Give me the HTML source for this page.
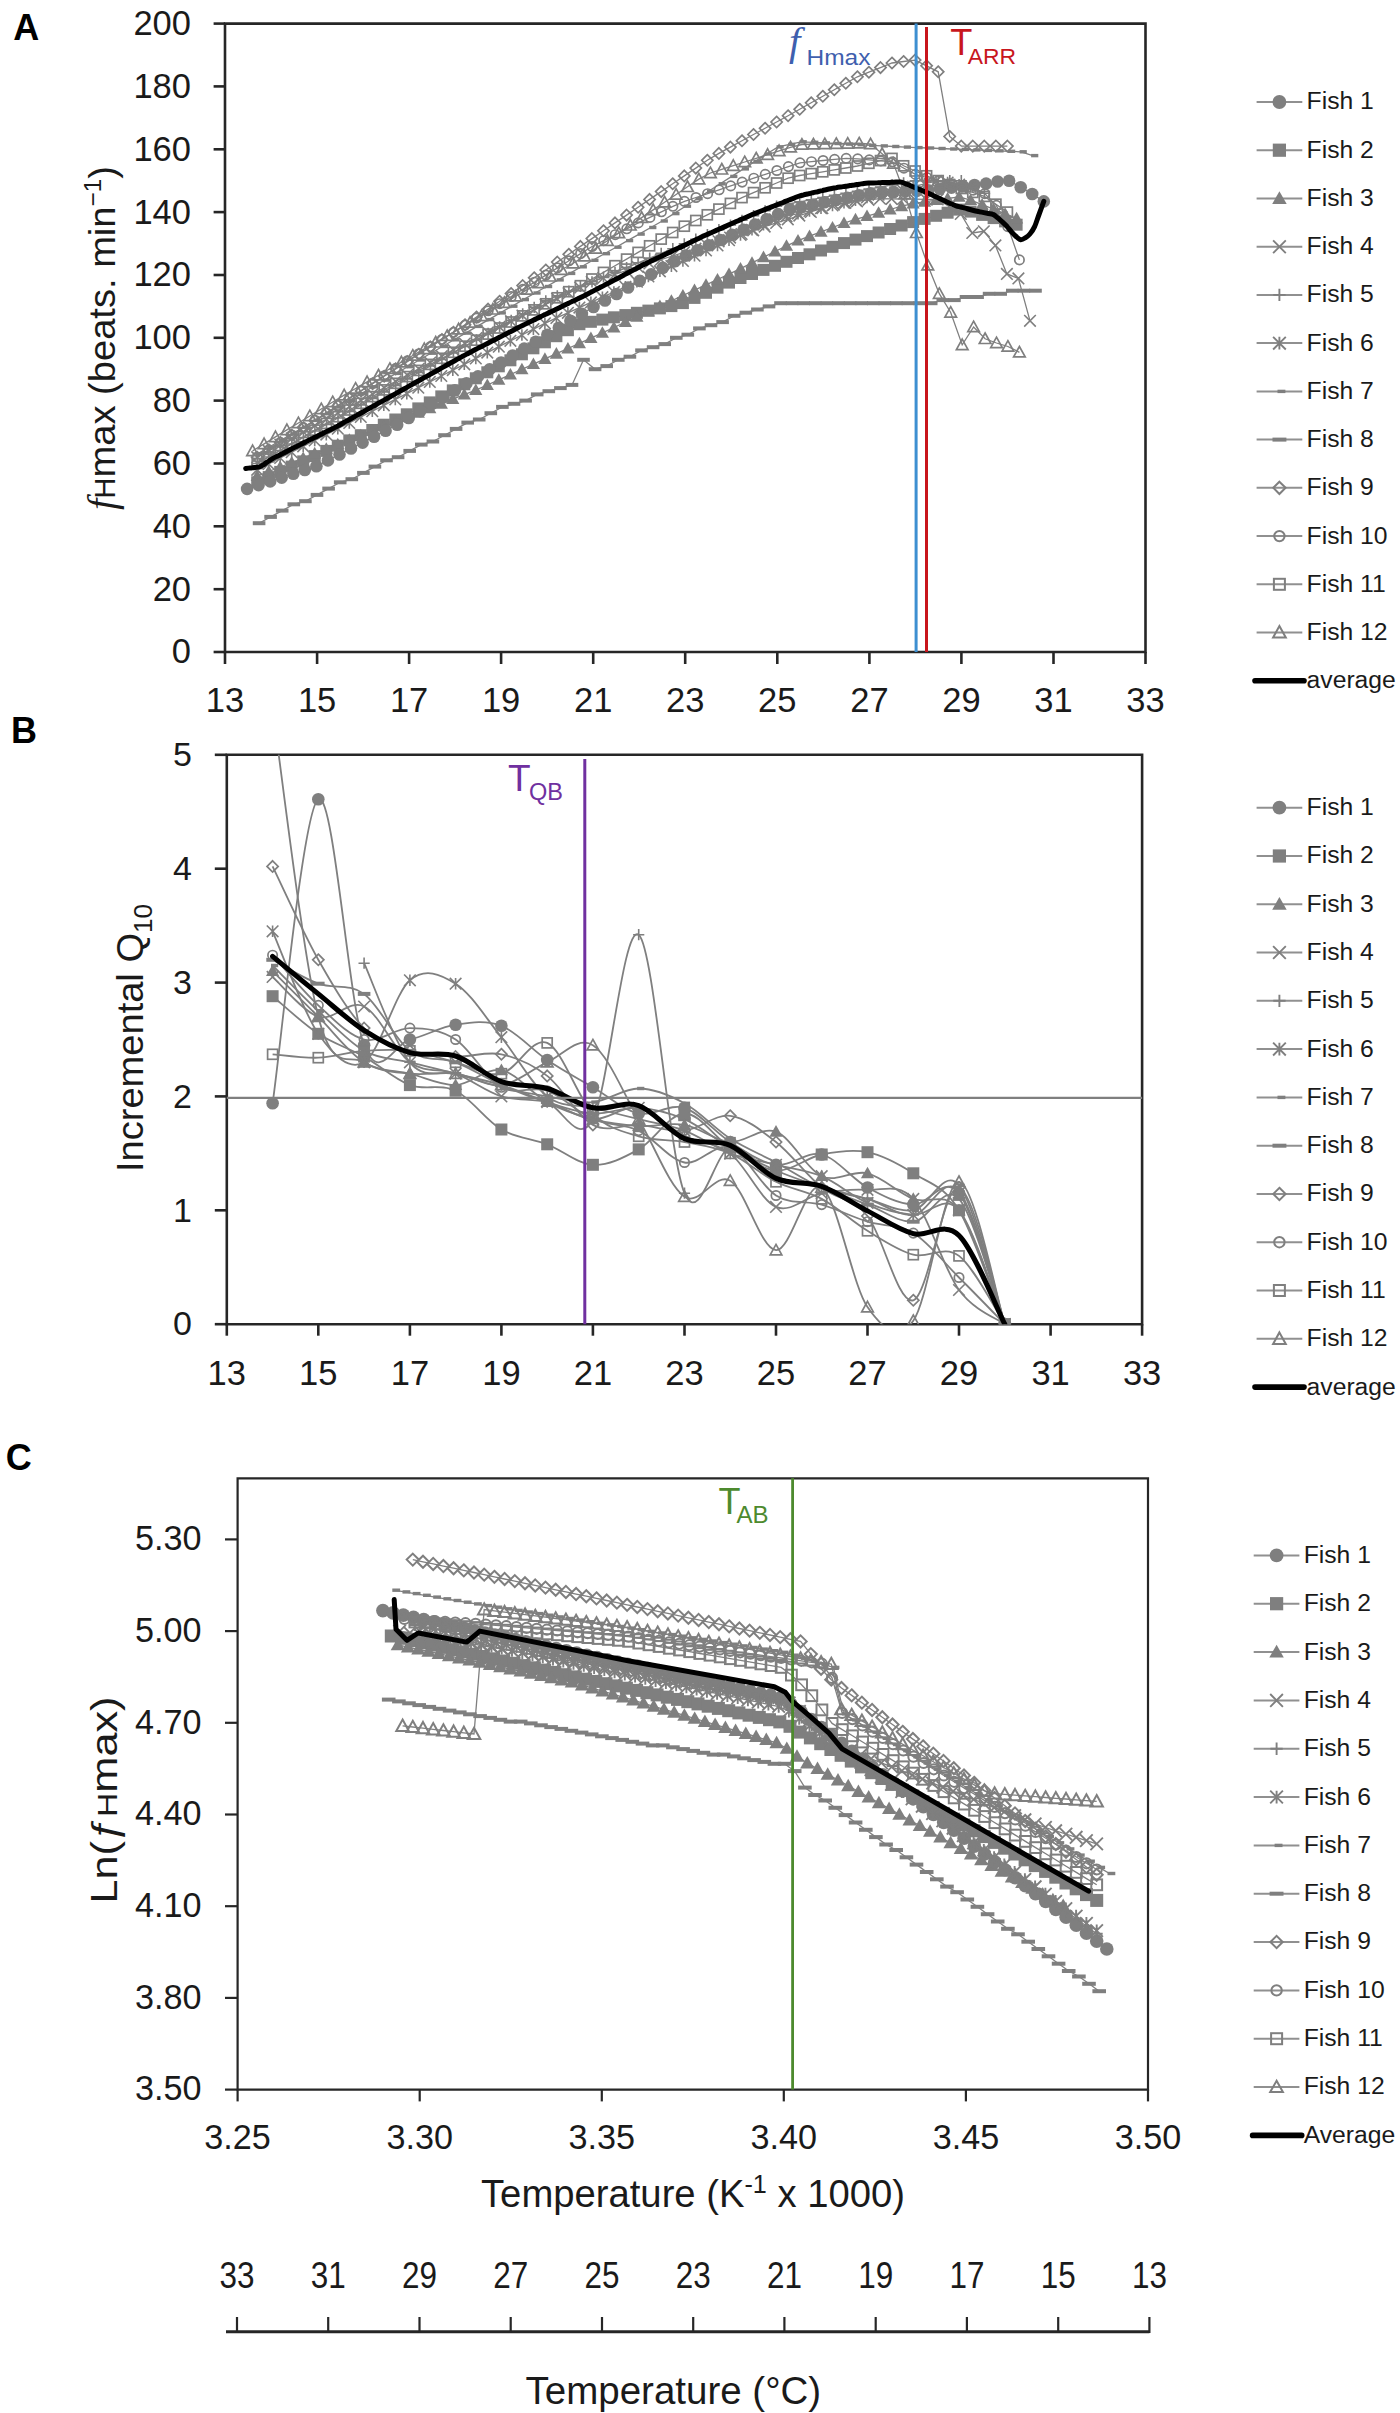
<!DOCTYPE html>
<html><head><meta charset="utf-8"><style>
html,body{margin:0;padding:0;background:#fff;}
svg{display:block;font-family:"Liberation Sans", sans-serif;}
</style></head><body>
<svg width="1400" height="2413" viewBox="0 0 1400 2413">
<rect width="1400" height="2413" fill="#fff"/>
<path d="M225.0 23.6H1145.5V652.0H225.0Z" fill="none" stroke="#262626" stroke-width="2.6"/>
<line x1="213.6" y1="652.0" x2="225.0" y2="652.0" stroke="#262626" stroke-width="2.6"/>
<text x="191.0" y="663.4" font-size="34.5" text-anchor="end" font-weight="normal" fill="#1a1a1a" >0</text>
<line x1="213.6" y1="589.2" x2="225.0" y2="589.2" stroke="#262626" stroke-width="2.6"/>
<text x="191.0" y="600.6" font-size="34.5" text-anchor="end" font-weight="normal" fill="#1a1a1a" >20</text>
<line x1="213.6" y1="526.3" x2="225.0" y2="526.3" stroke="#262626" stroke-width="2.6"/>
<text x="191.0" y="537.7" font-size="34.5" text-anchor="end" font-weight="normal" fill="#1a1a1a" >40</text>
<line x1="213.6" y1="463.5" x2="225.0" y2="463.5" stroke="#262626" stroke-width="2.6"/>
<text x="191.0" y="474.9" font-size="34.5" text-anchor="end" font-weight="normal" fill="#1a1a1a" >60</text>
<line x1="213.6" y1="400.6" x2="225.0" y2="400.6" stroke="#262626" stroke-width="2.6"/>
<text x="191.0" y="412.0" font-size="34.5" text-anchor="end" font-weight="normal" fill="#1a1a1a" >80</text>
<line x1="213.6" y1="337.8" x2="225.0" y2="337.8" stroke="#262626" stroke-width="2.6"/>
<text x="191.0" y="349.2" font-size="34.5" text-anchor="end" font-weight="normal" fill="#1a1a1a" >100</text>
<line x1="213.6" y1="275.0" x2="225.0" y2="275.0" stroke="#262626" stroke-width="2.6"/>
<text x="191.0" y="286.4" font-size="34.5" text-anchor="end" font-weight="normal" fill="#1a1a1a" >120</text>
<line x1="213.6" y1="212.1" x2="225.0" y2="212.1" stroke="#262626" stroke-width="2.6"/>
<text x="191.0" y="223.5" font-size="34.5" text-anchor="end" font-weight="normal" fill="#1a1a1a" >140</text>
<line x1="213.6" y1="149.3" x2="225.0" y2="149.3" stroke="#262626" stroke-width="2.6"/>
<text x="191.0" y="160.7" font-size="34.5" text-anchor="end" font-weight="normal" fill="#1a1a1a" >160</text>
<line x1="213.6" y1="86.4" x2="225.0" y2="86.4" stroke="#262626" stroke-width="2.6"/>
<text x="191.0" y="97.8" font-size="34.5" text-anchor="end" font-weight="normal" fill="#1a1a1a" >180</text>
<line x1="213.6" y1="23.6" x2="225.0" y2="23.6" stroke="#262626" stroke-width="2.6"/>
<text x="191.0" y="35.0" font-size="34.5" text-anchor="end" font-weight="normal" fill="#1a1a1a" >200</text>
<line x1="225.0" y1="652.0" x2="225.0" y2="664" stroke="#262626" stroke-width="2.6"/>
<text x="225.0" y="712.0" font-size="34.5" text-anchor="middle" font-weight="normal" fill="#1a1a1a" >13</text>
<line x1="317.1" y1="652.0" x2="317.1" y2="664" stroke="#262626" stroke-width="2.6"/>
<text x="317.1" y="712.0" font-size="34.5" text-anchor="middle" font-weight="normal" fill="#1a1a1a" >15</text>
<line x1="409.1" y1="652.0" x2="409.1" y2="664" stroke="#262626" stroke-width="2.6"/>
<text x="409.1" y="712.0" font-size="34.5" text-anchor="middle" font-weight="normal" fill="#1a1a1a" >17</text>
<line x1="501.1" y1="652.0" x2="501.1" y2="664" stroke="#262626" stroke-width="2.6"/>
<text x="501.1" y="712.0" font-size="34.5" text-anchor="middle" font-weight="normal" fill="#1a1a1a" >19</text>
<line x1="593.2" y1="652.0" x2="593.2" y2="664" stroke="#262626" stroke-width="2.6"/>
<text x="593.2" y="712.0" font-size="34.5" text-anchor="middle" font-weight="normal" fill="#1a1a1a" >21</text>
<line x1="685.2" y1="652.0" x2="685.2" y2="664" stroke="#262626" stroke-width="2.6"/>
<text x="685.2" y="712.0" font-size="34.5" text-anchor="middle" font-weight="normal" fill="#1a1a1a" >23</text>
<line x1="777.3" y1="652.0" x2="777.3" y2="664" stroke="#262626" stroke-width="2.6"/>
<text x="777.3" y="712.0" font-size="34.5" text-anchor="middle" font-weight="normal" fill="#1a1a1a" >25</text>
<line x1="869.4" y1="652.0" x2="869.4" y2="664" stroke="#262626" stroke-width="2.6"/>
<text x="869.4" y="712.0" font-size="34.5" text-anchor="middle" font-weight="normal" fill="#1a1a1a" >27</text>
<line x1="961.4" y1="652.0" x2="961.4" y2="664" stroke="#262626" stroke-width="2.6"/>
<text x="961.4" y="712.0" font-size="34.5" text-anchor="middle" font-weight="normal" fill="#1a1a1a" >29</text>
<line x1="1053.5" y1="652.0" x2="1053.5" y2="664" stroke="#262626" stroke-width="2.6"/>
<text x="1053.5" y="712.0" font-size="34.5" text-anchor="middle" font-weight="normal" fill="#1a1a1a" >31</text>
<line x1="1145.5" y1="652.0" x2="1145.5" y2="664" stroke="#262626" stroke-width="2.6"/>
<text x="1145.5" y="712.0" font-size="34.5" text-anchor="middle" font-weight="normal" fill="#1a1a1a" >33</text>
<path d="M226.8 754.8H1142.1V1324.2H226.8Z" fill="none" stroke="#262626" stroke-width="2.6"/>
<line x1="214.8" y1="1324.2" x2="226.8" y2="1324.2" stroke="#262626" stroke-width="2.6"/>
<text x="192.0" y="1335.4" font-size="34.0" text-anchor="end" font-weight="normal" fill="#1a1a1a" >0</text>
<line x1="214.8" y1="1210.3" x2="226.8" y2="1210.3" stroke="#262626" stroke-width="2.6"/>
<text x="192.0" y="1221.5" font-size="34.0" text-anchor="end" font-weight="normal" fill="#1a1a1a" >1</text>
<line x1="214.8" y1="1096.4" x2="226.8" y2="1096.4" stroke="#262626" stroke-width="2.6"/>
<text x="192.0" y="1107.6" font-size="34.0" text-anchor="end" font-weight="normal" fill="#1a1a1a" >2</text>
<line x1="214.8" y1="982.6" x2="226.8" y2="982.6" stroke="#262626" stroke-width="2.6"/>
<text x="192.0" y="993.8" font-size="34.0" text-anchor="end" font-weight="normal" fill="#1a1a1a" >3</text>
<line x1="214.8" y1="868.7" x2="226.8" y2="868.7" stroke="#262626" stroke-width="2.6"/>
<text x="192.0" y="879.9" font-size="34.0" text-anchor="end" font-weight="normal" fill="#1a1a1a" >4</text>
<line x1="214.8" y1="754.8" x2="226.8" y2="754.8" stroke="#262626" stroke-width="2.6"/>
<text x="192.0" y="766.0" font-size="34.0" text-anchor="end" font-weight="normal" fill="#1a1a1a" >5</text>
<line x1="226.8" y1="1324.2" x2="226.8" y2="1335.7" stroke="#262626" stroke-width="2.6"/>
<text x="226.8" y="1384.5" font-size="34.5" text-anchor="middle" font-weight="normal" fill="#1a1a1a" >13</text>
<line x1="318.3" y1="1324.2" x2="318.3" y2="1335.7" stroke="#262626" stroke-width="2.6"/>
<text x="318.3" y="1384.5" font-size="34.5" text-anchor="middle" font-weight="normal" fill="#1a1a1a" >15</text>
<line x1="409.9" y1="1324.2" x2="409.9" y2="1335.7" stroke="#262626" stroke-width="2.6"/>
<text x="409.9" y="1384.5" font-size="34.5" text-anchor="middle" font-weight="normal" fill="#1a1a1a" >17</text>
<line x1="501.4" y1="1324.2" x2="501.4" y2="1335.7" stroke="#262626" stroke-width="2.6"/>
<text x="501.4" y="1384.5" font-size="34.5" text-anchor="middle" font-weight="normal" fill="#1a1a1a" >19</text>
<line x1="592.9" y1="1324.2" x2="592.9" y2="1335.7" stroke="#262626" stroke-width="2.6"/>
<text x="592.9" y="1384.5" font-size="34.5" text-anchor="middle" font-weight="normal" fill="#1a1a1a" >21</text>
<line x1="684.5" y1="1324.2" x2="684.5" y2="1335.7" stroke="#262626" stroke-width="2.6"/>
<text x="684.5" y="1384.5" font-size="34.5" text-anchor="middle" font-weight="normal" fill="#1a1a1a" >23</text>
<line x1="776.0" y1="1324.2" x2="776.0" y2="1335.7" stroke="#262626" stroke-width="2.6"/>
<text x="776.0" y="1384.5" font-size="34.5" text-anchor="middle" font-weight="normal" fill="#1a1a1a" >25</text>
<line x1="867.5" y1="1324.2" x2="867.5" y2="1335.7" stroke="#262626" stroke-width="2.6"/>
<text x="867.5" y="1384.5" font-size="34.5" text-anchor="middle" font-weight="normal" fill="#1a1a1a" >27</text>
<line x1="959.0" y1="1324.2" x2="959.0" y2="1335.7" stroke="#262626" stroke-width="2.6"/>
<text x="959.0" y="1384.5" font-size="34.5" text-anchor="middle" font-weight="normal" fill="#1a1a1a" >29</text>
<line x1="1050.6" y1="1324.2" x2="1050.6" y2="1335.7" stroke="#262626" stroke-width="2.6"/>
<text x="1050.6" y="1384.5" font-size="34.5" text-anchor="middle" font-weight="normal" fill="#1a1a1a" >31</text>
<line x1="1142.1" y1="1324.2" x2="1142.1" y2="1335.7" stroke="#262626" stroke-width="2.6"/>
<text x="1142.1" y="1384.5" font-size="34.5" text-anchor="middle" font-weight="normal" fill="#1a1a1a" >33</text>
<path d="M237.6 1478.3H1148.0V2089.6H237.6Z" fill="none" stroke="#262626" stroke-width="2.2"/>
<line x1="225" y1="2089.6" x2="237.6" y2="2089.6" stroke="#262626" stroke-width="2.2"/>
<text x="201.6" y="2100.3" font-size="34.2" text-anchor="end" font-weight="normal" fill="#1a1a1a" >3.50</text>
<line x1="225" y1="1997.9" x2="237.6" y2="1997.9" stroke="#262626" stroke-width="2.2"/>
<text x="201.6" y="2008.6" font-size="34.2" text-anchor="end" font-weight="normal" fill="#1a1a1a" >3.80</text>
<line x1="225" y1="1906.2" x2="237.6" y2="1906.2" stroke="#262626" stroke-width="2.2"/>
<text x="201.6" y="1916.9" font-size="34.2" text-anchor="end" font-weight="normal" fill="#1a1a1a" >4.10</text>
<line x1="225" y1="1814.5" x2="237.6" y2="1814.5" stroke="#262626" stroke-width="2.2"/>
<text x="201.6" y="1825.2" font-size="34.2" text-anchor="end" font-weight="normal" fill="#1a1a1a" >4.40</text>
<line x1="225" y1="1722.8" x2="237.6" y2="1722.8" stroke="#262626" stroke-width="2.2"/>
<text x="201.6" y="1733.5" font-size="34.2" text-anchor="end" font-weight="normal" fill="#1a1a1a" >4.70</text>
<line x1="225" y1="1631.1" x2="237.6" y2="1631.1" stroke="#262626" stroke-width="2.2"/>
<text x="201.6" y="1641.8" font-size="34.2" text-anchor="end" font-weight="normal" fill="#1a1a1a" >5.00</text>
<line x1="225" y1="1539.4" x2="237.6" y2="1539.4" stroke="#262626" stroke-width="2.2"/>
<text x="201.6" y="1550.1" font-size="34.2" text-anchor="end" font-weight="normal" fill="#1a1a1a" >5.30</text>
<line x1="237.6" y1="2089.6" x2="237.6" y2="2101.4" stroke="#262626" stroke-width="2.2"/>
<text x="237.6" y="2149.3" font-size="34.2" text-anchor="middle" font-weight="normal" fill="#1a1a1a" >3.25</text>
<line x1="419.7" y1="2089.6" x2="419.7" y2="2101.4" stroke="#262626" stroke-width="2.2"/>
<text x="419.7" y="2149.3" font-size="34.2" text-anchor="middle" font-weight="normal" fill="#1a1a1a" >3.30</text>
<line x1="601.8" y1="2089.6" x2="601.8" y2="2101.4" stroke="#262626" stroke-width="2.2"/>
<text x="601.8" y="2149.3" font-size="34.2" text-anchor="middle" font-weight="normal" fill="#1a1a1a" >3.35</text>
<line x1="783.8" y1="2089.6" x2="783.8" y2="2101.4" stroke="#262626" stroke-width="2.2"/>
<text x="783.8" y="2149.3" font-size="34.2" text-anchor="middle" font-weight="normal" fill="#1a1a1a" >3.40</text>
<line x1="965.9" y1="2089.6" x2="965.9" y2="2101.4" stroke="#262626" stroke-width="2.2"/>
<text x="965.9" y="2149.3" font-size="34.2" text-anchor="middle" font-weight="normal" fill="#1a1a1a" >3.45</text>
<line x1="1148.0" y1="2089.6" x2="1148.0" y2="2101.4" stroke="#262626" stroke-width="2.2"/>
<text x="1148.0" y="2149.3" font-size="34.2" text-anchor="middle" font-weight="normal" fill="#1a1a1a" >3.50</text>
<line x1="226" y1="2331.7" x2="1149.4" y2="2331.7" stroke="#262626" stroke-width="3"/>
<line x1="237.0" y1="2317" x2="237.0" y2="2333" stroke="#262626" stroke-width="2.2"/>
<text x="237.0" y="2288.3" font-size="37" text-anchor="middle" fill="#1a1a1a" transform="translate(237.0 0) scale(0.85 1) translate(-237.0 0)">33</text>
<line x1="328.2" y1="2317" x2="328.2" y2="2333" stroke="#262626" stroke-width="2.2"/>
<text x="328.2" y="2288.3" font-size="37" text-anchor="middle" fill="#1a1a1a" transform="translate(328.2 0) scale(0.85 1) translate(-328.2 0)">31</text>
<line x1="419.5" y1="2317" x2="419.5" y2="2333" stroke="#262626" stroke-width="2.2"/>
<text x="419.5" y="2288.3" font-size="37" text-anchor="middle" fill="#1a1a1a" transform="translate(419.5 0) scale(0.85 1) translate(-419.5 0)">29</text>
<line x1="510.7" y1="2317" x2="510.7" y2="2333" stroke="#262626" stroke-width="2.2"/>
<text x="510.7" y="2288.3" font-size="37" text-anchor="middle" fill="#1a1a1a" transform="translate(510.7 0) scale(0.85 1) translate(-510.7 0)">27</text>
<line x1="602.0" y1="2317" x2="602.0" y2="2333" stroke="#262626" stroke-width="2.2"/>
<text x="602.0" y="2288.3" font-size="37" text-anchor="middle" fill="#1a1a1a" transform="translate(602.0 0) scale(0.85 1) translate(-602.0 0)">25</text>
<line x1="693.2" y1="2317" x2="693.2" y2="2333" stroke="#262626" stroke-width="2.2"/>
<text x="693.2" y="2288.3" font-size="37" text-anchor="middle" fill="#1a1a1a" transform="translate(693.2 0) scale(0.85 1) translate(-693.2 0)">23</text>
<line x1="784.4" y1="2317" x2="784.4" y2="2333" stroke="#262626" stroke-width="2.2"/>
<text x="784.4" y="2288.3" font-size="37" text-anchor="middle" fill="#1a1a1a" transform="translate(784.4 0) scale(0.85 1) translate(-784.4 0)">21</text>
<line x1="875.7" y1="2317" x2="875.7" y2="2333" stroke="#262626" stroke-width="2.2"/>
<text x="875.7" y="2288.3" font-size="37" text-anchor="middle" fill="#1a1a1a" transform="translate(875.7 0) scale(0.85 1) translate(-875.7 0)">19</text>
<line x1="966.9" y1="2317" x2="966.9" y2="2333" stroke="#262626" stroke-width="2.2"/>
<text x="966.9" y="2288.3" font-size="37" text-anchor="middle" fill="#1a1a1a" transform="translate(966.9 0) scale(0.85 1) translate(-966.9 0)">17</text>
<line x1="1058.2" y1="2317" x2="1058.2" y2="2333" stroke="#262626" stroke-width="2.2"/>
<text x="1058.2" y="2288.3" font-size="37" text-anchor="middle" fill="#1a1a1a" transform="translate(1058.2 0) scale(0.85 1) translate(-1058.2 0)">15</text>
<line x1="1149.4" y1="2317" x2="1149.4" y2="2333" stroke="#262626" stroke-width="2.2"/>
<text x="1149.4" y="2288.3" font-size="37" text-anchor="middle" fill="#1a1a1a" transform="translate(1149.4 0) scale(0.85 1) translate(-1149.4 0)">13</text>
<text x="13.2" y="39.7" font-size="36" text-anchor="start" font-weight="bold" fill="#000" >A</text>
<text x="10.9" y="742.6" font-size="36" text-anchor="start" font-weight="bold" fill="#000" >B</text>
<text x="5.7" y="1470.3" font-size="36" text-anchor="start" font-weight="bold" fill="#000" >C</text>
<line x1="1256.6" y1="102.0" x2="1302.3" y2="102.0" stroke="#909090" stroke-width="2"/>
<circle cx="1279.4" cy="102.0" r="6.9" fill="#7f7f7f"/>
<text x="1306.6" y="109.4" font-size="24.7" text-anchor="start" font-weight="normal" fill="#1a1a1a" >Fish 1</text>
<line x1="1256.6" y1="150.2" x2="1302.3" y2="150.2" stroke="#909090" stroke-width="2"/>
<rect x="1272.8" y="143.6" width="13.2" height="13.2" fill="#7f7f7f"/>
<text x="1306.6" y="157.6" font-size="24.7" text-anchor="start" font-weight="normal" fill="#1a1a1a" >Fish 2</text>
<line x1="1256.6" y1="198.5" x2="1302.3" y2="198.5" stroke="#909090" stroke-width="2"/>
<path d="M1279.4 191.2L1286.7 203.9L1272.2 203.9Z" fill="#7f7f7f"/>
<text x="1306.6" y="205.9" font-size="24.7" text-anchor="start" font-weight="normal" fill="#1a1a1a" >Fish 3</text>
<line x1="1256.6" y1="246.7" x2="1302.3" y2="246.7" stroke="#909090" stroke-width="2"/>
<path d="M1273.1 240.3L1285.8 253.1M1285.8 240.3L1273.1 253.1" stroke="#7f7f7f" stroke-width="1.9" fill="none"/>
<text x="1306.6" y="254.1" font-size="24.7" text-anchor="start" font-weight="normal" fill="#1a1a1a" >Fish 4</text>
<line x1="1256.6" y1="294.9" x2="1302.3" y2="294.9" stroke="#909090" stroke-width="2"/>
<path d="M1273.3 294.9L1285.6 294.9M1279.4 288.8L1279.4 301.1" stroke="#7f7f7f" stroke-width="1.9" fill="none"/>
<text x="1306.6" y="302.3" font-size="24.7" text-anchor="start" font-weight="normal" fill="#1a1a1a" >Fish 5</text>
<line x1="1256.6" y1="343.1" x2="1302.3" y2="343.1" stroke="#909090" stroke-width="2"/>
<path d="M1273.1 336.8L1285.8 349.5M1285.8 336.8L1273.1 349.5M1279.4 336.8L1279.4 349.5" stroke="#7f7f7f" stroke-width="1.9" fill="none"/>
<text x="1306.6" y="350.5" font-size="24.7" text-anchor="start" font-weight="normal" fill="#1a1a1a" >Fish 6</text>
<line x1="1256.6" y1="391.4" x2="1302.3" y2="391.4" stroke="#909090" stroke-width="2"/>
<rect x="1277.5" y="389.7" width="7.9" height="3.4" fill="#7f7f7f"/>
<text x="1306.6" y="398.8" font-size="24.7" text-anchor="start" font-weight="normal" fill="#1a1a1a" >Fish 7</text>
<line x1="1256.6" y1="439.6" x2="1302.3" y2="439.6" stroke="#909090" stroke-width="2"/>
<rect x="1272.5" y="437.6" width="13.9" height="4" fill="#7f7f7f"/>
<text x="1306.6" y="447.0" font-size="24.7" text-anchor="start" font-weight="normal" fill="#1a1a1a" >Fish 8</text>
<line x1="1256.6" y1="487.8" x2="1302.3" y2="487.8" stroke="#909090" stroke-width="2"/>
<path d="M1279.4 481.7L1285.6 487.8L1279.4 494.0L1273.3 487.8Z" stroke="#7f7f7f" stroke-width="2.0" fill="none"/>
<text x="1306.6" y="495.2" font-size="24.7" text-anchor="start" font-weight="normal" fill="#1a1a1a" >Fish 9</text>
<line x1="1256.6" y1="536.1" x2="1302.3" y2="536.1" stroke="#909090" stroke-width="2"/>
<circle cx="1279.4" cy="536.1" r="5.2" stroke="#7f7f7f" stroke-width="2.0" fill="none"/>
<text x="1306.6" y="543.5" font-size="24.7" text-anchor="start" font-weight="normal" fill="#1a1a1a" >Fish 10</text>
<line x1="1256.6" y1="584.3" x2="1302.3" y2="584.3" stroke="#909090" stroke-width="2"/>
<rect x="1273.9" y="578.8" width="11.0" height="11.0" stroke="#7f7f7f" stroke-width="2.0" fill="none"/>
<text x="1306.6" y="591.7" font-size="24.7" text-anchor="start" font-weight="normal" fill="#1a1a1a" >Fish 11</text>
<line x1="1256.6" y1="632.5" x2="1302.3" y2="632.5" stroke="#909090" stroke-width="2"/>
<path d="M1279.4 626.1L1285.8 637.6L1273.1 637.6Z" stroke="#7f7f7f" stroke-width="2.0" fill="none"/>
<text x="1306.6" y="639.9" font-size="24.7" text-anchor="start" font-weight="normal" fill="#1a1a1a" >Fish 12</text>
<line x1="1255" y1="680.8" x2="1304" y2="680.8" stroke="#000" stroke-width="5.6" stroke-linecap="round"/>
<text x="1306.6" y="688.2" font-size="24.7" text-anchor="start" font-weight="normal" fill="#1a1a1a" >average</text>
<line x1="1256.6" y1="807.7" x2="1302.3" y2="807.7" stroke="#909090" stroke-width="2"/>
<circle cx="1279.4" cy="807.7" r="6.9" fill="#7f7f7f"/>
<text x="1306.6" y="815.1" font-size="24.7" text-anchor="start" font-weight="normal" fill="#1a1a1a" >Fish 1</text>
<line x1="1256.6" y1="856.0" x2="1302.3" y2="856.0" stroke="#909090" stroke-width="2"/>
<rect x="1272.8" y="849.4" width="13.2" height="13.2" fill="#7f7f7f"/>
<text x="1306.6" y="863.4" font-size="24.7" text-anchor="start" font-weight="normal" fill="#1a1a1a" >Fish 2</text>
<line x1="1256.6" y1="904.3" x2="1302.3" y2="904.3" stroke="#909090" stroke-width="2"/>
<path d="M1279.4 897.0L1286.7 909.7L1272.2 909.7Z" fill="#7f7f7f"/>
<text x="1306.6" y="911.7" font-size="24.7" text-anchor="start" font-weight="normal" fill="#1a1a1a" >Fish 3</text>
<line x1="1256.6" y1="952.5" x2="1302.3" y2="952.5" stroke="#909090" stroke-width="2"/>
<path d="M1273.1 946.2L1285.8 958.9M1285.8 946.2L1273.1 958.9" stroke="#7f7f7f" stroke-width="1.9" fill="none"/>
<text x="1306.6" y="959.9" font-size="24.7" text-anchor="start" font-weight="normal" fill="#1a1a1a" >Fish 4</text>
<line x1="1256.6" y1="1000.8" x2="1302.3" y2="1000.8" stroke="#909090" stroke-width="2"/>
<path d="M1273.3 1000.8L1285.6 1000.8M1279.4 994.7L1279.4 1007.0" stroke="#7f7f7f" stroke-width="1.9" fill="none"/>
<text x="1306.6" y="1008.2" font-size="24.7" text-anchor="start" font-weight="normal" fill="#1a1a1a" >Fish 5</text>
<line x1="1256.6" y1="1049.1" x2="1302.3" y2="1049.1" stroke="#909090" stroke-width="2"/>
<path d="M1273.1 1042.7L1285.8 1055.5M1285.8 1042.7L1273.1 1055.5M1279.4 1042.7L1279.4 1055.5" stroke="#7f7f7f" stroke-width="1.9" fill="none"/>
<text x="1306.6" y="1056.5" font-size="24.7" text-anchor="start" font-weight="normal" fill="#1a1a1a" >Fish 6</text>
<line x1="1256.6" y1="1097.4" x2="1302.3" y2="1097.4" stroke="#909090" stroke-width="2"/>
<rect x="1277.5" y="1095.7" width="7.9" height="3.4" fill="#7f7f7f"/>
<text x="1306.6" y="1104.8" font-size="24.7" text-anchor="start" font-weight="normal" fill="#1a1a1a" >Fish 7</text>
<line x1="1256.6" y1="1145.7" x2="1302.3" y2="1145.7" stroke="#909090" stroke-width="2"/>
<rect x="1272.5" y="1143.7" width="13.9" height="4" fill="#7f7f7f"/>
<text x="1306.6" y="1153.1" font-size="24.7" text-anchor="start" font-weight="normal" fill="#1a1a1a" >Fish 8</text>
<line x1="1256.6" y1="1193.9" x2="1302.3" y2="1193.9" stroke="#909090" stroke-width="2"/>
<path d="M1279.4 1187.8L1285.6 1193.9L1279.4 1200.1L1273.3 1193.9Z" stroke="#7f7f7f" stroke-width="2.0" fill="none"/>
<text x="1306.6" y="1201.3" font-size="24.7" text-anchor="start" font-weight="normal" fill="#1a1a1a" >Fish 9</text>
<line x1="1256.6" y1="1242.2" x2="1302.3" y2="1242.2" stroke="#909090" stroke-width="2"/>
<circle cx="1279.4" cy="1242.2" r="5.2" stroke="#7f7f7f" stroke-width="2.0" fill="none"/>
<text x="1306.6" y="1249.6" font-size="24.7" text-anchor="start" font-weight="normal" fill="#1a1a1a" >Fish 10</text>
<line x1="1256.6" y1="1290.5" x2="1302.3" y2="1290.5" stroke="#909090" stroke-width="2"/>
<rect x="1273.9" y="1285.0" width="11.0" height="11.0" stroke="#7f7f7f" stroke-width="2.0" fill="none"/>
<text x="1306.6" y="1297.9" font-size="24.7" text-anchor="start" font-weight="normal" fill="#1a1a1a" >Fish 11</text>
<line x1="1256.6" y1="1338.8" x2="1302.3" y2="1338.8" stroke="#909090" stroke-width="2"/>
<path d="M1279.4 1332.4L1285.8 1343.9L1273.1 1343.9Z" stroke="#7f7f7f" stroke-width="2.0" fill="none"/>
<text x="1306.6" y="1346.2" font-size="24.7" text-anchor="start" font-weight="normal" fill="#1a1a1a" >Fish 12</text>
<line x1="1255" y1="1387.1" x2="1304" y2="1387.1" stroke="#000" stroke-width="5.6" stroke-linecap="round"/>
<text x="1306.6" y="1394.5" font-size="24.7" text-anchor="start" font-weight="normal" fill="#1a1a1a" >average</text>
<line x1="1253.7" y1="1555.4" x2="1299.4" y2="1555.4" stroke="#909090" stroke-width="2"/>
<circle cx="1276.6" cy="1555.4" r="6.9" fill="#7f7f7f"/>
<text x="1303.7" y="1562.8" font-size="24.7" text-anchor="start" font-weight="normal" fill="#1a1a1a" >Fish 1</text>
<line x1="1253.7" y1="1603.7" x2="1299.4" y2="1603.7" stroke="#909090" stroke-width="2"/>
<rect x="1270.0" y="1597.1" width="13.2" height="13.2" fill="#7f7f7f"/>
<text x="1303.7" y="1611.1" font-size="24.7" text-anchor="start" font-weight="normal" fill="#1a1a1a" >Fish 2</text>
<line x1="1253.7" y1="1652.1" x2="1299.4" y2="1652.1" stroke="#909090" stroke-width="2"/>
<path d="M1276.6 1644.8L1283.8 1657.5L1269.3 1657.5Z" fill="#7f7f7f"/>
<text x="1303.7" y="1659.5" font-size="24.7" text-anchor="start" font-weight="normal" fill="#1a1a1a" >Fish 3</text>
<line x1="1253.7" y1="1700.4" x2="1299.4" y2="1700.4" stroke="#909090" stroke-width="2"/>
<path d="M1270.2 1694.0L1282.9 1706.8M1282.9 1694.0L1270.2 1706.8" stroke="#7f7f7f" stroke-width="1.9" fill="none"/>
<text x="1303.7" y="1707.8" font-size="24.7" text-anchor="start" font-weight="normal" fill="#1a1a1a" >Fish 4</text>
<line x1="1253.7" y1="1748.7" x2="1299.4" y2="1748.7" stroke="#909090" stroke-width="2"/>
<path d="M1270.4 1748.7L1282.7 1748.7M1276.6 1742.6L1276.6 1754.9" stroke="#7f7f7f" stroke-width="1.9" fill="none"/>
<text x="1303.7" y="1756.1" font-size="24.7" text-anchor="start" font-weight="normal" fill="#1a1a1a" >Fish 5</text>
<line x1="1253.7" y1="1797.1" x2="1299.4" y2="1797.1" stroke="#909090" stroke-width="2"/>
<path d="M1270.2 1790.7L1282.9 1803.4M1282.9 1790.7L1270.2 1803.4M1276.6 1790.7L1276.6 1803.4" stroke="#7f7f7f" stroke-width="1.9" fill="none"/>
<text x="1303.7" y="1804.5" font-size="24.7" text-anchor="start" font-weight="normal" fill="#1a1a1a" >Fish 6</text>
<line x1="1253.7" y1="1845.4" x2="1299.4" y2="1845.4" stroke="#909090" stroke-width="2"/>
<rect x="1274.6" y="1843.7" width="7.9" height="3.4" fill="#7f7f7f"/>
<text x="1303.7" y="1852.8" font-size="24.7" text-anchor="start" font-weight="normal" fill="#1a1a1a" >Fish 7</text>
<line x1="1253.7" y1="1893.7" x2="1299.4" y2="1893.7" stroke="#909090" stroke-width="2"/>
<rect x="1269.6" y="1891.7" width="13.9" height="4" fill="#7f7f7f"/>
<text x="1303.7" y="1901.1" font-size="24.7" text-anchor="start" font-weight="normal" fill="#1a1a1a" >Fish 8</text>
<line x1="1253.7" y1="1942.0" x2="1299.4" y2="1942.0" stroke="#909090" stroke-width="2"/>
<path d="M1276.6 1935.9L1282.7 1942.0L1276.6 1948.2L1270.4 1942.0Z" stroke="#7f7f7f" stroke-width="2.0" fill="none"/>
<text x="1303.7" y="1949.4" font-size="24.7" text-anchor="start" font-weight="normal" fill="#1a1a1a" >Fish 9</text>
<line x1="1253.7" y1="1990.4" x2="1299.4" y2="1990.4" stroke="#909090" stroke-width="2"/>
<circle cx="1276.6" cy="1990.4" r="5.2" stroke="#7f7f7f" stroke-width="2.0" fill="none"/>
<text x="1303.7" y="1997.8" font-size="24.7" text-anchor="start" font-weight="normal" fill="#1a1a1a" >Fish 10</text>
<line x1="1253.7" y1="2038.7" x2="1299.4" y2="2038.7" stroke="#909090" stroke-width="2"/>
<rect x="1271.1" y="2033.2" width="11.0" height="11.0" stroke="#7f7f7f" stroke-width="2.0" fill="none"/>
<text x="1303.7" y="2046.1" font-size="24.7" text-anchor="start" font-weight="normal" fill="#1a1a1a" >Fish 11</text>
<line x1="1253.7" y1="2087.0" x2="1299.4" y2="2087.0" stroke="#909090" stroke-width="2"/>
<path d="M1276.6 2080.7L1282.9 2092.1L1270.2 2092.1Z" stroke="#7f7f7f" stroke-width="2.0" fill="none"/>
<text x="1303.7" y="2094.4" font-size="24.7" text-anchor="start" font-weight="normal" fill="#1a1a1a" >Fish 12</text>
<line x1="1252.6" y1="2135.4" x2="1301.7" y2="2135.4" stroke="#000" stroke-width="5.6" stroke-linecap="round"/>
<text x="1303.7" y="2142.8" font-size="24.7" text-anchor="start" font-weight="normal" fill="#1a1a1a" >Average</text>
<text transform="translate(115 510) rotate(-90)" font-size="37.5" fill="#1a1a1a" textLength="344" lengthAdjust="spacingAndGlyphs"><tspan font-family="Liberation Serif" font-style="italic" font-size="40">f</tspan><tspan font-size="29">H</tspan>max (beats. min<tspan dy="-14" font-size="24">−1</tspan><tspan dy="14">)</tspan></text>
<text transform="translate(142.5 1172) rotate(-90)" font-size="36.5" fill="#1a1a1a" textLength="268" lengthAdjust="spacingAndGlyphs">Incremental Q<tspan dy="9.5" font-size="25">10</tspan></text>
<text transform="translate(117.3 1903.5) rotate(-90)" font-size="36" fill="#1a1a1a" textLength="207" lengthAdjust="spacingAndGlyphs">Ln(ƒ<tspan font-size="28">H</tspan>max)</text>
<text x="481" y="2207" font-size="38" fill="#1a1a1a" textLength="424" lengthAdjust="spacingAndGlyphs">Temperature (K<tspan dy="-14" font-size="25">-1</tspan><tspan dy="14"> x 1000)</tspan></text>
<text x="525.5" y="2403.6" font-size="38.5" text-anchor="start" font-weight="normal" fill="#1a1a1a" >Temperature (°C)</text>
<defs><clipPath id="clipA"><rect x="225" y="23.6" width="920.5" height="628.4"/></clipPath><clipPath id="clipB"><rect x="226.8" y="754.8" width="915.3" height="569.4"/></clipPath><clipPath id="clipC"><rect x="237.6" y="1478.3" width="910.4" height="611.3"/></clipPath></defs>
<g clip-path="url(#clipA)">
<path d="M259.1 523.2L270.6 516.9L282.2 510.6L293.8 504.3L305.4 501.2L317.0 494.9L328.6 488.6L340.2 482.3L351.8 479.2L363.4 472.9L374.9 466.6L386.5 460.3L398.1 457.2L409.7 450.9L421.3 444.6L432.9 441.5L444.5 435.2L456.1 428.9L467.7 422.6L479.2 419.5L490.8 413.2L502.4 406.9L514.0 403.8L525.6 400.6L537.2 394.4L548.8 391.2L560.4 388.1L572.0 384.9L583.5 359.8L595.1 369.2L606.7 366.1L618.3 359.8L629.9 356.7L641.5 350.4L653.1 347.2L664.7 344.1L676.3 337.8L687.8 334.7L699.4 328.4L711.0 325.2L722.6 322.1L734.2 315.8L745.8 312.7L757.4 309.5L769.0 306.4L780.5 303.2L792.1 303.2L803.7 303.2L815.3 303.2L826.9 303.2L838.5 303.2L850.1 303.2L861.7 303.2L873.3 303.2L884.8 303.2L896.4 303.2L908.0 303.2L919.6 303.2L931.2 303.2L942.8 300.1L954.4 300.1L966.0 297.0L977.6 297.0L989.1 293.8L1000.7 293.8L1012.3 290.7L1023.9 290.7L1035.5 290.7" fill="none" stroke="#7f7f7f" stroke-width="1.3"/>
<rect x="252.8" y="521.2" width="12.6" height="4" fill="#7f7f7f"/><rect x="264.3" y="514.9" width="12.6" height="4" fill="#7f7f7f"/><rect x="275.9" y="508.6" width="12.6" height="4" fill="#7f7f7f"/><rect x="287.5" y="502.3" width="12.6" height="4" fill="#7f7f7f"/><rect x="299.1" y="499.2" width="12.6" height="4" fill="#7f7f7f"/><rect x="310.7" y="492.9" width="12.6" height="4" fill="#7f7f7f"/><rect x="322.3" y="486.6" width="12.6" height="4" fill="#7f7f7f"/><rect x="333.9" y="480.3" width="12.6" height="4" fill="#7f7f7f"/><rect x="345.5" y="477.2" width="12.6" height="4" fill="#7f7f7f"/><rect x="357.1" y="470.9" width="12.6" height="4" fill="#7f7f7f"/><rect x="368.6" y="464.6" width="12.6" height="4" fill="#7f7f7f"/><rect x="380.2" y="458.3" width="12.6" height="4" fill="#7f7f7f"/><rect x="391.8" y="455.2" width="12.6" height="4" fill="#7f7f7f"/><rect x="403.4" y="448.9" width="12.6" height="4" fill="#7f7f7f"/><rect x="415.0" y="442.6" width="12.6" height="4" fill="#7f7f7f"/><rect x="426.6" y="439.5" width="12.6" height="4" fill="#7f7f7f"/><rect x="438.2" y="433.2" width="12.6" height="4" fill="#7f7f7f"/><rect x="449.8" y="426.9" width="12.6" height="4" fill="#7f7f7f"/><rect x="461.4" y="420.6" width="12.6" height="4" fill="#7f7f7f"/><rect x="472.9" y="417.5" width="12.6" height="4" fill="#7f7f7f"/><rect x="484.5" y="411.2" width="12.6" height="4" fill="#7f7f7f"/><rect x="496.1" y="404.9" width="12.6" height="4" fill="#7f7f7f"/><rect x="507.7" y="401.8" width="12.6" height="4" fill="#7f7f7f"/><rect x="519.3" y="398.6" width="12.6" height="4" fill="#7f7f7f"/><rect x="530.9" y="392.4" width="12.6" height="4" fill="#7f7f7f"/><rect x="542.5" y="389.2" width="12.6" height="4" fill="#7f7f7f"/><rect x="554.1" y="386.1" width="12.6" height="4" fill="#7f7f7f"/><rect x="565.7" y="382.9" width="12.6" height="4" fill="#7f7f7f"/><rect x="577.2" y="357.8" width="12.6" height="4" fill="#7f7f7f"/><rect x="588.8" y="367.2" width="12.6" height="4" fill="#7f7f7f"/><rect x="600.4" y="364.1" width="12.6" height="4" fill="#7f7f7f"/><rect x="612.0" y="357.8" width="12.6" height="4" fill="#7f7f7f"/><rect x="623.6" y="354.7" width="12.6" height="4" fill="#7f7f7f"/><rect x="635.2" y="348.4" width="12.6" height="4" fill="#7f7f7f"/><rect x="646.8" y="345.2" width="12.6" height="4" fill="#7f7f7f"/><rect x="658.4" y="342.1" width="12.6" height="4" fill="#7f7f7f"/><rect x="670.0" y="335.8" width="12.6" height="4" fill="#7f7f7f"/><rect x="681.5" y="332.7" width="12.6" height="4" fill="#7f7f7f"/><rect x="693.1" y="326.4" width="12.6" height="4" fill="#7f7f7f"/><rect x="704.7" y="323.2" width="12.6" height="4" fill="#7f7f7f"/><rect x="716.3" y="320.1" width="12.6" height="4" fill="#7f7f7f"/><rect x="727.9" y="313.8" width="12.6" height="4" fill="#7f7f7f"/><rect x="739.5" y="310.7" width="12.6" height="4" fill="#7f7f7f"/><rect x="751.1" y="307.5" width="12.6" height="4" fill="#7f7f7f"/><rect x="762.7" y="304.4" width="12.6" height="4" fill="#7f7f7f"/><rect x="774.2" y="301.2" width="12.6" height="4" fill="#7f7f7f"/><rect x="785.8" y="301.2" width="12.6" height="4" fill="#7f7f7f"/><rect x="797.4" y="301.2" width="12.6" height="4" fill="#7f7f7f"/><rect x="809.0" y="301.2" width="12.6" height="4" fill="#7f7f7f"/><rect x="820.6" y="301.2" width="12.6" height="4" fill="#7f7f7f"/><rect x="832.2" y="301.2" width="12.6" height="4" fill="#7f7f7f"/><rect x="843.8" y="301.2" width="12.6" height="4" fill="#7f7f7f"/><rect x="855.4" y="301.2" width="12.6" height="4" fill="#7f7f7f"/><rect x="867.0" y="301.2" width="12.6" height="4" fill="#7f7f7f"/><rect x="878.5" y="301.2" width="12.6" height="4" fill="#7f7f7f"/><rect x="890.1" y="301.2" width="12.6" height="4" fill="#7f7f7f"/><rect x="901.7" y="301.2" width="12.6" height="4" fill="#7f7f7f"/><rect x="913.3" y="301.2" width="12.6" height="4" fill="#7f7f7f"/><rect x="924.9" y="301.2" width="12.6" height="4" fill="#7f7f7f"/><rect x="936.5" y="298.1" width="12.6" height="4" fill="#7f7f7f"/><rect x="948.1" y="298.1" width="12.6" height="4" fill="#7f7f7f"/><rect x="959.7" y="295.0" width="12.6" height="4" fill="#7f7f7f"/><rect x="971.3" y="295.0" width="12.6" height="4" fill="#7f7f7f"/><rect x="982.8" y="291.8" width="12.6" height="4" fill="#7f7f7f"/><rect x="994.4" y="291.8" width="12.6" height="4" fill="#7f7f7f"/><rect x="1006.0" y="288.7" width="12.6" height="4" fill="#7f7f7f"/><rect x="1017.6" y="288.7" width="12.6" height="4" fill="#7f7f7f"/><rect x="1029.2" y="288.7" width="12.6" height="4" fill="#7f7f7f"/>
<path d="M257.2 454.1L268.8 447.3L280.4 440.6L291.9 433.9L303.5 427.2L315.1 420.4L326.7 413.7L338.2 407.0L349.8 400.3L361.4 393.6L373.0 386.8L384.5 380.1L396.1 373.4L407.7 366.7L419.3 360.0L430.8 353.2L442.4 346.5L454.0 339.8L465.6 333.1L477.1 326.4L488.7 319.6L500.3 312.9L511.9 306.2L523.4 299.6L535.0 293.0L546.6 286.5L558.2 279.9L569.7 273.4L581.3 266.8L592.9 260.3L604.5 253.7L616.0 247.2L627.6 240.6L639.2 234.1L650.8 227.5L662.3 221.0L673.9 213.6L685.5 206.2L697.1 198.7L708.6 191.3L720.2 183.8L731.8 176.4L743.4 168.9L754.9 161.5L766.5 154.0L778.1 146.9L789.7 144.4L801.2 141.8L812.8 142.3L824.4 142.9L836.0 143.5L847.5 144.1L859.1 144.7L870.7 145.3L882.3 145.9L893.8 146.5L905.4 147.1L917.0 147.6L928.6 148.0L940.1 148.5L951.7 149.0L963.3 149.4L974.9 149.9L986.4 150.4L998.0 150.8L1009.6 151.3L1021.2 151.8L1032.7 155.6" fill="none" stroke="#7f7f7f" stroke-width="1.3"/>
<rect x="255.6" y="452.4" width="7.2" height="3.4" fill="#7f7f7f"/><rect x="267.2" y="445.6" width="7.2" height="3.4" fill="#7f7f7f"/><rect x="278.8" y="438.9" width="7.2" height="3.4" fill="#7f7f7f"/><rect x="290.3" y="432.2" width="7.2" height="3.4" fill="#7f7f7f"/><rect x="301.9" y="425.5" width="7.2" height="3.4" fill="#7f7f7f"/><rect x="313.5" y="418.7" width="7.2" height="3.4" fill="#7f7f7f"/><rect x="325.1" y="412.0" width="7.2" height="3.4" fill="#7f7f7f"/><rect x="336.6" y="405.3" width="7.2" height="3.4" fill="#7f7f7f"/><rect x="348.2" y="398.6" width="7.2" height="3.4" fill="#7f7f7f"/><rect x="359.8" y="391.9" width="7.2" height="3.4" fill="#7f7f7f"/><rect x="371.4" y="385.1" width="7.2" height="3.4" fill="#7f7f7f"/><rect x="382.9" y="378.4" width="7.2" height="3.4" fill="#7f7f7f"/><rect x="394.5" y="371.7" width="7.2" height="3.4" fill="#7f7f7f"/><rect x="406.1" y="365.0" width="7.2" height="3.4" fill="#7f7f7f"/><rect x="417.7" y="358.3" width="7.2" height="3.4" fill="#7f7f7f"/><rect x="429.2" y="351.5" width="7.2" height="3.4" fill="#7f7f7f"/><rect x="440.8" y="344.8" width="7.2" height="3.4" fill="#7f7f7f"/><rect x="452.4" y="338.1" width="7.2" height="3.4" fill="#7f7f7f"/><rect x="464.0" y="331.4" width="7.2" height="3.4" fill="#7f7f7f"/><rect x="475.5" y="324.7" width="7.2" height="3.4" fill="#7f7f7f"/><rect x="487.1" y="317.9" width="7.2" height="3.4" fill="#7f7f7f"/><rect x="498.7" y="311.2" width="7.2" height="3.4" fill="#7f7f7f"/><rect x="510.3" y="304.5" width="7.2" height="3.4" fill="#7f7f7f"/><rect x="521.8" y="297.9" width="7.2" height="3.4" fill="#7f7f7f"/><rect x="533.4" y="291.3" width="7.2" height="3.4" fill="#7f7f7f"/><rect x="545.0" y="284.8" width="7.2" height="3.4" fill="#7f7f7f"/><rect x="556.6" y="278.2" width="7.2" height="3.4" fill="#7f7f7f"/><rect x="568.1" y="271.7" width="7.2" height="3.4" fill="#7f7f7f"/><rect x="579.7" y="265.1" width="7.2" height="3.4" fill="#7f7f7f"/><rect x="591.3" y="258.6" width="7.2" height="3.4" fill="#7f7f7f"/><rect x="602.9" y="252.0" width="7.2" height="3.4" fill="#7f7f7f"/><rect x="614.4" y="245.5" width="7.2" height="3.4" fill="#7f7f7f"/><rect x="626.0" y="238.9" width="7.2" height="3.4" fill="#7f7f7f"/><rect x="637.6" y="232.4" width="7.2" height="3.4" fill="#7f7f7f"/><rect x="649.2" y="225.8" width="7.2" height="3.4" fill="#7f7f7f"/><rect x="660.7" y="219.3" width="7.2" height="3.4" fill="#7f7f7f"/><rect x="672.3" y="211.9" width="7.2" height="3.4" fill="#7f7f7f"/><rect x="683.9" y="204.5" width="7.2" height="3.4" fill="#7f7f7f"/><rect x="695.5" y="197.0" width="7.2" height="3.4" fill="#7f7f7f"/><rect x="707.0" y="189.6" width="7.2" height="3.4" fill="#7f7f7f"/><rect x="718.6" y="182.1" width="7.2" height="3.4" fill="#7f7f7f"/><rect x="730.2" y="174.7" width="7.2" height="3.4" fill="#7f7f7f"/><rect x="741.8" y="167.2" width="7.2" height="3.4" fill="#7f7f7f"/><rect x="753.3" y="159.8" width="7.2" height="3.4" fill="#7f7f7f"/><rect x="764.9" y="152.3" width="7.2" height="3.4" fill="#7f7f7f"/><rect x="776.5" y="145.2" width="7.2" height="3.4" fill="#7f7f7f"/><rect x="788.1" y="142.7" width="7.2" height="3.4" fill="#7f7f7f"/><rect x="799.6" y="140.1" width="7.2" height="3.4" fill="#7f7f7f"/><rect x="811.2" y="140.6" width="7.2" height="3.4" fill="#7f7f7f"/><rect x="822.8" y="141.2" width="7.2" height="3.4" fill="#7f7f7f"/><rect x="834.4" y="141.8" width="7.2" height="3.4" fill="#7f7f7f"/><rect x="845.9" y="142.4" width="7.2" height="3.4" fill="#7f7f7f"/><rect x="857.5" y="143.0" width="7.2" height="3.4" fill="#7f7f7f"/><rect x="869.1" y="143.6" width="7.2" height="3.4" fill="#7f7f7f"/><rect x="880.7" y="144.2" width="7.2" height="3.4" fill="#7f7f7f"/><rect x="892.2" y="144.8" width="7.2" height="3.4" fill="#7f7f7f"/><rect x="903.8" y="145.4" width="7.2" height="3.4" fill="#7f7f7f"/><rect x="915.4" y="145.9" width="7.2" height="3.4" fill="#7f7f7f"/><rect x="927.0" y="146.3" width="7.2" height="3.4" fill="#7f7f7f"/><rect x="938.5" y="146.8" width="7.2" height="3.4" fill="#7f7f7f"/><rect x="950.1" y="147.3" width="7.2" height="3.4" fill="#7f7f7f"/><rect x="961.7" y="147.7" width="7.2" height="3.4" fill="#7f7f7f"/><rect x="973.3" y="148.2" width="7.2" height="3.4" fill="#7f7f7f"/><rect x="984.8" y="148.7" width="7.2" height="3.4" fill="#7f7f7f"/><rect x="996.4" y="149.1" width="7.2" height="3.4" fill="#7f7f7f"/><rect x="1008.0" y="149.6" width="7.2" height="3.4" fill="#7f7f7f"/><rect x="1019.6" y="150.1" width="7.2" height="3.4" fill="#7f7f7f"/><rect x="1031.1" y="153.9" width="7.2" height="3.4" fill="#7f7f7f"/>
<path d="M257.2 482.3L268.7 477.1L280.2 471.9L291.7 466.6L303.2 461.4L314.7 456.1L326.3 450.9L337.8 445.7L349.3 440.4L360.8 435.2L372.3 430.0L383.8 424.7L395.3 419.5L406.8 414.3L418.3 408.4L429.8 402.4L441.3 396.4L452.8 390.4L464.3 384.3L475.8 378.3L487.3 372.3L498.8 366.3L510.4 360.3L521.9 354.3L533.4 348.3L544.9 342.3L556.4 336.2L567.9 330.2L579.4 324.2L590.9 321.8L602.4 319.6L613.9 317.3L625.4 315.1L636.9 312.8L648.4 310.6L659.9 308.4L671.4 306.1L682.9 303.1L694.5 297.9L706.0 292.8L717.5 287.7L729.0 282.6L740.5 278.0L752.0 274.0L763.5 269.9L775.0 265.8L786.5 261.8L798.0 258.0L809.5 254.3L821.0 250.5L832.5 246.8L844.0 243.1L855.5 239.6L867.0 236.1L878.6 232.5L890.1 229.0L901.6 225.5L913.1 222.1L924.6 218.9L936.1 215.8L947.6 212.7L959.1 209.6L970.6 211.6L982.1 214.9L993.6 218.1L1005.1 221.4L1016.6 224.7" fill="none" stroke="#7f7f7f" stroke-width="1.3"/>
<rect x="251.2" y="476.3" width="12.0" height="12.0" fill="#7f7f7f"/><rect x="262.7" y="471.1" width="12.0" height="12.0" fill="#7f7f7f"/><rect x="274.2" y="465.9" width="12.0" height="12.0" fill="#7f7f7f"/><rect x="285.7" y="460.6" width="12.0" height="12.0" fill="#7f7f7f"/><rect x="297.2" y="455.4" width="12.0" height="12.0" fill="#7f7f7f"/><rect x="308.7" y="450.1" width="12.0" height="12.0" fill="#7f7f7f"/><rect x="320.3" y="444.9" width="12.0" height="12.0" fill="#7f7f7f"/><rect x="331.8" y="439.7" width="12.0" height="12.0" fill="#7f7f7f"/><rect x="343.3" y="434.4" width="12.0" height="12.0" fill="#7f7f7f"/><rect x="354.8" y="429.2" width="12.0" height="12.0" fill="#7f7f7f"/><rect x="366.3" y="424.0" width="12.0" height="12.0" fill="#7f7f7f"/><rect x="377.8" y="418.7" width="12.0" height="12.0" fill="#7f7f7f"/><rect x="389.3" y="413.5" width="12.0" height="12.0" fill="#7f7f7f"/><rect x="400.8" y="408.3" width="12.0" height="12.0" fill="#7f7f7f"/><rect x="412.3" y="402.4" width="12.0" height="12.0" fill="#7f7f7f"/><rect x="423.8" y="396.4" width="12.0" height="12.0" fill="#7f7f7f"/><rect x="435.3" y="390.4" width="12.0" height="12.0" fill="#7f7f7f"/><rect x="446.8" y="384.4" width="12.0" height="12.0" fill="#7f7f7f"/><rect x="458.3" y="378.3" width="12.0" height="12.0" fill="#7f7f7f"/><rect x="469.8" y="372.3" width="12.0" height="12.0" fill="#7f7f7f"/><rect x="481.3" y="366.3" width="12.0" height="12.0" fill="#7f7f7f"/><rect x="492.8" y="360.3" width="12.0" height="12.0" fill="#7f7f7f"/><rect x="504.4" y="354.3" width="12.0" height="12.0" fill="#7f7f7f"/><rect x="515.9" y="348.3" width="12.0" height="12.0" fill="#7f7f7f"/><rect x="527.4" y="342.3" width="12.0" height="12.0" fill="#7f7f7f"/><rect x="538.9" y="336.3" width="12.0" height="12.0" fill="#7f7f7f"/><rect x="550.4" y="330.2" width="12.0" height="12.0" fill="#7f7f7f"/><rect x="561.9" y="324.2" width="12.0" height="12.0" fill="#7f7f7f"/><rect x="573.4" y="318.2" width="12.0" height="12.0" fill="#7f7f7f"/><rect x="584.9" y="315.8" width="12.0" height="12.0" fill="#7f7f7f"/><rect x="596.4" y="313.6" width="12.0" height="12.0" fill="#7f7f7f"/><rect x="607.9" y="311.3" width="12.0" height="12.0" fill="#7f7f7f"/><rect x="619.4" y="309.1" width="12.0" height="12.0" fill="#7f7f7f"/><rect x="630.9" y="306.8" width="12.0" height="12.0" fill="#7f7f7f"/><rect x="642.4" y="304.6" width="12.0" height="12.0" fill="#7f7f7f"/><rect x="653.9" y="302.4" width="12.0" height="12.0" fill="#7f7f7f"/><rect x="665.4" y="300.1" width="12.0" height="12.0" fill="#7f7f7f"/><rect x="676.9" y="297.1" width="12.0" height="12.0" fill="#7f7f7f"/><rect x="688.5" y="291.9" width="12.0" height="12.0" fill="#7f7f7f"/><rect x="700.0" y="286.8" width="12.0" height="12.0" fill="#7f7f7f"/><rect x="711.5" y="281.7" width="12.0" height="12.0" fill="#7f7f7f"/><rect x="723.0" y="276.6" width="12.0" height="12.0" fill="#7f7f7f"/><rect x="734.5" y="272.0" width="12.0" height="12.0" fill="#7f7f7f"/><rect x="746.0" y="268.0" width="12.0" height="12.0" fill="#7f7f7f"/><rect x="757.5" y="263.9" width="12.0" height="12.0" fill="#7f7f7f"/><rect x="769.0" y="259.8" width="12.0" height="12.0" fill="#7f7f7f"/><rect x="780.5" y="255.8" width="12.0" height="12.0" fill="#7f7f7f"/><rect x="792.0" y="252.0" width="12.0" height="12.0" fill="#7f7f7f"/><rect x="803.5" y="248.3" width="12.0" height="12.0" fill="#7f7f7f"/><rect x="815.0" y="244.5" width="12.0" height="12.0" fill="#7f7f7f"/><rect x="826.5" y="240.8" width="12.0" height="12.0" fill="#7f7f7f"/><rect x="838.0" y="237.1" width="12.0" height="12.0" fill="#7f7f7f"/><rect x="849.5" y="233.6" width="12.0" height="12.0" fill="#7f7f7f"/><rect x="861.0" y="230.1" width="12.0" height="12.0" fill="#7f7f7f"/><rect x="872.6" y="226.5" width="12.0" height="12.0" fill="#7f7f7f"/><rect x="884.1" y="223.0" width="12.0" height="12.0" fill="#7f7f7f"/><rect x="895.6" y="219.5" width="12.0" height="12.0" fill="#7f7f7f"/><rect x="907.1" y="216.1" width="12.0" height="12.0" fill="#7f7f7f"/><rect x="918.6" y="212.9" width="12.0" height="12.0" fill="#7f7f7f"/><rect x="930.1" y="209.8" width="12.0" height="12.0" fill="#7f7f7f"/><rect x="941.6" y="206.7" width="12.0" height="12.0" fill="#7f7f7f"/><rect x="953.1" y="203.6" width="12.0" height="12.0" fill="#7f7f7f"/><rect x="964.6" y="205.6" width="12.0" height="12.0" fill="#7f7f7f"/><rect x="976.1" y="208.9" width="12.0" height="12.0" fill="#7f7f7f"/><rect x="987.6" y="212.1" width="12.0" height="12.0" fill="#7f7f7f"/><rect x="999.1" y="215.4" width="12.0" height="12.0" fill="#7f7f7f"/><rect x="1010.6" y="218.7" width="12.0" height="12.0" fill="#7f7f7f"/>
<path d="M257.2 476.0L268.7 471.5L280.2 467.0L291.7 462.5L303.2 458.0L314.7 453.4L326.3 448.9L337.8 444.4L349.3 439.9L360.8 435.4L372.3 430.8L383.8 426.3L395.3 421.8L406.8 417.3L418.3 412.7L429.8 408.2L441.3 403.7L452.8 399.2L464.3 394.7L475.8 390.1L487.3 385.0L498.8 379.8L510.4 374.5L521.9 369.3L533.4 364.1L544.9 358.9L556.4 353.7L567.9 348.5L579.4 343.3L590.9 338.1L602.4 332.8L613.9 327.5L625.4 322.1L636.9 316.8L648.4 311.5L659.9 306.1L671.4 300.8L682.9 295.5L694.5 290.1L706.0 284.8L717.5 279.5L729.0 274.2L740.5 268.6L752.0 262.9L763.5 257.2L775.0 251.5L786.5 245.8L798.0 240.6L809.5 236.2L821.0 231.8L832.5 227.5L844.0 223.1L855.5 219.4L867.0 216.1L878.6 212.8L890.1 209.5L901.6 206.2L913.1 203.6L924.6 201.9L936.1 200.2L947.6 198.5L959.1 196.8L970.6 200.1L982.1 204.7L993.6 209.2L1005.1 213.8L1016.6 218.4" fill="none" stroke="#7f7f7f" stroke-width="1.3"/>
<path d="M257.2 469.4L263.8 481.0L250.6 481.0Z" fill="#7f7f7f"/><path d="M268.7 464.9L275.3 476.5L262.1 476.5Z" fill="#7f7f7f"/><path d="M280.2 460.4L286.8 472.0L273.6 472.0Z" fill="#7f7f7f"/><path d="M291.7 455.9L298.3 467.4L285.1 467.4Z" fill="#7f7f7f"/><path d="M303.2 451.4L309.8 462.9L296.6 462.9Z" fill="#7f7f7f"/><path d="M314.7 446.8L321.3 458.4L308.1 458.4Z" fill="#7f7f7f"/><path d="M326.3 442.3L332.9 453.9L319.7 453.9Z" fill="#7f7f7f"/><path d="M337.8 437.8L344.4 449.3L331.2 449.3Z" fill="#7f7f7f"/><path d="M349.3 433.3L355.9 444.8L342.7 444.8Z" fill="#7f7f7f"/><path d="M360.8 428.8L367.4 440.3L354.2 440.3Z" fill="#7f7f7f"/><path d="M372.3 424.2L378.9 435.8L365.7 435.8Z" fill="#7f7f7f"/><path d="M383.8 419.7L390.4 431.3L377.2 431.3Z" fill="#7f7f7f"/><path d="M395.3 415.2L401.9 426.7L388.7 426.7Z" fill="#7f7f7f"/><path d="M406.8 410.7L413.4 422.2L400.2 422.2Z" fill="#7f7f7f"/><path d="M418.3 406.1L424.9 417.7L411.7 417.7Z" fill="#7f7f7f"/><path d="M429.8 401.6L436.4 413.2L423.2 413.2Z" fill="#7f7f7f"/><path d="M441.3 397.1L447.9 408.7L434.7 408.7Z" fill="#7f7f7f"/><path d="M452.8 392.6L459.4 404.1L446.2 404.1Z" fill="#7f7f7f"/><path d="M464.3 388.1L470.9 399.6L457.7 399.6Z" fill="#7f7f7f"/><path d="M475.8 383.5L482.4 395.1L469.2 395.1Z" fill="#7f7f7f"/><path d="M487.3 378.4L493.9 389.9L480.7 389.9Z" fill="#7f7f7f"/><path d="M498.8 373.2L505.4 384.7L492.2 384.7Z" fill="#7f7f7f"/><path d="M510.4 367.9L517.0 379.5L503.8 379.5Z" fill="#7f7f7f"/><path d="M521.9 362.7L528.5 374.3L515.3 374.3Z" fill="#7f7f7f"/><path d="M533.4 357.5L540.0 369.1L526.8 369.1Z" fill="#7f7f7f"/><path d="M544.9 352.3L551.5 363.9L538.3 363.9Z" fill="#7f7f7f"/><path d="M556.4 347.1L563.0 358.7L549.8 358.7Z" fill="#7f7f7f"/><path d="M567.9 341.9L574.5 353.5L561.3 353.5Z" fill="#7f7f7f"/><path d="M579.4 336.7L586.0 348.3L572.8 348.3Z" fill="#7f7f7f"/><path d="M590.9 331.5L597.5 343.1L584.3 343.1Z" fill="#7f7f7f"/><path d="M602.4 326.2L609.0 337.8L595.8 337.8Z" fill="#7f7f7f"/><path d="M613.9 320.9L620.5 332.4L607.3 332.4Z" fill="#7f7f7f"/><path d="M625.4 315.5L632.0 327.1L618.8 327.1Z" fill="#7f7f7f"/><path d="M636.9 310.2L643.5 321.7L630.3 321.7Z" fill="#7f7f7f"/><path d="M648.4 304.9L655.0 316.4L641.8 316.4Z" fill="#7f7f7f"/><path d="M659.9 299.5L666.5 311.1L653.3 311.1Z" fill="#7f7f7f"/><path d="M671.4 294.2L678.0 305.7L664.8 305.7Z" fill="#7f7f7f"/><path d="M682.9 288.9L689.5 300.4L676.3 300.4Z" fill="#7f7f7f"/><path d="M694.5 283.5L701.1 295.1L687.9 295.1Z" fill="#7f7f7f"/><path d="M706.0 278.2L712.6 289.8L699.4 289.8Z" fill="#7f7f7f"/><path d="M717.5 272.9L724.1 284.4L710.9 284.4Z" fill="#7f7f7f"/><path d="M729.0 267.6L735.6 279.1L722.4 279.1Z" fill="#7f7f7f"/><path d="M740.5 262.0L747.1 273.6L733.9 273.6Z" fill="#7f7f7f"/><path d="M752.0 256.3L758.6 267.9L745.4 267.9Z" fill="#7f7f7f"/><path d="M763.5 250.6L770.1 262.2L756.9 262.2Z" fill="#7f7f7f"/><path d="M775.0 244.9L781.6 256.5L768.4 256.5Z" fill="#7f7f7f"/><path d="M786.5 239.2L793.1 250.8L779.9 250.8Z" fill="#7f7f7f"/><path d="M798.0 234.0L804.6 245.5L791.4 245.5Z" fill="#7f7f7f"/><path d="M809.5 229.6L816.1 241.2L802.9 241.2Z" fill="#7f7f7f"/><path d="M821.0 225.2L827.6 236.8L814.4 236.8Z" fill="#7f7f7f"/><path d="M832.5 220.9L839.1 232.4L825.9 232.4Z" fill="#7f7f7f"/><path d="M844.0 216.5L850.6 228.1L837.4 228.1Z" fill="#7f7f7f"/><path d="M855.5 212.8L862.1 224.4L848.9 224.4Z" fill="#7f7f7f"/><path d="M867.0 209.5L873.6 221.1L860.4 221.1Z" fill="#7f7f7f"/><path d="M878.6 206.2L885.2 217.8L872.0 217.8Z" fill="#7f7f7f"/><path d="M890.1 202.9L896.7 214.5L883.5 214.5Z" fill="#7f7f7f"/><path d="M901.6 199.6L908.2 211.2L895.0 211.2Z" fill="#7f7f7f"/><path d="M913.1 197.0L919.7 208.5L906.5 208.5Z" fill="#7f7f7f"/><path d="M924.6 195.3L931.2 206.8L918.0 206.8Z" fill="#7f7f7f"/><path d="M936.1 193.6L942.7 205.1L929.5 205.1Z" fill="#7f7f7f"/><path d="M947.6 191.9L954.2 203.4L941.0 203.4Z" fill="#7f7f7f"/><path d="M959.1 190.2L965.7 201.7L952.5 201.7Z" fill="#7f7f7f"/><path d="M970.6 193.5L977.2 205.0L964.0 205.0Z" fill="#7f7f7f"/><path d="M982.1 198.1L988.7 209.6L975.5 209.6Z" fill="#7f7f7f"/><path d="M993.6 202.6L1000.2 214.2L987.0 214.2Z" fill="#7f7f7f"/><path d="M1005.1 207.2L1011.7 218.8L998.5 218.8Z" fill="#7f7f7f"/><path d="M1016.6 211.8L1023.2 223.4L1010.0 223.4Z" fill="#7f7f7f"/>
<path d="M247.1 488.9L258.6 485.1L270.2 481.4L281.7 477.6L293.3 473.8L304.8 470.0L316.4 466.2L327.9 460.4L339.5 454.5L351.0 448.5L362.6 442.6L374.1 436.7L385.6 430.7L397.2 424.8L408.7 418.0L420.3 411.1L431.8 404.1L443.4 397.2L454.9 390.3L466.5 383.3L478.0 376.4L489.6 369.4L501.1 362.5L512.7 355.5L524.2 348.6L535.7 341.7L547.3 334.7L558.8 327.8L570.4 320.8L581.9 313.9L593.5 307.0L605.0 300.5L616.6 294.0L628.1 287.5L639.7 280.9L651.2 274.4L662.8 267.9L674.3 261.4L685.9 255.6L697.4 250.4L708.9 245.2L720.5 240.0L732.0 234.9L743.6 229.7L755.1 224.5L766.7 219.3L778.2 214.1L789.8 209.3L801.3 207.0L812.9 204.7L824.4 202.3L836.0 200.0L847.5 197.7L859.0 195.3L870.6 193.2L882.1 192.6L893.7 192.0L905.2 191.4L916.8 190.8L928.3 190.2L939.9 188.9L951.4 187.6L963.0 186.3L974.5 185.0L986.1 183.6L997.6 181.5L1009.1 180.7L1020.7 187.3L1032.2 194.0L1043.8 201.4" fill="none" stroke="#7f7f7f" stroke-width="1.3"/>
<circle cx="247.1" cy="488.9" r="6.3" fill="#7f7f7f"/><circle cx="258.6" cy="485.1" r="6.3" fill="#7f7f7f"/><circle cx="270.2" cy="481.4" r="6.3" fill="#7f7f7f"/><circle cx="281.7" cy="477.6" r="6.3" fill="#7f7f7f"/><circle cx="293.3" cy="473.8" r="6.3" fill="#7f7f7f"/><circle cx="304.8" cy="470.0" r="6.3" fill="#7f7f7f"/><circle cx="316.4" cy="466.2" r="6.3" fill="#7f7f7f"/><circle cx="327.9" cy="460.4" r="6.3" fill="#7f7f7f"/><circle cx="339.5" cy="454.5" r="6.3" fill="#7f7f7f"/><circle cx="351.0" cy="448.5" r="6.3" fill="#7f7f7f"/><circle cx="362.6" cy="442.6" r="6.3" fill="#7f7f7f"/><circle cx="374.1" cy="436.7" r="6.3" fill="#7f7f7f"/><circle cx="385.6" cy="430.7" r="6.3" fill="#7f7f7f"/><circle cx="397.2" cy="424.8" r="6.3" fill="#7f7f7f"/><circle cx="408.7" cy="418.0" r="6.3" fill="#7f7f7f"/><circle cx="420.3" cy="411.1" r="6.3" fill="#7f7f7f"/><circle cx="431.8" cy="404.1" r="6.3" fill="#7f7f7f"/><circle cx="443.4" cy="397.2" r="6.3" fill="#7f7f7f"/><circle cx="454.9" cy="390.3" r="6.3" fill="#7f7f7f"/><circle cx="466.5" cy="383.3" r="6.3" fill="#7f7f7f"/><circle cx="478.0" cy="376.4" r="6.3" fill="#7f7f7f"/><circle cx="489.6" cy="369.4" r="6.3" fill="#7f7f7f"/><circle cx="501.1" cy="362.5" r="6.3" fill="#7f7f7f"/><circle cx="512.7" cy="355.5" r="6.3" fill="#7f7f7f"/><circle cx="524.2" cy="348.6" r="6.3" fill="#7f7f7f"/><circle cx="535.7" cy="341.7" r="6.3" fill="#7f7f7f"/><circle cx="547.3" cy="334.7" r="6.3" fill="#7f7f7f"/><circle cx="558.8" cy="327.8" r="6.3" fill="#7f7f7f"/><circle cx="570.4" cy="320.8" r="6.3" fill="#7f7f7f"/><circle cx="581.9" cy="313.9" r="6.3" fill="#7f7f7f"/><circle cx="593.5" cy="307.0" r="6.3" fill="#7f7f7f"/><circle cx="605.0" cy="300.5" r="6.3" fill="#7f7f7f"/><circle cx="616.6" cy="294.0" r="6.3" fill="#7f7f7f"/><circle cx="628.1" cy="287.5" r="6.3" fill="#7f7f7f"/><circle cx="639.7" cy="280.9" r="6.3" fill="#7f7f7f"/><circle cx="651.2" cy="274.4" r="6.3" fill="#7f7f7f"/><circle cx="662.8" cy="267.9" r="6.3" fill="#7f7f7f"/><circle cx="674.3" cy="261.4" r="6.3" fill="#7f7f7f"/><circle cx="685.9" cy="255.6" r="6.3" fill="#7f7f7f"/><circle cx="697.4" cy="250.4" r="6.3" fill="#7f7f7f"/><circle cx="708.9" cy="245.2" r="6.3" fill="#7f7f7f"/><circle cx="720.5" cy="240.0" r="6.3" fill="#7f7f7f"/><circle cx="732.0" cy="234.9" r="6.3" fill="#7f7f7f"/><circle cx="743.6" cy="229.7" r="6.3" fill="#7f7f7f"/><circle cx="755.1" cy="224.5" r="6.3" fill="#7f7f7f"/><circle cx="766.7" cy="219.3" r="6.3" fill="#7f7f7f"/><circle cx="778.2" cy="214.1" r="6.3" fill="#7f7f7f"/><circle cx="789.8" cy="209.3" r="6.3" fill="#7f7f7f"/><circle cx="801.3" cy="207.0" r="6.3" fill="#7f7f7f"/><circle cx="812.9" cy="204.7" r="6.3" fill="#7f7f7f"/><circle cx="824.4" cy="202.3" r="6.3" fill="#7f7f7f"/><circle cx="836.0" cy="200.0" r="6.3" fill="#7f7f7f"/><circle cx="847.5" cy="197.7" r="6.3" fill="#7f7f7f"/><circle cx="859.0" cy="195.3" r="6.3" fill="#7f7f7f"/><circle cx="870.6" cy="193.2" r="6.3" fill="#7f7f7f"/><circle cx="882.1" cy="192.6" r="6.3" fill="#7f7f7f"/><circle cx="893.7" cy="192.0" r="6.3" fill="#7f7f7f"/><circle cx="905.2" cy="191.4" r="6.3" fill="#7f7f7f"/><circle cx="916.8" cy="190.8" r="6.3" fill="#7f7f7f"/><circle cx="928.3" cy="190.2" r="6.3" fill="#7f7f7f"/><circle cx="939.9" cy="188.9" r="6.3" fill="#7f7f7f"/><circle cx="951.4" cy="187.6" r="6.3" fill="#7f7f7f"/><circle cx="963.0" cy="186.3" r="6.3" fill="#7f7f7f"/><circle cx="974.5" cy="185.0" r="6.3" fill="#7f7f7f"/><circle cx="986.1" cy="183.6" r="6.3" fill="#7f7f7f"/><circle cx="997.6" cy="181.5" r="6.3" fill="#7f7f7f"/><circle cx="1009.1" cy="180.7" r="6.3" fill="#7f7f7f"/><circle cx="1020.7" cy="187.3" r="6.3" fill="#7f7f7f"/><circle cx="1032.2" cy="194.0" r="6.3" fill="#7f7f7f"/><circle cx="1043.8" cy="201.4" r="6.3" fill="#7f7f7f"/>
<path d="M257.2 457.2L268.8 450.9L280.3 444.6L291.8 438.3L303.4 431.9L314.9 425.6L326.4 419.3L338.0 413.0L349.5 406.7L361.0 400.4L372.6 394.1L384.1 387.8L395.6 381.4L407.2 375.1L418.7 368.8L430.2 362.5L441.8 356.2L453.3 349.9L464.8 343.6L476.4 338.0L487.9 332.4L499.4 326.8L511.0 321.2L522.5 315.6L534.0 310.0L545.6 304.4L557.1 298.8L568.6 293.2L580.2 287.6L591.7 282.0L603.2 278.0L614.8 274.4L626.3 270.7L637.8 267.0L649.4 263.4L660.9 259.7L672.4 256.0L684.0 252.3L695.5 248.7L707.0 245.0L718.6 241.3L730.1 237.6L741.6 234.0L753.2 230.3L764.7 226.6L776.2 222.9L787.8 219.3L799.3 215.6L810.8 211.9L822.4 208.2L833.9 204.6L845.4 202.8L857.0 201.3L868.5 199.8L880.0 198.7L891.6 198.8L903.1 199.0L914.6 199.2L926.2 199.4L937.7 199.5L949.2 206.5L960.8 214.0L972.3 233.0L983.8 231.3L995.4 245.4L1006.9 273.9L1018.4 278.4L1030.0 320.8" fill="none" stroke="#7f7f7f" stroke-width="1.3"/>
<path d="M251.4 451.4L263.0 463.0M263.0 451.4L251.4 463.0" stroke="#7f7f7f" stroke-width="1.5999999999999999" fill="none"/><path d="M263.0 445.1L274.6 456.7M274.6 445.1L263.0 456.7" stroke="#7f7f7f" stroke-width="1.5999999999999999" fill="none"/><path d="M274.5 438.8L286.1 450.4M286.1 438.8L274.5 450.4" stroke="#7f7f7f" stroke-width="1.5999999999999999" fill="none"/><path d="M286.0 432.5L297.6 444.1M297.6 432.5L286.0 444.1" stroke="#7f7f7f" stroke-width="1.5999999999999999" fill="none"/><path d="M297.6 426.1L309.2 437.7M309.2 426.1L297.6 437.7" stroke="#7f7f7f" stroke-width="1.5999999999999999" fill="none"/><path d="M309.1 419.8L320.7 431.4M320.7 419.8L309.1 431.4" stroke="#7f7f7f" stroke-width="1.5999999999999999" fill="none"/><path d="M320.6 413.5L332.2 425.1M332.2 413.5L320.6 425.1" stroke="#7f7f7f" stroke-width="1.5999999999999999" fill="none"/><path d="M332.2 407.2L343.8 418.8M343.8 407.2L332.2 418.8" stroke="#7f7f7f" stroke-width="1.5999999999999999" fill="none"/><path d="M343.7 400.9L355.3 412.5M355.3 400.9L343.7 412.5" stroke="#7f7f7f" stroke-width="1.5999999999999999" fill="none"/><path d="M355.2 394.6L366.8 406.2M366.8 394.6L355.2 406.2" stroke="#7f7f7f" stroke-width="1.5999999999999999" fill="none"/><path d="M366.8 388.3L378.4 399.9M378.4 388.3L366.8 399.9" stroke="#7f7f7f" stroke-width="1.5999999999999999" fill="none"/><path d="M378.3 382.0L389.9 393.6M389.9 382.0L378.3 393.6" stroke="#7f7f7f" stroke-width="1.5999999999999999" fill="none"/><path d="M389.8 375.6L401.4 387.2M401.4 375.6L389.8 387.2" stroke="#7f7f7f" stroke-width="1.5999999999999999" fill="none"/><path d="M401.4 369.3L413.0 380.9M413.0 369.3L401.4 380.9" stroke="#7f7f7f" stroke-width="1.5999999999999999" fill="none"/><path d="M412.9 363.0L424.5 374.6M424.5 363.0L412.9 374.6" stroke="#7f7f7f" stroke-width="1.5999999999999999" fill="none"/><path d="M424.4 356.7L436.0 368.3M436.0 356.7L424.4 368.3" stroke="#7f7f7f" stroke-width="1.5999999999999999" fill="none"/><path d="M436.0 350.4L447.6 362.0M447.6 350.4L436.0 362.0" stroke="#7f7f7f" stroke-width="1.5999999999999999" fill="none"/><path d="M447.5 344.1L459.1 355.7M459.1 344.1L447.5 355.7" stroke="#7f7f7f" stroke-width="1.5999999999999999" fill="none"/><path d="M459.0 337.8L470.6 349.4M470.6 337.8L459.0 349.4" stroke="#7f7f7f" stroke-width="1.5999999999999999" fill="none"/><path d="M470.6 332.2L482.2 343.8M482.2 332.2L470.6 343.8" stroke="#7f7f7f" stroke-width="1.5999999999999999" fill="none"/><path d="M482.1 326.6L493.7 338.2M493.7 326.6L482.1 338.2" stroke="#7f7f7f" stroke-width="1.5999999999999999" fill="none"/><path d="M493.6 321.0L505.2 332.6M505.2 321.0L493.6 332.6" stroke="#7f7f7f" stroke-width="1.5999999999999999" fill="none"/><path d="M505.2 315.4L516.8 327.0M516.8 315.4L505.2 327.0" stroke="#7f7f7f" stroke-width="1.5999999999999999" fill="none"/><path d="M516.7 309.8L528.3 321.4M528.3 309.8L516.7 321.4" stroke="#7f7f7f" stroke-width="1.5999999999999999" fill="none"/><path d="M528.2 304.2L539.8 315.8M539.8 304.2L528.2 315.8" stroke="#7f7f7f" stroke-width="1.5999999999999999" fill="none"/><path d="M539.8 298.6L551.4 310.2M551.4 298.6L539.8 310.2" stroke="#7f7f7f" stroke-width="1.5999999999999999" fill="none"/><path d="M551.3 293.0L562.9 304.6M562.9 293.0L551.3 304.6" stroke="#7f7f7f" stroke-width="1.5999999999999999" fill="none"/><path d="M562.8 287.4L574.4 299.0M574.4 287.4L562.8 299.0" stroke="#7f7f7f" stroke-width="1.5999999999999999" fill="none"/><path d="M574.4 281.8L586.0 293.4M586.0 281.8L574.4 293.4" stroke="#7f7f7f" stroke-width="1.5999999999999999" fill="none"/><path d="M585.9 276.2L597.5 287.8M597.5 276.2L585.9 287.8" stroke="#7f7f7f" stroke-width="1.5999999999999999" fill="none"/><path d="M597.4 272.2L609.0 283.8M609.0 272.2L597.4 283.8" stroke="#7f7f7f" stroke-width="1.5999999999999999" fill="none"/><path d="M609.0 268.6L620.6 280.2M620.6 268.6L609.0 280.2" stroke="#7f7f7f" stroke-width="1.5999999999999999" fill="none"/><path d="M620.5 264.9L632.1 276.5M632.1 264.9L620.5 276.5" stroke="#7f7f7f" stroke-width="1.5999999999999999" fill="none"/><path d="M632.0 261.2L643.6 272.8M643.6 261.2L632.0 272.8" stroke="#7f7f7f" stroke-width="1.5999999999999999" fill="none"/><path d="M643.6 257.6L655.2 269.2M655.2 257.6L643.6 269.2" stroke="#7f7f7f" stroke-width="1.5999999999999999" fill="none"/><path d="M655.1 253.9L666.7 265.5M666.7 253.9L655.1 265.5" stroke="#7f7f7f" stroke-width="1.5999999999999999" fill="none"/><path d="M666.6 250.2L678.2 261.8M678.2 250.2L666.6 261.8" stroke="#7f7f7f" stroke-width="1.5999999999999999" fill="none"/><path d="M678.2 246.5L689.8 258.1M689.8 246.5L678.2 258.1" stroke="#7f7f7f" stroke-width="1.5999999999999999" fill="none"/><path d="M689.7 242.9L701.3 254.5M701.3 242.9L689.7 254.5" stroke="#7f7f7f" stroke-width="1.5999999999999999" fill="none"/><path d="M701.2 239.2L712.8 250.8M712.8 239.2L701.2 250.8" stroke="#7f7f7f" stroke-width="1.5999999999999999" fill="none"/><path d="M712.8 235.5L724.4 247.1M724.4 235.5L712.8 247.1" stroke="#7f7f7f" stroke-width="1.5999999999999999" fill="none"/><path d="M724.3 231.8L735.9 243.4M735.9 231.8L724.3 243.4" stroke="#7f7f7f" stroke-width="1.5999999999999999" fill="none"/><path d="M735.8 228.2L747.4 239.8M747.4 228.2L735.8 239.8" stroke="#7f7f7f" stroke-width="1.5999999999999999" fill="none"/><path d="M747.4 224.5L759.0 236.1M759.0 224.5L747.4 236.1" stroke="#7f7f7f" stroke-width="1.5999999999999999" fill="none"/><path d="M758.9 220.8L770.5 232.4M770.5 220.8L758.9 232.4" stroke="#7f7f7f" stroke-width="1.5999999999999999" fill="none"/><path d="M770.4 217.1L782.0 228.7M782.0 217.1L770.4 228.7" stroke="#7f7f7f" stroke-width="1.5999999999999999" fill="none"/><path d="M782.0 213.5L793.6 225.1M793.6 213.5L782.0 225.1" stroke="#7f7f7f" stroke-width="1.5999999999999999" fill="none"/><path d="M793.5 209.8L805.1 221.4M805.1 209.8L793.5 221.4" stroke="#7f7f7f" stroke-width="1.5999999999999999" fill="none"/><path d="M805.0 206.1L816.6 217.7M816.6 206.1L805.0 217.7" stroke="#7f7f7f" stroke-width="1.5999999999999999" fill="none"/><path d="M816.6 202.4L828.2 214.0M828.2 202.4L816.6 214.0" stroke="#7f7f7f" stroke-width="1.5999999999999999" fill="none"/><path d="M828.1 198.8L839.7 210.4M839.7 198.8L828.1 210.4" stroke="#7f7f7f" stroke-width="1.5999999999999999" fill="none"/><path d="M839.6 197.0L851.2 208.6M851.2 197.0L839.6 208.6" stroke="#7f7f7f" stroke-width="1.5999999999999999" fill="none"/><path d="M851.2 195.5L862.8 207.1M862.8 195.5L851.2 207.1" stroke="#7f7f7f" stroke-width="1.5999999999999999" fill="none"/><path d="M862.7 194.0L874.3 205.6M874.3 194.0L862.7 205.6" stroke="#7f7f7f" stroke-width="1.5999999999999999" fill="none"/><path d="M874.2 192.9L885.8 204.5M885.8 192.9L874.2 204.5" stroke="#7f7f7f" stroke-width="1.5999999999999999" fill="none"/><path d="M885.8 193.0L897.4 204.6M897.4 193.0L885.8 204.6" stroke="#7f7f7f" stroke-width="1.5999999999999999" fill="none"/><path d="M897.3 193.2L908.9 204.8M908.9 193.2L897.3 204.8" stroke="#7f7f7f" stroke-width="1.5999999999999999" fill="none"/><path d="M908.8 193.4L920.4 205.0M920.4 193.4L908.8 205.0" stroke="#7f7f7f" stroke-width="1.5999999999999999" fill="none"/><path d="M920.4 193.6L932.0 205.2M932.0 193.6L920.4 205.2" stroke="#7f7f7f" stroke-width="1.5999999999999999" fill="none"/><path d="M931.9 193.7L943.5 205.3M943.5 193.7L931.9 205.3" stroke="#7f7f7f" stroke-width="1.5999999999999999" fill="none"/><path d="M943.4 200.7L955.0 212.3M955.0 200.7L943.4 212.3" stroke="#7f7f7f" stroke-width="1.5999999999999999" fill="none"/><path d="M955.0 208.2L966.6 219.8M966.6 208.2L955.0 219.8" stroke="#7f7f7f" stroke-width="1.5999999999999999" fill="none"/><path d="M966.5 227.2L978.1 238.8M978.1 227.2L966.5 238.8" stroke="#7f7f7f" stroke-width="1.5999999999999999" fill="none"/><path d="M978.0 225.5L989.6 237.1M989.6 225.5L978.0 237.1" stroke="#7f7f7f" stroke-width="1.5999999999999999" fill="none"/><path d="M989.6 239.6L1001.2 251.2M1001.2 239.6L989.6 251.2" stroke="#7f7f7f" stroke-width="1.5999999999999999" fill="none"/><path d="M1001.1 268.1L1012.7 279.7M1012.7 268.1L1001.1 279.7" stroke="#7f7f7f" stroke-width="1.5999999999999999" fill="none"/><path d="M1012.6 272.6L1024.2 284.2M1024.2 272.6L1012.6 284.2" stroke="#7f7f7f" stroke-width="1.5999999999999999" fill="none"/><path d="M1024.2 315.0L1035.8 326.6M1035.8 315.0L1024.2 326.6" stroke="#7f7f7f" stroke-width="1.5999999999999999" fill="none"/>
<path d="M257.2 463.5L268.8 457.0L280.3 450.5L291.8 444.0L303.4 437.5L314.9 431.0L326.5 424.5L338.0 418.0L349.6 411.4L361.1 404.9L372.6 398.4L384.2 391.9L395.7 385.4L407.3 378.9L418.8 372.4L430.4 365.9L441.9 359.4L453.4 352.9L465.0 346.4L476.5 339.9L488.1 333.4L499.6 326.9L511.2 320.4L522.7 313.9L534.2 307.4L545.8 300.9L557.3 295.9L568.9 291.2L580.4 286.5L592.0 281.8L603.5 277.0L615.0 272.3L626.6 267.6L638.1 262.8L649.7 258.1L661.2 253.4L672.8 248.7L684.3 243.9L695.8 239.2L707.4 234.5L718.9 229.7L730.5 225.0L742.0 220.3L753.6 215.6L765.1 210.8L776.6 206.1L788.2 203.9L799.7 201.8L811.3 199.7L822.8 197.6L834.4 195.4L845.9 193.3L857.4 191.2L869.0 189.1L880.5 187.0L892.1 184.9L903.6 182.8L915.2 180.7L926.7 180.7L938.2 180.7L949.8 180.7L961.3 180.7L972.9 187.0L984.4 193.3" fill="none" stroke="#7f7f7f" stroke-width="1.3"/>
<path d="M251.6 463.5L262.8 463.5M257.2 457.9L257.2 469.1" stroke="#7f7f7f" stroke-width="1.5999999999999999" fill="none"/><path d="M263.2 457.0L274.4 457.0M268.8 451.4L268.8 462.6" stroke="#7f7f7f" stroke-width="1.5999999999999999" fill="none"/><path d="M274.7 450.5L285.9 450.5M280.3 444.9L280.3 456.1" stroke="#7f7f7f" stroke-width="1.5999999999999999" fill="none"/><path d="M286.2 444.0L297.4 444.0M291.8 438.4L291.8 449.6" stroke="#7f7f7f" stroke-width="1.5999999999999999" fill="none"/><path d="M297.8 437.5L309.0 437.5M303.4 431.9L303.4 443.1" stroke="#7f7f7f" stroke-width="1.5999999999999999" fill="none"/><path d="M309.3 431.0L320.5 431.0M314.9 425.4L314.9 436.6" stroke="#7f7f7f" stroke-width="1.5999999999999999" fill="none"/><path d="M320.9 424.5L332.1 424.5M326.5 418.9L326.5 430.1" stroke="#7f7f7f" stroke-width="1.5999999999999999" fill="none"/><path d="M332.4 418.0L343.6 418.0M338.0 412.4L338.0 423.6" stroke="#7f7f7f" stroke-width="1.5999999999999999" fill="none"/><path d="M344.0 411.4L355.2 411.4M349.6 405.8L349.6 417.0" stroke="#7f7f7f" stroke-width="1.5999999999999999" fill="none"/><path d="M355.5 404.9L366.7 404.9M361.1 399.3L361.1 410.5" stroke="#7f7f7f" stroke-width="1.5999999999999999" fill="none"/><path d="M367.0 398.4L378.2 398.4M372.6 392.8L372.6 404.0" stroke="#7f7f7f" stroke-width="1.5999999999999999" fill="none"/><path d="M378.6 391.9L389.8 391.9M384.2 386.3L384.2 397.5" stroke="#7f7f7f" stroke-width="1.5999999999999999" fill="none"/><path d="M390.1 385.4L401.3 385.4M395.7 379.8L395.7 391.0" stroke="#7f7f7f" stroke-width="1.5999999999999999" fill="none"/><path d="M401.7 378.9L412.9 378.9M407.3 373.3L407.3 384.5" stroke="#7f7f7f" stroke-width="1.5999999999999999" fill="none"/><path d="M413.2 372.4L424.4 372.4M418.8 366.8L418.8 378.0" stroke="#7f7f7f" stroke-width="1.5999999999999999" fill="none"/><path d="M424.8 365.9L436.0 365.9M430.4 360.3L430.4 371.5" stroke="#7f7f7f" stroke-width="1.5999999999999999" fill="none"/><path d="M436.3 359.4L447.5 359.4M441.9 353.8L441.9 365.0" stroke="#7f7f7f" stroke-width="1.5999999999999999" fill="none"/><path d="M447.8 352.9L459.0 352.9M453.4 347.3L453.4 358.5" stroke="#7f7f7f" stroke-width="1.5999999999999999" fill="none"/><path d="M459.4 346.4L470.6 346.4M465.0 340.8L465.0 352.0" stroke="#7f7f7f" stroke-width="1.5999999999999999" fill="none"/><path d="M470.9 339.9L482.1 339.9M476.5 334.3L476.5 345.5" stroke="#7f7f7f" stroke-width="1.5999999999999999" fill="none"/><path d="M482.5 333.4L493.7 333.4M488.1 327.8L488.1 339.0" stroke="#7f7f7f" stroke-width="1.5999999999999999" fill="none"/><path d="M494.0 326.9L505.2 326.9M499.6 321.3L499.6 332.5" stroke="#7f7f7f" stroke-width="1.5999999999999999" fill="none"/><path d="M505.6 320.4L516.8 320.4M511.2 314.8L511.2 326.0" stroke="#7f7f7f" stroke-width="1.5999999999999999" fill="none"/><path d="M517.1 313.9L528.3 313.9M522.7 308.3L522.7 319.5" stroke="#7f7f7f" stroke-width="1.5999999999999999" fill="none"/><path d="M528.6 307.4L539.8 307.4M534.2 301.8L534.2 313.0" stroke="#7f7f7f" stroke-width="1.5999999999999999" fill="none"/><path d="M540.2 300.9L551.4 300.9M545.8 295.3L545.8 306.5" stroke="#7f7f7f" stroke-width="1.5999999999999999" fill="none"/><path d="M551.7 295.9L562.9 295.9M557.3 290.3L557.3 301.5" stroke="#7f7f7f" stroke-width="1.5999999999999999" fill="none"/><path d="M563.3 291.2L574.5 291.2M568.9 285.6L568.9 296.8" stroke="#7f7f7f" stroke-width="1.5999999999999999" fill="none"/><path d="M574.8 286.5L586.0 286.5M580.4 280.9L580.4 292.1" stroke="#7f7f7f" stroke-width="1.5999999999999999" fill="none"/><path d="M586.4 281.8L597.6 281.8M592.0 276.2L592.0 287.4" stroke="#7f7f7f" stroke-width="1.5999999999999999" fill="none"/><path d="M597.9 277.0L609.1 277.0M603.5 271.4L603.5 282.6" stroke="#7f7f7f" stroke-width="1.5999999999999999" fill="none"/><path d="M609.4 272.3L620.6 272.3M615.0 266.7L615.0 277.9" stroke="#7f7f7f" stroke-width="1.5999999999999999" fill="none"/><path d="M621.0 267.6L632.2 267.6M626.6 262.0L626.6 273.2" stroke="#7f7f7f" stroke-width="1.5999999999999999" fill="none"/><path d="M632.5 262.8L643.7 262.8M638.1 257.2L638.1 268.4" stroke="#7f7f7f" stroke-width="1.5999999999999999" fill="none"/><path d="M644.1 258.1L655.3 258.1M649.7 252.5L649.7 263.7" stroke="#7f7f7f" stroke-width="1.5999999999999999" fill="none"/><path d="M655.6 253.4L666.8 253.4M661.2 247.8L661.2 259.0" stroke="#7f7f7f" stroke-width="1.5999999999999999" fill="none"/><path d="M667.2 248.7L678.4 248.7M672.8 243.1L672.8 254.3" stroke="#7f7f7f" stroke-width="1.5999999999999999" fill="none"/><path d="M678.7 243.9L689.9 243.9M684.3 238.3L684.3 249.5" stroke="#7f7f7f" stroke-width="1.5999999999999999" fill="none"/><path d="M690.2 239.2L701.4 239.2M695.8 233.6L695.8 244.8" stroke="#7f7f7f" stroke-width="1.5999999999999999" fill="none"/><path d="M701.8 234.5L713.0 234.5M707.4 228.9L707.4 240.1" stroke="#7f7f7f" stroke-width="1.5999999999999999" fill="none"/><path d="M713.3 229.7L724.5 229.7M718.9 224.1L718.9 235.3" stroke="#7f7f7f" stroke-width="1.5999999999999999" fill="none"/><path d="M724.9 225.0L736.1 225.0M730.5 219.4L730.5 230.6" stroke="#7f7f7f" stroke-width="1.5999999999999999" fill="none"/><path d="M736.4 220.3L747.6 220.3M742.0 214.7L742.0 225.9" stroke="#7f7f7f" stroke-width="1.5999999999999999" fill="none"/><path d="M748.0 215.6L759.2 215.6M753.6 210.0L753.6 221.2" stroke="#7f7f7f" stroke-width="1.5999999999999999" fill="none"/><path d="M759.5 210.8L770.7 210.8M765.1 205.2L765.1 216.4" stroke="#7f7f7f" stroke-width="1.5999999999999999" fill="none"/><path d="M771.0 206.1L782.2 206.1M776.6 200.5L776.6 211.7" stroke="#7f7f7f" stroke-width="1.5999999999999999" fill="none"/><path d="M782.6 203.9L793.8 203.9M788.2 198.3L788.2 209.5" stroke="#7f7f7f" stroke-width="1.5999999999999999" fill="none"/><path d="M794.1 201.8L805.3 201.8M799.7 196.2L799.7 207.4" stroke="#7f7f7f" stroke-width="1.5999999999999999" fill="none"/><path d="M805.7 199.7L816.9 199.7M811.3 194.1L811.3 205.3" stroke="#7f7f7f" stroke-width="1.5999999999999999" fill="none"/><path d="M817.2 197.6L828.4 197.6M822.8 192.0L822.8 203.2" stroke="#7f7f7f" stroke-width="1.5999999999999999" fill="none"/><path d="M828.8 195.4L840.0 195.4M834.4 189.8L834.4 201.0" stroke="#7f7f7f" stroke-width="1.5999999999999999" fill="none"/><path d="M840.3 193.3L851.5 193.3M845.9 187.7L845.9 198.9" stroke="#7f7f7f" stroke-width="1.5999999999999999" fill="none"/><path d="M851.8 191.2L863.0 191.2M857.4 185.6L857.4 196.8" stroke="#7f7f7f" stroke-width="1.5999999999999999" fill="none"/><path d="M863.4 189.1L874.6 189.1M869.0 183.5L869.0 194.7" stroke="#7f7f7f" stroke-width="1.5999999999999999" fill="none"/><path d="M874.9 187.0L886.1 187.0M880.5 181.4L880.5 192.6" stroke="#7f7f7f" stroke-width="1.5999999999999999" fill="none"/><path d="M886.5 184.9L897.7 184.9M892.1 179.3L892.1 190.5" stroke="#7f7f7f" stroke-width="1.5999999999999999" fill="none"/><path d="M898.0 182.8L909.2 182.8M903.6 177.2L903.6 188.4" stroke="#7f7f7f" stroke-width="1.5999999999999999" fill="none"/><path d="M909.6 180.7L920.8 180.7M915.2 175.1L915.2 186.3" stroke="#7f7f7f" stroke-width="1.5999999999999999" fill="none"/><path d="M921.1 180.7L932.3 180.7M926.7 175.1L926.7 186.3" stroke="#7f7f7f" stroke-width="1.5999999999999999" fill="none"/><path d="M932.6 180.7L943.8 180.7M938.2 175.1L938.2 186.3" stroke="#7f7f7f" stroke-width="1.5999999999999999" fill="none"/><path d="M944.2 180.7L955.4 180.7M949.8 175.1L949.8 186.3" stroke="#7f7f7f" stroke-width="1.5999999999999999" fill="none"/><path d="M955.7 180.7L966.9 180.7M961.3 175.1L961.3 186.3" stroke="#7f7f7f" stroke-width="1.5999999999999999" fill="none"/><path d="M967.3 187.0L978.5 187.0M972.9 181.4L972.9 192.6" stroke="#7f7f7f" stroke-width="1.5999999999999999" fill="none"/><path d="M978.8 193.3L990.0 193.3M984.4 187.7L984.4 198.9" stroke="#7f7f7f" stroke-width="1.5999999999999999" fill="none"/>
<path d="M257.2 469.8L268.7 463.9L280.2 458.0L291.7 452.2L303.2 446.3L314.7 440.5L326.3 434.6L337.8 428.7L349.3 422.9L360.8 417.0L372.3 411.2L383.8 405.3L395.3 399.4L406.8 393.6L418.3 387.7L429.8 381.9L441.3 376.0L452.8 370.1L464.3 364.3L475.8 358.4L487.3 352.6L498.8 346.7L510.4 340.8L521.9 335.0L533.4 329.1L544.9 323.3L556.4 317.9L567.9 312.8L579.4 307.6L590.9 302.4L602.4 297.2L613.9 292.0L625.4 286.8L636.9 281.7L648.4 276.5L659.9 271.3L671.4 266.1L682.9 260.9L694.5 255.7L706.0 250.5L717.5 245.4L729.0 240.2L740.5 235.0L752.0 229.8L763.5 224.6L775.0 219.4L786.5 216.2L798.0 213.6L809.5 210.9L821.0 208.2L832.5 205.5L844.0 202.8L855.5 200.1L867.0 197.4L878.6 194.7L890.1 192.0L901.6 189.3L913.1 186.6L924.6 183.9L936.1 181.2L947.6 182.5L959.1 184.7L970.6 187.0" fill="none" stroke="#7f7f7f" stroke-width="1.3"/>
<path d="M251.4 464.0L263.0 475.6M263.0 464.0L251.4 475.6M257.2 464.0L257.2 475.6" stroke="#7f7f7f" stroke-width="1.5999999999999999" fill="none"/><path d="M262.9 458.1L274.5 469.7M274.5 458.1L262.9 469.7M268.7 458.1L268.7 469.7" stroke="#7f7f7f" stroke-width="1.5999999999999999" fill="none"/><path d="M274.4 452.2L286.0 463.8M286.0 452.2L274.4 463.8M280.2 452.2L280.2 463.8" stroke="#7f7f7f" stroke-width="1.5999999999999999" fill="none"/><path d="M285.9 446.4L297.5 458.0M297.5 446.4L285.9 458.0M291.7 446.4L291.7 458.0" stroke="#7f7f7f" stroke-width="1.5999999999999999" fill="none"/><path d="M297.4 440.5L309.0 452.1M309.0 440.5L297.4 452.1M303.2 440.5L303.2 452.1" stroke="#7f7f7f" stroke-width="1.5999999999999999" fill="none"/><path d="M308.9 434.7L320.5 446.3M320.5 434.7L308.9 446.3M314.7 434.7L314.7 446.3" stroke="#7f7f7f" stroke-width="1.5999999999999999" fill="none"/><path d="M320.5 428.8L332.1 440.4M332.1 428.8L320.5 440.4M326.3 428.8L326.3 440.4" stroke="#7f7f7f" stroke-width="1.5999999999999999" fill="none"/><path d="M332.0 422.9L343.6 434.5M343.6 422.9L332.0 434.5M337.8 422.9L337.8 434.5" stroke="#7f7f7f" stroke-width="1.5999999999999999" fill="none"/><path d="M343.5 417.1L355.1 428.7M355.1 417.1L343.5 428.7M349.3 417.1L349.3 428.7" stroke="#7f7f7f" stroke-width="1.5999999999999999" fill="none"/><path d="M355.0 411.2L366.6 422.8M366.6 411.2L355.0 422.8M360.8 411.2L360.8 422.8" stroke="#7f7f7f" stroke-width="1.5999999999999999" fill="none"/><path d="M366.5 405.4L378.1 417.0M378.1 405.4L366.5 417.0M372.3 405.4L372.3 417.0" stroke="#7f7f7f" stroke-width="1.5999999999999999" fill="none"/><path d="M378.0 399.5L389.6 411.1M389.6 399.5L378.0 411.1M383.8 399.5L383.8 411.1" stroke="#7f7f7f" stroke-width="1.5999999999999999" fill="none"/><path d="M389.5 393.6L401.1 405.2M401.1 393.6L389.5 405.2M395.3 393.6L395.3 405.2" stroke="#7f7f7f" stroke-width="1.5999999999999999" fill="none"/><path d="M401.0 387.8L412.6 399.4M412.6 387.8L401.0 399.4M406.8 387.8L406.8 399.4" stroke="#7f7f7f" stroke-width="1.5999999999999999" fill="none"/><path d="M412.5 381.9L424.1 393.5M424.1 381.9L412.5 393.5M418.3 381.9L418.3 393.5" stroke="#7f7f7f" stroke-width="1.5999999999999999" fill="none"/><path d="M424.0 376.1L435.6 387.7M435.6 376.1L424.0 387.7M429.8 376.1L429.8 387.7" stroke="#7f7f7f" stroke-width="1.5999999999999999" fill="none"/><path d="M435.5 370.2L447.1 381.8M447.1 370.2L435.5 381.8M441.3 370.2L441.3 381.8" stroke="#7f7f7f" stroke-width="1.5999999999999999" fill="none"/><path d="M447.0 364.3L458.6 375.9M458.6 364.3L447.0 375.9M452.8 364.3L452.8 375.9" stroke="#7f7f7f" stroke-width="1.5999999999999999" fill="none"/><path d="M458.5 358.5L470.1 370.1M470.1 358.5L458.5 370.1M464.3 358.5L464.3 370.1" stroke="#7f7f7f" stroke-width="1.5999999999999999" fill="none"/><path d="M470.0 352.6L481.6 364.2M481.6 352.6L470.0 364.2M475.8 352.6L475.8 364.2" stroke="#7f7f7f" stroke-width="1.5999999999999999" fill="none"/><path d="M481.5 346.8L493.1 358.4M493.1 346.8L481.5 358.4M487.3 346.8L487.3 358.4" stroke="#7f7f7f" stroke-width="1.5999999999999999" fill="none"/><path d="M493.0 340.9L504.6 352.5M504.6 340.9L493.0 352.5M498.8 340.9L498.8 352.5" stroke="#7f7f7f" stroke-width="1.5999999999999999" fill="none"/><path d="M504.6 335.0L516.2 346.6M516.2 335.0L504.6 346.6M510.4 335.0L510.4 346.6" stroke="#7f7f7f" stroke-width="1.5999999999999999" fill="none"/><path d="M516.1 329.2L527.7 340.8M527.7 329.2L516.1 340.8M521.9 329.2L521.9 340.8" stroke="#7f7f7f" stroke-width="1.5999999999999999" fill="none"/><path d="M527.6 323.3L539.2 334.9M539.2 323.3L527.6 334.9M533.4 323.3L533.4 334.9" stroke="#7f7f7f" stroke-width="1.5999999999999999" fill="none"/><path d="M539.1 317.5L550.7 329.1M550.7 317.5L539.1 329.1M544.9 317.5L544.9 329.1" stroke="#7f7f7f" stroke-width="1.5999999999999999" fill="none"/><path d="M550.6 312.1L562.2 323.7M562.2 312.1L550.6 323.7M556.4 312.1L556.4 323.7" stroke="#7f7f7f" stroke-width="1.5999999999999999" fill="none"/><path d="M562.1 307.0L573.7 318.6M573.7 307.0L562.1 318.6M567.9 307.0L567.9 318.6" stroke="#7f7f7f" stroke-width="1.5999999999999999" fill="none"/><path d="M573.6 301.8L585.2 313.4M585.2 301.8L573.6 313.4M579.4 301.8L579.4 313.4" stroke="#7f7f7f" stroke-width="1.5999999999999999" fill="none"/><path d="M585.1 296.6L596.7 308.2M596.7 296.6L585.1 308.2M590.9 296.6L590.9 308.2" stroke="#7f7f7f" stroke-width="1.5999999999999999" fill="none"/><path d="M596.6 291.4L608.2 303.0M608.2 291.4L596.6 303.0M602.4 291.4L602.4 303.0" stroke="#7f7f7f" stroke-width="1.5999999999999999" fill="none"/><path d="M608.1 286.2L619.7 297.8M619.7 286.2L608.1 297.8M613.9 286.2L613.9 297.8" stroke="#7f7f7f" stroke-width="1.5999999999999999" fill="none"/><path d="M619.6 281.0L631.2 292.6M631.2 281.0L619.6 292.6M625.4 281.0L625.4 292.6" stroke="#7f7f7f" stroke-width="1.5999999999999999" fill="none"/><path d="M631.1 275.9L642.7 287.5M642.7 275.9L631.1 287.5M636.9 275.9L636.9 287.5" stroke="#7f7f7f" stroke-width="1.5999999999999999" fill="none"/><path d="M642.6 270.7L654.2 282.3M654.2 270.7L642.6 282.3M648.4 270.7L648.4 282.3" stroke="#7f7f7f" stroke-width="1.5999999999999999" fill="none"/><path d="M654.1 265.5L665.7 277.1M665.7 265.5L654.1 277.1M659.9 265.5L659.9 277.1" stroke="#7f7f7f" stroke-width="1.5999999999999999" fill="none"/><path d="M665.6 260.3L677.2 271.9M677.2 260.3L665.6 271.9M671.4 260.3L671.4 271.9" stroke="#7f7f7f" stroke-width="1.5999999999999999" fill="none"/><path d="M677.1 255.1L688.7 266.7M688.7 255.1L677.1 266.7M682.9 255.1L682.9 266.7" stroke="#7f7f7f" stroke-width="1.5999999999999999" fill="none"/><path d="M688.7 249.9L700.3 261.5M700.3 249.9L688.7 261.5M694.5 249.9L694.5 261.5" stroke="#7f7f7f" stroke-width="1.5999999999999999" fill="none"/><path d="M700.2 244.7L711.8 256.3M711.8 244.7L700.2 256.3M706.0 244.7L706.0 256.3" stroke="#7f7f7f" stroke-width="1.5999999999999999" fill="none"/><path d="M711.7 239.6L723.3 251.2M723.3 239.6L711.7 251.2M717.5 239.6L717.5 251.2" stroke="#7f7f7f" stroke-width="1.5999999999999999" fill="none"/><path d="M723.2 234.4L734.8 246.0M734.8 234.4L723.2 246.0M729.0 234.4L729.0 246.0" stroke="#7f7f7f" stroke-width="1.5999999999999999" fill="none"/><path d="M734.7 229.2L746.3 240.8M746.3 229.2L734.7 240.8M740.5 229.2L740.5 240.8" stroke="#7f7f7f" stroke-width="1.5999999999999999" fill="none"/><path d="M746.2 224.0L757.8 235.6M757.8 224.0L746.2 235.6M752.0 224.0L752.0 235.6" stroke="#7f7f7f" stroke-width="1.5999999999999999" fill="none"/><path d="M757.7 218.8L769.3 230.4M769.3 218.8L757.7 230.4M763.5 218.8L763.5 230.4" stroke="#7f7f7f" stroke-width="1.5999999999999999" fill="none"/><path d="M769.2 213.6L780.8 225.2M780.8 213.6L769.2 225.2M775.0 213.6L775.0 225.2" stroke="#7f7f7f" stroke-width="1.5999999999999999" fill="none"/><path d="M780.7 210.4L792.3 222.0M792.3 210.4L780.7 222.0M786.5 210.4L786.5 222.0" stroke="#7f7f7f" stroke-width="1.5999999999999999" fill="none"/><path d="M792.2 207.8L803.8 219.4M803.8 207.8L792.2 219.4M798.0 207.8L798.0 219.4" stroke="#7f7f7f" stroke-width="1.5999999999999999" fill="none"/><path d="M803.7 205.1L815.3 216.7M815.3 205.1L803.7 216.7M809.5 205.1L809.5 216.7" stroke="#7f7f7f" stroke-width="1.5999999999999999" fill="none"/><path d="M815.2 202.4L826.8 214.0M826.8 202.4L815.2 214.0M821.0 202.4L821.0 214.0" stroke="#7f7f7f" stroke-width="1.5999999999999999" fill="none"/><path d="M826.7 199.7L838.3 211.3M838.3 199.7L826.7 211.3M832.5 199.7L832.5 211.3" stroke="#7f7f7f" stroke-width="1.5999999999999999" fill="none"/><path d="M838.2 197.0L849.8 208.6M849.8 197.0L838.2 208.6M844.0 197.0L844.0 208.6" stroke="#7f7f7f" stroke-width="1.5999999999999999" fill="none"/><path d="M849.7 194.3L861.3 205.9M861.3 194.3L849.7 205.9M855.5 194.3L855.5 205.9" stroke="#7f7f7f" stroke-width="1.5999999999999999" fill="none"/><path d="M861.2 191.6L872.8 203.2M872.8 191.6L861.2 203.2M867.0 191.6L867.0 203.2" stroke="#7f7f7f" stroke-width="1.5999999999999999" fill="none"/><path d="M872.8 188.9L884.4 200.5M884.4 188.9L872.8 200.5M878.6 188.9L878.6 200.5" stroke="#7f7f7f" stroke-width="1.5999999999999999" fill="none"/><path d="M884.3 186.2L895.9 197.8M895.9 186.2L884.3 197.8M890.1 186.2L890.1 197.8" stroke="#7f7f7f" stroke-width="1.5999999999999999" fill="none"/><path d="M895.8 183.5L907.4 195.1M907.4 183.5L895.8 195.1M901.6 183.5L901.6 195.1" stroke="#7f7f7f" stroke-width="1.5999999999999999" fill="none"/><path d="M907.3 180.8L918.9 192.4M918.9 180.8L907.3 192.4M913.1 180.8L913.1 192.4" stroke="#7f7f7f" stroke-width="1.5999999999999999" fill="none"/><path d="M918.8 178.1L930.4 189.7M930.4 178.1L918.8 189.7M924.6 178.1L924.6 189.7" stroke="#7f7f7f" stroke-width="1.5999999999999999" fill="none"/><path d="M930.3 175.4L941.9 187.0M941.9 175.4L930.3 187.0M936.1 175.4L936.1 187.0" stroke="#7f7f7f" stroke-width="1.5999999999999999" fill="none"/><path d="M941.8 176.7L953.4 188.3M953.4 176.7L941.8 188.3M947.6 176.7L947.6 188.3" stroke="#7f7f7f" stroke-width="1.5999999999999999" fill="none"/><path d="M953.3 178.9L964.9 190.5M964.9 178.9L953.3 190.5M959.1 178.9L959.1 190.5" stroke="#7f7f7f" stroke-width="1.5999999999999999" fill="none"/><path d="M964.8 181.2L976.4 192.8M976.4 181.2L964.8 192.8M970.6 181.2L970.6 192.8" stroke="#7f7f7f" stroke-width="1.5999999999999999" fill="none"/>
<path d="M257.2 463.5L268.8 456.8L280.3 450.1L291.8 443.4L303.4 436.7L314.9 430.1L326.5 423.4L338.0 416.7L349.6 410.0L361.1 403.3L372.6 396.6L384.2 389.9L395.7 383.3L407.3 376.6L418.8 370.4L430.3 364.4L441.9 358.3L453.4 352.3L465.0 346.2L476.5 340.2L488.1 334.1L499.6 328.0L511.1 322.0L522.7 315.9L534.2 309.9L545.8 303.8L557.3 297.8L568.8 291.7L580.4 285.7L591.9 279.0L603.5 272.4L615.0 265.7L626.6 259.1L638.1 252.4L649.6 245.8L661.2 239.1L672.7 232.5L684.3 226.2L695.8 220.5L707.3 214.8L718.9 209.1L730.4 203.4L742.0 197.6L753.5 192.6L765.1 187.8L776.6 183.0L788.1 178.2L799.7 175.5L811.2 173.6L822.8 171.8L834.3 169.9L845.8 168.0L857.4 166.0L868.9 163.3L880.5 160.6L892.0 158.4L903.6 165.8L915.1 171.0L926.6 175.8L938.2 180.6L949.7 184.6L961.3 188.5L972.8 192.4L984.3 196.4L995.9 204.2L1007.4 212.1" fill="none" stroke="#7f7f7f" stroke-width="1.3"/>
<rect x="252.2" y="458.5" width="10.0" height="10.0" stroke="#7f7f7f" stroke-width="1.7" fill="none"/><rect x="263.8" y="451.8" width="10.0" height="10.0" stroke="#7f7f7f" stroke-width="1.7" fill="none"/><rect x="275.3" y="445.1" width="10.0" height="10.0" stroke="#7f7f7f" stroke-width="1.7" fill="none"/><rect x="286.8" y="438.4" width="10.0" height="10.0" stroke="#7f7f7f" stroke-width="1.7" fill="none"/><rect x="298.4" y="431.7" width="10.0" height="10.0" stroke="#7f7f7f" stroke-width="1.7" fill="none"/><rect x="309.9" y="425.1" width="10.0" height="10.0" stroke="#7f7f7f" stroke-width="1.7" fill="none"/><rect x="321.5" y="418.4" width="10.0" height="10.0" stroke="#7f7f7f" stroke-width="1.7" fill="none"/><rect x="333.0" y="411.7" width="10.0" height="10.0" stroke="#7f7f7f" stroke-width="1.7" fill="none"/><rect x="344.6" y="405.0" width="10.0" height="10.0" stroke="#7f7f7f" stroke-width="1.7" fill="none"/><rect x="356.1" y="398.3" width="10.0" height="10.0" stroke="#7f7f7f" stroke-width="1.7" fill="none"/><rect x="367.6" y="391.6" width="10.0" height="10.0" stroke="#7f7f7f" stroke-width="1.7" fill="none"/><rect x="379.2" y="384.9" width="10.0" height="10.0" stroke="#7f7f7f" stroke-width="1.7" fill="none"/><rect x="390.7" y="378.3" width="10.0" height="10.0" stroke="#7f7f7f" stroke-width="1.7" fill="none"/><rect x="402.3" y="371.6" width="10.0" height="10.0" stroke="#7f7f7f" stroke-width="1.7" fill="none"/><rect x="413.8" y="365.4" width="10.0" height="10.0" stroke="#7f7f7f" stroke-width="1.7" fill="none"/><rect x="425.3" y="359.4" width="10.0" height="10.0" stroke="#7f7f7f" stroke-width="1.7" fill="none"/><rect x="436.9" y="353.3" width="10.0" height="10.0" stroke="#7f7f7f" stroke-width="1.7" fill="none"/><rect x="448.4" y="347.3" width="10.0" height="10.0" stroke="#7f7f7f" stroke-width="1.7" fill="none"/><rect x="460.0" y="341.2" width="10.0" height="10.0" stroke="#7f7f7f" stroke-width="1.7" fill="none"/><rect x="471.5" y="335.2" width="10.0" height="10.0" stroke="#7f7f7f" stroke-width="1.7" fill="none"/><rect x="483.1" y="329.1" width="10.0" height="10.0" stroke="#7f7f7f" stroke-width="1.7" fill="none"/><rect x="494.6" y="323.0" width="10.0" height="10.0" stroke="#7f7f7f" stroke-width="1.7" fill="none"/><rect x="506.1" y="317.0" width="10.0" height="10.0" stroke="#7f7f7f" stroke-width="1.7" fill="none"/><rect x="517.7" y="310.9" width="10.0" height="10.0" stroke="#7f7f7f" stroke-width="1.7" fill="none"/><rect x="529.2" y="304.9" width="10.0" height="10.0" stroke="#7f7f7f" stroke-width="1.7" fill="none"/><rect x="540.8" y="298.8" width="10.0" height="10.0" stroke="#7f7f7f" stroke-width="1.7" fill="none"/><rect x="552.3" y="292.8" width="10.0" height="10.0" stroke="#7f7f7f" stroke-width="1.7" fill="none"/><rect x="563.8" y="286.7" width="10.0" height="10.0" stroke="#7f7f7f" stroke-width="1.7" fill="none"/><rect x="575.4" y="280.7" width="10.0" height="10.0" stroke="#7f7f7f" stroke-width="1.7" fill="none"/><rect x="586.9" y="274.0" width="10.0" height="10.0" stroke="#7f7f7f" stroke-width="1.7" fill="none"/><rect x="598.5" y="267.4" width="10.0" height="10.0" stroke="#7f7f7f" stroke-width="1.7" fill="none"/><rect x="610.0" y="260.7" width="10.0" height="10.0" stroke="#7f7f7f" stroke-width="1.7" fill="none"/><rect x="621.6" y="254.1" width="10.0" height="10.0" stroke="#7f7f7f" stroke-width="1.7" fill="none"/><rect x="633.1" y="247.4" width="10.0" height="10.0" stroke="#7f7f7f" stroke-width="1.7" fill="none"/><rect x="644.6" y="240.8" width="10.0" height="10.0" stroke="#7f7f7f" stroke-width="1.7" fill="none"/><rect x="656.2" y="234.1" width="10.0" height="10.0" stroke="#7f7f7f" stroke-width="1.7" fill="none"/><rect x="667.7" y="227.5" width="10.0" height="10.0" stroke="#7f7f7f" stroke-width="1.7" fill="none"/><rect x="679.3" y="221.2" width="10.0" height="10.0" stroke="#7f7f7f" stroke-width="1.7" fill="none"/><rect x="690.8" y="215.5" width="10.0" height="10.0" stroke="#7f7f7f" stroke-width="1.7" fill="none"/><rect x="702.3" y="209.8" width="10.0" height="10.0" stroke="#7f7f7f" stroke-width="1.7" fill="none"/><rect x="713.9" y="204.1" width="10.0" height="10.0" stroke="#7f7f7f" stroke-width="1.7" fill="none"/><rect x="725.4" y="198.4" width="10.0" height="10.0" stroke="#7f7f7f" stroke-width="1.7" fill="none"/><rect x="737.0" y="192.6" width="10.0" height="10.0" stroke="#7f7f7f" stroke-width="1.7" fill="none"/><rect x="748.5" y="187.6" width="10.0" height="10.0" stroke="#7f7f7f" stroke-width="1.7" fill="none"/><rect x="760.1" y="182.8" width="10.0" height="10.0" stroke="#7f7f7f" stroke-width="1.7" fill="none"/><rect x="771.6" y="178.0" width="10.0" height="10.0" stroke="#7f7f7f" stroke-width="1.7" fill="none"/><rect x="783.1" y="173.2" width="10.0" height="10.0" stroke="#7f7f7f" stroke-width="1.7" fill="none"/><rect x="794.7" y="170.5" width="10.0" height="10.0" stroke="#7f7f7f" stroke-width="1.7" fill="none"/><rect x="806.2" y="168.6" width="10.0" height="10.0" stroke="#7f7f7f" stroke-width="1.7" fill="none"/><rect x="817.8" y="166.8" width="10.0" height="10.0" stroke="#7f7f7f" stroke-width="1.7" fill="none"/><rect x="829.3" y="164.9" width="10.0" height="10.0" stroke="#7f7f7f" stroke-width="1.7" fill="none"/><rect x="840.8" y="163.0" width="10.0" height="10.0" stroke="#7f7f7f" stroke-width="1.7" fill="none"/><rect x="852.4" y="161.0" width="10.0" height="10.0" stroke="#7f7f7f" stroke-width="1.7" fill="none"/><rect x="863.9" y="158.3" width="10.0" height="10.0" stroke="#7f7f7f" stroke-width="1.7" fill="none"/><rect x="875.5" y="155.6" width="10.0" height="10.0" stroke="#7f7f7f" stroke-width="1.7" fill="none"/><rect x="887.0" y="153.4" width="10.0" height="10.0" stroke="#7f7f7f" stroke-width="1.7" fill="none"/><rect x="898.6" y="160.8" width="10.0" height="10.0" stroke="#7f7f7f" stroke-width="1.7" fill="none"/><rect x="910.1" y="166.0" width="10.0" height="10.0" stroke="#7f7f7f" stroke-width="1.7" fill="none"/><rect x="921.6" y="170.8" width="10.0" height="10.0" stroke="#7f7f7f" stroke-width="1.7" fill="none"/><rect x="933.2" y="175.6" width="10.0" height="10.0" stroke="#7f7f7f" stroke-width="1.7" fill="none"/><rect x="944.7" y="179.6" width="10.0" height="10.0" stroke="#7f7f7f" stroke-width="1.7" fill="none"/><rect x="956.3" y="183.5" width="10.0" height="10.0" stroke="#7f7f7f" stroke-width="1.7" fill="none"/><rect x="967.8" y="187.4" width="10.0" height="10.0" stroke="#7f7f7f" stroke-width="1.7" fill="none"/><rect x="979.3" y="191.4" width="10.0" height="10.0" stroke="#7f7f7f" stroke-width="1.7" fill="none"/><rect x="990.9" y="199.2" width="10.0" height="10.0" stroke="#7f7f7f" stroke-width="1.7" fill="none"/><rect x="1002.4" y="207.1" width="10.0" height="10.0" stroke="#7f7f7f" stroke-width="1.7" fill="none"/>
<path d="M257.2 457.2L268.8 449.8L280.3 442.4L291.9 435.0L303.4 427.6L315.0 420.2L326.5 412.8L338.1 405.4L349.6 397.9L361.2 390.5L372.7 383.1L384.2 375.7L395.8 368.3L407.3 360.9L418.9 353.7L430.4 346.6L442.0 339.4L453.5 332.3L465.1 325.1L476.6 318.0L488.2 310.8L499.7 303.7L511.3 296.5L522.8 289.4L534.4 282.2L545.9 275.1L557.5 267.9L569.0 260.8L580.6 253.6L592.1 246.5L603.7 240.6L615.2 234.7L626.8 228.8L638.3 222.9L649.9 217.4L661.4 211.8L672.9 206.3L684.5 201.4L696.0 197.5L707.6 193.7L719.1 189.8L730.7 185.9L742.2 182.1L753.8 178.2L765.3 174.3L776.9 170.5L788.4 166.6L800.0 162.8L811.5 161.7L823.1 160.5L834.6 159.4L846.2 158.3L857.7 158.9L869.3 159.9L880.8 160.9L892.4 161.8L903.9 168.2L915.5 174.4L927.0 177.6L938.6 180.7L950.1 183.9L961.7 187.1L973.2 190.2L984.7 193.6L996.3 205.4L1007.8 226.6L1019.4 259.9" fill="none" stroke="#7f7f7f" stroke-width="1.3"/>
<circle cx="257.2" cy="457.2" r="4.7" stroke="#7f7f7f" stroke-width="1.7" fill="none"/><circle cx="268.8" cy="449.8" r="4.7" stroke="#7f7f7f" stroke-width="1.7" fill="none"/><circle cx="280.3" cy="442.4" r="4.7" stroke="#7f7f7f" stroke-width="1.7" fill="none"/><circle cx="291.9" cy="435.0" r="4.7" stroke="#7f7f7f" stroke-width="1.7" fill="none"/><circle cx="303.4" cy="427.6" r="4.7" stroke="#7f7f7f" stroke-width="1.7" fill="none"/><circle cx="315.0" cy="420.2" r="4.7" stroke="#7f7f7f" stroke-width="1.7" fill="none"/><circle cx="326.5" cy="412.8" r="4.7" stroke="#7f7f7f" stroke-width="1.7" fill="none"/><circle cx="338.1" cy="405.4" r="4.7" stroke="#7f7f7f" stroke-width="1.7" fill="none"/><circle cx="349.6" cy="397.9" r="4.7" stroke="#7f7f7f" stroke-width="1.7" fill="none"/><circle cx="361.2" cy="390.5" r="4.7" stroke="#7f7f7f" stroke-width="1.7" fill="none"/><circle cx="372.7" cy="383.1" r="4.7" stroke="#7f7f7f" stroke-width="1.7" fill="none"/><circle cx="384.2" cy="375.7" r="4.7" stroke="#7f7f7f" stroke-width="1.7" fill="none"/><circle cx="395.8" cy="368.3" r="4.7" stroke="#7f7f7f" stroke-width="1.7" fill="none"/><circle cx="407.3" cy="360.9" r="4.7" stroke="#7f7f7f" stroke-width="1.7" fill="none"/><circle cx="418.9" cy="353.7" r="4.7" stroke="#7f7f7f" stroke-width="1.7" fill="none"/><circle cx="430.4" cy="346.6" r="4.7" stroke="#7f7f7f" stroke-width="1.7" fill="none"/><circle cx="442.0" cy="339.4" r="4.7" stroke="#7f7f7f" stroke-width="1.7" fill="none"/><circle cx="453.5" cy="332.3" r="4.7" stroke="#7f7f7f" stroke-width="1.7" fill="none"/><circle cx="465.1" cy="325.1" r="4.7" stroke="#7f7f7f" stroke-width="1.7" fill="none"/><circle cx="476.6" cy="318.0" r="4.7" stroke="#7f7f7f" stroke-width="1.7" fill="none"/><circle cx="488.2" cy="310.8" r="4.7" stroke="#7f7f7f" stroke-width="1.7" fill="none"/><circle cx="499.7" cy="303.7" r="4.7" stroke="#7f7f7f" stroke-width="1.7" fill="none"/><circle cx="511.3" cy="296.5" r="4.7" stroke="#7f7f7f" stroke-width="1.7" fill="none"/><circle cx="522.8" cy="289.4" r="4.7" stroke="#7f7f7f" stroke-width="1.7" fill="none"/><circle cx="534.4" cy="282.2" r="4.7" stroke="#7f7f7f" stroke-width="1.7" fill="none"/><circle cx="545.9" cy="275.1" r="4.7" stroke="#7f7f7f" stroke-width="1.7" fill="none"/><circle cx="557.5" cy="267.9" r="4.7" stroke="#7f7f7f" stroke-width="1.7" fill="none"/><circle cx="569.0" cy="260.8" r="4.7" stroke="#7f7f7f" stroke-width="1.7" fill="none"/><circle cx="580.6" cy="253.6" r="4.7" stroke="#7f7f7f" stroke-width="1.7" fill="none"/><circle cx="592.1" cy="246.5" r="4.7" stroke="#7f7f7f" stroke-width="1.7" fill="none"/><circle cx="603.7" cy="240.6" r="4.7" stroke="#7f7f7f" stroke-width="1.7" fill="none"/><circle cx="615.2" cy="234.7" r="4.7" stroke="#7f7f7f" stroke-width="1.7" fill="none"/><circle cx="626.8" cy="228.8" r="4.7" stroke="#7f7f7f" stroke-width="1.7" fill="none"/><circle cx="638.3" cy="222.9" r="4.7" stroke="#7f7f7f" stroke-width="1.7" fill="none"/><circle cx="649.9" cy="217.4" r="4.7" stroke="#7f7f7f" stroke-width="1.7" fill="none"/><circle cx="661.4" cy="211.8" r="4.7" stroke="#7f7f7f" stroke-width="1.7" fill="none"/><circle cx="672.9" cy="206.3" r="4.7" stroke="#7f7f7f" stroke-width="1.7" fill="none"/><circle cx="684.5" cy="201.4" r="4.7" stroke="#7f7f7f" stroke-width="1.7" fill="none"/><circle cx="696.0" cy="197.5" r="4.7" stroke="#7f7f7f" stroke-width="1.7" fill="none"/><circle cx="707.6" cy="193.7" r="4.7" stroke="#7f7f7f" stroke-width="1.7" fill="none"/><circle cx="719.1" cy="189.8" r="4.7" stroke="#7f7f7f" stroke-width="1.7" fill="none"/><circle cx="730.7" cy="185.9" r="4.7" stroke="#7f7f7f" stroke-width="1.7" fill="none"/><circle cx="742.2" cy="182.1" r="4.7" stroke="#7f7f7f" stroke-width="1.7" fill="none"/><circle cx="753.8" cy="178.2" r="4.7" stroke="#7f7f7f" stroke-width="1.7" fill="none"/><circle cx="765.3" cy="174.3" r="4.7" stroke="#7f7f7f" stroke-width="1.7" fill="none"/><circle cx="776.9" cy="170.5" r="4.7" stroke="#7f7f7f" stroke-width="1.7" fill="none"/><circle cx="788.4" cy="166.6" r="4.7" stroke="#7f7f7f" stroke-width="1.7" fill="none"/><circle cx="800.0" cy="162.8" r="4.7" stroke="#7f7f7f" stroke-width="1.7" fill="none"/><circle cx="811.5" cy="161.7" r="4.7" stroke="#7f7f7f" stroke-width="1.7" fill="none"/><circle cx="823.1" cy="160.5" r="4.7" stroke="#7f7f7f" stroke-width="1.7" fill="none"/><circle cx="834.6" cy="159.4" r="4.7" stroke="#7f7f7f" stroke-width="1.7" fill="none"/><circle cx="846.2" cy="158.3" r="4.7" stroke="#7f7f7f" stroke-width="1.7" fill="none"/><circle cx="857.7" cy="158.9" r="4.7" stroke="#7f7f7f" stroke-width="1.7" fill="none"/><circle cx="869.3" cy="159.9" r="4.7" stroke="#7f7f7f" stroke-width="1.7" fill="none"/><circle cx="880.8" cy="160.9" r="4.7" stroke="#7f7f7f" stroke-width="1.7" fill="none"/><circle cx="892.4" cy="161.8" r="4.7" stroke="#7f7f7f" stroke-width="1.7" fill="none"/><circle cx="903.9" cy="168.2" r="4.7" stroke="#7f7f7f" stroke-width="1.7" fill="none"/><circle cx="915.5" cy="174.4" r="4.7" stroke="#7f7f7f" stroke-width="1.7" fill="none"/><circle cx="927.0" cy="177.6" r="4.7" stroke="#7f7f7f" stroke-width="1.7" fill="none"/><circle cx="938.6" cy="180.7" r="4.7" stroke="#7f7f7f" stroke-width="1.7" fill="none"/><circle cx="950.1" cy="183.9" r="4.7" stroke="#7f7f7f" stroke-width="1.7" fill="none"/><circle cx="961.7" cy="187.1" r="4.7" stroke="#7f7f7f" stroke-width="1.7" fill="none"/><circle cx="973.2" cy="190.2" r="4.7" stroke="#7f7f7f" stroke-width="1.7" fill="none"/><circle cx="984.7" cy="193.6" r="4.7" stroke="#7f7f7f" stroke-width="1.7" fill="none"/><circle cx="996.3" cy="205.4" r="4.7" stroke="#7f7f7f" stroke-width="1.7" fill="none"/><circle cx="1007.8" cy="226.6" r="4.7" stroke="#7f7f7f" stroke-width="1.7" fill="none"/><circle cx="1019.4" cy="259.9" r="4.7" stroke="#7f7f7f" stroke-width="1.7" fill="none"/>
<path d="M252.6 450.9L264.1 443.9L275.5 436.9L286.9 429.9L298.4 423.0L309.8 416.0L321.3 409.0L332.7 402.0L344.2 395.1L355.6 388.5L367.1 381.9L378.5 375.3L389.9 368.7L401.4 362.1L412.8 355.5L424.3 348.9L435.7 342.3L447.2 335.7L458.6 329.1L470.1 322.6L481.5 316.0L492.9 309.4L504.4 302.8L515.8 296.2L527.3 289.6L538.7 283.0L550.2 276.4L561.6 269.8L573.1 263.2L584.5 256.1L595.9 248.4L607.4 240.7L618.8 233.0L630.3 225.3L641.7 217.6L653.2 209.9L664.6 202.2L676.1 194.5L687.5 186.8L698.9 179.1L710.4 173.0L721.8 169.3L733.3 165.6L744.7 162.0L756.2 158.3L767.6 154.6L779.1 150.9L790.5 147.3L801.9 144.5L813.4 144.2L824.8 144.0L836.3 143.7L847.7 143.5L859.2 143.2L870.6 144.1L882.1 153.8L893.5 163.6L904.9 193.9L916.4 232.9L927.8 265.3L939.3 293.7L950.7 312.5L962.2 344.9L973.6 327.0L985.1 338.8L996.5 343.0L1007.9 346.5L1019.4 352.3" fill="none" stroke="#7f7f7f" stroke-width="1.3"/>
<path d="M252.6 445.1L258.4 455.6L246.8 455.6Z" stroke="#7f7f7f" stroke-width="1.7" fill="none"/><path d="M264.1 438.1L269.9 448.6L258.3 448.6Z" stroke="#7f7f7f" stroke-width="1.7" fill="none"/><path d="M275.5 431.1L281.3 441.6L269.7 441.6Z" stroke="#7f7f7f" stroke-width="1.7" fill="none"/><path d="M286.9 424.1L292.7 434.6L281.1 434.6Z" stroke="#7f7f7f" stroke-width="1.7" fill="none"/><path d="M298.4 417.2L304.2 427.6L292.6 427.6Z" stroke="#7f7f7f" stroke-width="1.7" fill="none"/><path d="M309.8 410.2L315.6 420.6L304.0 420.6Z" stroke="#7f7f7f" stroke-width="1.7" fill="none"/><path d="M321.3 403.2L327.1 413.6L315.5 413.6Z" stroke="#7f7f7f" stroke-width="1.7" fill="none"/><path d="M332.7 396.2L338.5 406.6L326.9 406.6Z" stroke="#7f7f7f" stroke-width="1.7" fill="none"/><path d="M344.2 389.3L350.0 399.8L338.4 399.8Z" stroke="#7f7f7f" stroke-width="1.7" fill="none"/><path d="M355.6 382.7L361.4 393.2L349.8 393.2Z" stroke="#7f7f7f" stroke-width="1.7" fill="none"/><path d="M367.1 376.1L372.9 386.6L361.3 386.6Z" stroke="#7f7f7f" stroke-width="1.7" fill="none"/><path d="M378.5 369.5L384.3 380.0L372.7 380.0Z" stroke="#7f7f7f" stroke-width="1.7" fill="none"/><path d="M389.9 362.9L395.7 373.4L384.1 373.4Z" stroke="#7f7f7f" stroke-width="1.7" fill="none"/><path d="M401.4 356.3L407.2 366.8L395.6 366.8Z" stroke="#7f7f7f" stroke-width="1.7" fill="none"/><path d="M412.8 349.7L418.6 360.2L407.0 360.2Z" stroke="#7f7f7f" stroke-width="1.7" fill="none"/><path d="M424.3 343.1L430.1 353.6L418.5 353.6Z" stroke="#7f7f7f" stroke-width="1.7" fill="none"/><path d="M435.7 336.5L441.5 347.0L429.9 347.0Z" stroke="#7f7f7f" stroke-width="1.7" fill="none"/><path d="M447.2 329.9L453.0 340.4L441.4 340.4Z" stroke="#7f7f7f" stroke-width="1.7" fill="none"/><path d="M458.6 323.3L464.4 333.8L452.8 333.8Z" stroke="#7f7f7f" stroke-width="1.7" fill="none"/><path d="M470.1 316.8L475.9 327.2L464.3 327.2Z" stroke="#7f7f7f" stroke-width="1.7" fill="none"/><path d="M481.5 310.2L487.3 320.6L475.7 320.6Z" stroke="#7f7f7f" stroke-width="1.7" fill="none"/><path d="M492.9 303.6L498.7 314.0L487.1 314.0Z" stroke="#7f7f7f" stroke-width="1.7" fill="none"/><path d="M504.4 297.0L510.2 307.4L498.6 307.4Z" stroke="#7f7f7f" stroke-width="1.7" fill="none"/><path d="M515.8 290.4L521.6 300.8L510.0 300.8Z" stroke="#7f7f7f" stroke-width="1.7" fill="none"/><path d="M527.3 283.8L533.1 294.2L521.5 294.2Z" stroke="#7f7f7f" stroke-width="1.7" fill="none"/><path d="M538.7 277.2L544.5 287.6L532.9 287.6Z" stroke="#7f7f7f" stroke-width="1.7" fill="none"/><path d="M550.2 270.6L556.0 281.0L544.4 281.0Z" stroke="#7f7f7f" stroke-width="1.7" fill="none"/><path d="M561.6 264.0L567.4 274.4L555.8 274.4Z" stroke="#7f7f7f" stroke-width="1.7" fill="none"/><path d="M573.1 257.4L578.9 267.8L567.3 267.8Z" stroke="#7f7f7f" stroke-width="1.7" fill="none"/><path d="M584.5 250.3L590.3 260.8L578.7 260.8Z" stroke="#7f7f7f" stroke-width="1.7" fill="none"/><path d="M595.9 242.6L601.7 253.1L590.1 253.1Z" stroke="#7f7f7f" stroke-width="1.7" fill="none"/><path d="M607.4 234.9L613.2 245.4L601.6 245.4Z" stroke="#7f7f7f" stroke-width="1.7" fill="none"/><path d="M618.8 227.2L624.6 237.7L613.0 237.7Z" stroke="#7f7f7f" stroke-width="1.7" fill="none"/><path d="M630.3 219.5L636.1 230.0L624.5 230.0Z" stroke="#7f7f7f" stroke-width="1.7" fill="none"/><path d="M641.7 211.8L647.5 222.3L635.9 222.3Z" stroke="#7f7f7f" stroke-width="1.7" fill="none"/><path d="M653.2 204.1L659.0 214.6L647.4 214.6Z" stroke="#7f7f7f" stroke-width="1.7" fill="none"/><path d="M664.6 196.4L670.4 206.9L658.8 206.9Z" stroke="#7f7f7f" stroke-width="1.7" fill="none"/><path d="M676.1 188.7L681.9 199.2L670.3 199.2Z" stroke="#7f7f7f" stroke-width="1.7" fill="none"/><path d="M687.5 181.0L693.3 191.5L681.7 191.5Z" stroke="#7f7f7f" stroke-width="1.7" fill="none"/><path d="M698.9 173.3L704.7 183.8L693.1 183.8Z" stroke="#7f7f7f" stroke-width="1.7" fill="none"/><path d="M710.4 167.2L716.2 177.6L704.6 177.6Z" stroke="#7f7f7f" stroke-width="1.7" fill="none"/><path d="M721.8 163.5L727.6 174.0L716.0 174.0Z" stroke="#7f7f7f" stroke-width="1.7" fill="none"/><path d="M733.3 159.8L739.1 170.3L727.5 170.3Z" stroke="#7f7f7f" stroke-width="1.7" fill="none"/><path d="M744.7 156.2L750.5 166.6L738.9 166.6Z" stroke="#7f7f7f" stroke-width="1.7" fill="none"/><path d="M756.2 152.5L762.0 162.9L750.4 162.9Z" stroke="#7f7f7f" stroke-width="1.7" fill="none"/><path d="M767.6 148.8L773.4 159.3L761.8 159.3Z" stroke="#7f7f7f" stroke-width="1.7" fill="none"/><path d="M779.1 145.1L784.9 155.6L773.3 155.6Z" stroke="#7f7f7f" stroke-width="1.7" fill="none"/><path d="M790.5 141.5L796.3 151.9L784.7 151.9Z" stroke="#7f7f7f" stroke-width="1.7" fill="none"/><path d="M801.9 138.7L807.7 149.1L796.1 149.1Z" stroke="#7f7f7f" stroke-width="1.7" fill="none"/><path d="M813.4 138.4L819.2 148.9L807.6 148.9Z" stroke="#7f7f7f" stroke-width="1.7" fill="none"/><path d="M824.8 138.2L830.6 148.6L819.0 148.6Z" stroke="#7f7f7f" stroke-width="1.7" fill="none"/><path d="M836.3 137.9L842.1 148.4L830.5 148.4Z" stroke="#7f7f7f" stroke-width="1.7" fill="none"/><path d="M847.7 137.7L853.5 148.1L841.9 148.1Z" stroke="#7f7f7f" stroke-width="1.7" fill="none"/><path d="M859.2 137.4L865.0 147.9L853.4 147.9Z" stroke="#7f7f7f" stroke-width="1.7" fill="none"/><path d="M870.6 138.3L876.4 148.7L864.8 148.7Z" stroke="#7f7f7f" stroke-width="1.7" fill="none"/><path d="M882.1 148.0L887.9 158.5L876.3 158.5Z" stroke="#7f7f7f" stroke-width="1.7" fill="none"/><path d="M893.5 157.8L899.3 168.2L887.7 168.2Z" stroke="#7f7f7f" stroke-width="1.7" fill="none"/><path d="M904.9 188.1L910.7 198.6L899.1 198.6Z" stroke="#7f7f7f" stroke-width="1.7" fill="none"/><path d="M916.4 227.1L922.2 237.5L910.6 237.5Z" stroke="#7f7f7f" stroke-width="1.7" fill="none"/><path d="M927.8 259.5L933.6 269.9L922.0 269.9Z" stroke="#7f7f7f" stroke-width="1.7" fill="none"/><path d="M939.3 287.9L945.1 298.4L933.5 298.4Z" stroke="#7f7f7f" stroke-width="1.7" fill="none"/><path d="M950.7 306.7L956.5 317.1L944.9 317.1Z" stroke="#7f7f7f" stroke-width="1.7" fill="none"/><path d="M962.2 339.1L968.0 349.6L956.4 349.6Z" stroke="#7f7f7f" stroke-width="1.7" fill="none"/><path d="M973.6 321.2L979.4 331.6L967.8 331.6Z" stroke="#7f7f7f" stroke-width="1.7" fill="none"/><path d="M985.1 333.0L990.9 343.5L979.3 343.5Z" stroke="#7f7f7f" stroke-width="1.7" fill="none"/><path d="M996.5 337.2L1002.3 347.6L990.7 347.6Z" stroke="#7f7f7f" stroke-width="1.7" fill="none"/><path d="M1007.9 340.7L1013.7 351.1L1002.1 351.1Z" stroke="#7f7f7f" stroke-width="1.7" fill="none"/><path d="M1019.4 346.5L1025.2 356.9L1013.6 356.9Z" stroke="#7f7f7f" stroke-width="1.7" fill="none"/>
<path d="M257.2 457.2L268.8 449.8L280.3 442.5L291.8 435.1L303.4 427.8L314.9 420.4L326.5 413.1L338.0 405.7L349.6 398.4L361.1 391.0L372.6 383.7L384.2 376.3L395.7 368.9L407.3 361.6L418.8 354.2L430.3 346.9L441.9 339.5L453.4 332.2L465.0 324.8L476.5 317.0L488.1 309.1L499.6 301.3L511.1 293.5L522.7 285.6L534.2 277.8L545.8 270.0L557.3 262.1L568.8 254.3L580.4 246.4L591.9 238.6L603.5 230.8L615.0 222.9L626.6 215.1L638.1 207.3L649.6 199.4L661.2 191.6L672.7 183.8L684.3 175.9L695.8 168.1L707.3 160.3L718.9 153.4L730.4 147.1L742.0 140.8L753.5 134.5L765.1 128.3L776.6 122.0L788.1 115.7L799.7 109.3L811.2 102.8L822.8 96.3L834.3 89.8L845.8 83.3L857.4 76.8L868.9 72.2L880.5 67.6L892.0 63.0L903.6 61.5L915.1 60.1L926.6 65.8L938.2 71.8L949.7 136.5L961.3 146.1L972.8 146.1L984.3 146.1L995.9 146.1L1007.4 146.1" fill="none" stroke="#7f7f7f" stroke-width="1.3"/>
<path d="M257.2 451.6L262.8 457.2L257.2 462.8L251.6 457.2Z" stroke="#7f7f7f" stroke-width="1.7" fill="none"/><path d="M268.8 444.2L274.4 449.8L268.8 455.4L263.2 449.8Z" stroke="#7f7f7f" stroke-width="1.7" fill="none"/><path d="M280.3 436.9L285.9 442.5L280.3 448.1L274.7 442.5Z" stroke="#7f7f7f" stroke-width="1.7" fill="none"/><path d="M291.8 429.5L297.4 435.1L291.8 440.7L286.2 435.1Z" stroke="#7f7f7f" stroke-width="1.7" fill="none"/><path d="M303.4 422.2L309.0 427.8L303.4 433.4L297.8 427.8Z" stroke="#7f7f7f" stroke-width="1.7" fill="none"/><path d="M314.9 414.8L320.5 420.4L314.9 426.0L309.3 420.4Z" stroke="#7f7f7f" stroke-width="1.7" fill="none"/><path d="M326.5 407.5L332.1 413.1L326.5 418.7L320.9 413.1Z" stroke="#7f7f7f" stroke-width="1.7" fill="none"/><path d="M338.0 400.1L343.6 405.7L338.0 411.3L332.4 405.7Z" stroke="#7f7f7f" stroke-width="1.7" fill="none"/><path d="M349.6 392.8L355.2 398.4L349.6 404.0L344.0 398.4Z" stroke="#7f7f7f" stroke-width="1.7" fill="none"/><path d="M361.1 385.4L366.7 391.0L361.1 396.6L355.5 391.0Z" stroke="#7f7f7f" stroke-width="1.7" fill="none"/><path d="M372.6 378.1L378.2 383.7L372.6 389.3L367.0 383.7Z" stroke="#7f7f7f" stroke-width="1.7" fill="none"/><path d="M384.2 370.7L389.8 376.3L384.2 381.9L378.6 376.3Z" stroke="#7f7f7f" stroke-width="1.7" fill="none"/><path d="M395.7 363.3L401.3 368.9L395.7 374.5L390.1 368.9Z" stroke="#7f7f7f" stroke-width="1.7" fill="none"/><path d="M407.3 356.0L412.9 361.6L407.3 367.2L401.7 361.6Z" stroke="#7f7f7f" stroke-width="1.7" fill="none"/><path d="M418.8 348.6L424.4 354.2L418.8 359.8L413.2 354.2Z" stroke="#7f7f7f" stroke-width="1.7" fill="none"/><path d="M430.3 341.3L435.9 346.9L430.3 352.5L424.7 346.9Z" stroke="#7f7f7f" stroke-width="1.7" fill="none"/><path d="M441.9 333.9L447.5 339.5L441.9 345.1L436.3 339.5Z" stroke="#7f7f7f" stroke-width="1.7" fill="none"/><path d="M453.4 326.6L459.0 332.2L453.4 337.8L447.8 332.2Z" stroke="#7f7f7f" stroke-width="1.7" fill="none"/><path d="M465.0 319.2L470.6 324.8L465.0 330.4L459.4 324.8Z" stroke="#7f7f7f" stroke-width="1.7" fill="none"/><path d="M476.5 311.4L482.1 317.0L476.5 322.6L470.9 317.0Z" stroke="#7f7f7f" stroke-width="1.7" fill="none"/><path d="M488.1 303.5L493.7 309.1L488.1 314.7L482.5 309.1Z" stroke="#7f7f7f" stroke-width="1.7" fill="none"/><path d="M499.6 295.7L505.2 301.3L499.6 306.9L494.0 301.3Z" stroke="#7f7f7f" stroke-width="1.7" fill="none"/><path d="M511.1 287.9L516.7 293.5L511.1 299.1L505.5 293.5Z" stroke="#7f7f7f" stroke-width="1.7" fill="none"/><path d="M522.7 280.0L528.3 285.6L522.7 291.2L517.1 285.6Z" stroke="#7f7f7f" stroke-width="1.7" fill="none"/><path d="M534.2 272.2L539.8 277.8L534.2 283.4L528.6 277.8Z" stroke="#7f7f7f" stroke-width="1.7" fill="none"/><path d="M545.8 264.4L551.4 270.0L545.8 275.6L540.2 270.0Z" stroke="#7f7f7f" stroke-width="1.7" fill="none"/><path d="M557.3 256.5L562.9 262.1L557.3 267.7L551.7 262.1Z" stroke="#7f7f7f" stroke-width="1.7" fill="none"/><path d="M568.8 248.7L574.4 254.3L568.8 259.9L563.2 254.3Z" stroke="#7f7f7f" stroke-width="1.7" fill="none"/><path d="M580.4 240.8L586.0 246.4L580.4 252.0L574.8 246.4Z" stroke="#7f7f7f" stroke-width="1.7" fill="none"/><path d="M591.9 233.0L597.5 238.6L591.9 244.2L586.3 238.6Z" stroke="#7f7f7f" stroke-width="1.7" fill="none"/><path d="M603.5 225.2L609.1 230.8L603.5 236.4L597.9 230.8Z" stroke="#7f7f7f" stroke-width="1.7" fill="none"/><path d="M615.0 217.3L620.6 222.9L615.0 228.5L609.4 222.9Z" stroke="#7f7f7f" stroke-width="1.7" fill="none"/><path d="M626.6 209.5L632.2 215.1L626.6 220.7L621.0 215.1Z" stroke="#7f7f7f" stroke-width="1.7" fill="none"/><path d="M638.1 201.7L643.7 207.3L638.1 212.9L632.5 207.3Z" stroke="#7f7f7f" stroke-width="1.7" fill="none"/><path d="M649.6 193.8L655.2 199.4L649.6 205.0L644.0 199.4Z" stroke="#7f7f7f" stroke-width="1.7" fill="none"/><path d="M661.2 186.0L666.8 191.6L661.2 197.2L655.6 191.6Z" stroke="#7f7f7f" stroke-width="1.7" fill="none"/><path d="M672.7 178.2L678.3 183.8L672.7 189.4L667.1 183.8Z" stroke="#7f7f7f" stroke-width="1.7" fill="none"/><path d="M684.3 170.3L689.9 175.9L684.3 181.5L678.7 175.9Z" stroke="#7f7f7f" stroke-width="1.7" fill="none"/><path d="M695.8 162.5L701.4 168.1L695.8 173.7L690.2 168.1Z" stroke="#7f7f7f" stroke-width="1.7" fill="none"/><path d="M707.3 154.7L712.9 160.3L707.3 165.9L701.7 160.3Z" stroke="#7f7f7f" stroke-width="1.7" fill="none"/><path d="M718.9 147.8L724.5 153.4L718.9 159.0L713.3 153.4Z" stroke="#7f7f7f" stroke-width="1.7" fill="none"/><path d="M730.4 141.5L736.0 147.1L730.4 152.7L724.8 147.1Z" stroke="#7f7f7f" stroke-width="1.7" fill="none"/><path d="M742.0 135.2L747.6 140.8L742.0 146.4L736.4 140.8Z" stroke="#7f7f7f" stroke-width="1.7" fill="none"/><path d="M753.5 128.9L759.1 134.5L753.5 140.1L747.9 134.5Z" stroke="#7f7f7f" stroke-width="1.7" fill="none"/><path d="M765.1 122.7L770.7 128.3L765.1 133.9L759.5 128.3Z" stroke="#7f7f7f" stroke-width="1.7" fill="none"/><path d="M776.6 116.4L782.2 122.0L776.6 127.6L771.0 122.0Z" stroke="#7f7f7f" stroke-width="1.7" fill="none"/><path d="M788.1 110.1L793.7 115.7L788.1 121.3L782.5 115.7Z" stroke="#7f7f7f" stroke-width="1.7" fill="none"/><path d="M799.7 103.7L805.3 109.3L799.7 114.9L794.1 109.3Z" stroke="#7f7f7f" stroke-width="1.7" fill="none"/><path d="M811.2 97.2L816.8 102.8L811.2 108.4L805.6 102.8Z" stroke="#7f7f7f" stroke-width="1.7" fill="none"/><path d="M822.8 90.7L828.4 96.3L822.8 101.9L817.2 96.3Z" stroke="#7f7f7f" stroke-width="1.7" fill="none"/><path d="M834.3 84.2L839.9 89.8L834.3 95.4L828.7 89.8Z" stroke="#7f7f7f" stroke-width="1.7" fill="none"/><path d="M845.8 77.7L851.4 83.3L845.8 88.9L840.2 83.3Z" stroke="#7f7f7f" stroke-width="1.7" fill="none"/><path d="M857.4 71.2L863.0 76.8L857.4 82.4L851.8 76.8Z" stroke="#7f7f7f" stroke-width="1.7" fill="none"/><path d="M868.9 66.6L874.5 72.2L868.9 77.8L863.3 72.2Z" stroke="#7f7f7f" stroke-width="1.7" fill="none"/><path d="M880.5 62.0L886.1 67.6L880.5 73.2L874.9 67.6Z" stroke="#7f7f7f" stroke-width="1.7" fill="none"/><path d="M892.0 57.4L897.6 63.0L892.0 68.6L886.4 63.0Z" stroke="#7f7f7f" stroke-width="1.7" fill="none"/><path d="M903.6 55.9L909.2 61.5L903.6 67.1L898.0 61.5Z" stroke="#7f7f7f" stroke-width="1.7" fill="none"/><path d="M915.1 54.5L920.7 60.1L915.1 65.7L909.5 60.1Z" stroke="#7f7f7f" stroke-width="1.7" fill="none"/><path d="M926.6 60.2L932.2 65.8L926.6 71.4L921.0 65.8Z" stroke="#7f7f7f" stroke-width="1.7" fill="none"/><path d="M938.2 66.2L943.8 71.8L938.2 77.4L932.6 71.8Z" stroke="#7f7f7f" stroke-width="1.7" fill="none"/><path d="M949.7 130.9L955.3 136.5L949.7 142.1L944.1 136.5Z" stroke="#7f7f7f" stroke-width="1.7" fill="none"/><path d="M961.3 140.5L966.9 146.1L961.3 151.7L955.7 146.1Z" stroke="#7f7f7f" stroke-width="1.7" fill="none"/><path d="M972.8 140.5L978.4 146.1L972.8 151.7L967.2 146.1Z" stroke="#7f7f7f" stroke-width="1.7" fill="none"/><path d="M984.3 140.5L989.9 146.1L984.3 151.7L978.7 146.1Z" stroke="#7f7f7f" stroke-width="1.7" fill="none"/><path d="M995.9 140.5L1001.5 146.1L995.9 151.7L990.3 146.1Z" stroke="#7f7f7f" stroke-width="1.7" fill="none"/><path d="M1007.4 140.5L1013.0 146.1L1007.4 151.7L1001.8 146.1Z" stroke="#7f7f7f" stroke-width="1.7" fill="none"/>
<path d="M245.7 468.5C246.5 468.4 248.8 468.1 250.3 467.9C251.9 467.7 253.4 467.6 254.9 467.4C256.5 467.2 258.0 467.3 259.6 466.8C261.1 466.3 262.6 465.3 264.2 464.3C265.7 463.3 267.2 462.0 268.8 461.0C270.3 460.0 271.9 459.1 273.4 458.2C274.9 457.3 276.5 456.6 278.0 455.9C279.5 455.1 281.1 454.3 282.6 453.5C284.2 452.7 285.7 452.0 287.2 451.2C288.8 450.4 290.3 449.6 291.8 448.8C293.4 448.1 294.9 447.3 296.5 446.5C298.0 445.7 299.5 444.9 301.1 444.2C302.6 443.4 304.1 442.6 305.7 441.9C307.2 441.1 308.8 440.3 310.3 439.6C311.8 438.8 313.4 438.1 314.9 437.3C316.4 436.5 318.0 435.8 319.5 435.0C321.1 434.3 322.6 433.5 324.1 432.7C325.7 432.0 327.2 431.2 328.7 430.5C330.3 429.7 331.8 428.9 333.4 428.2C334.9 427.4 336.4 426.7 338.0 425.9C339.5 425.1 341.0 424.2 342.6 423.3C344.1 422.5 345.7 421.6 347.2 420.7C348.7 419.9 350.3 419.0 351.8 418.2C353.4 417.3 354.9 416.4 356.4 415.6C358.0 414.7 359.5 413.9 361.0 413.0C362.6 412.1 364.1 411.3 365.7 410.4C367.2 409.5 368.7 408.7 370.3 407.8C371.8 407.0 373.3 406.1 374.9 405.2C376.4 404.4 378.0 403.5 379.5 402.6C381.0 401.8 382.6 400.9 384.1 400.1C385.6 399.2 387.2 398.3 388.7 397.5C390.3 396.6 391.8 395.8 393.3 394.9C394.9 394.0 396.4 393.2 397.9 392.3C399.5 391.4 401.0 390.6 402.6 389.7C404.1 388.9 405.6 388.0 407.2 387.2C408.7 386.3 410.2 385.5 411.8 384.6C413.3 383.7 414.9 382.9 416.4 382.0C417.9 381.2 419.5 380.3 421.0 379.5C422.5 378.6 424.1 377.7 425.6 376.9C427.2 376.0 428.7 375.2 430.2 374.3C431.8 373.5 433.3 372.6 434.9 371.8C436.4 370.9 437.9 370.0 439.5 369.2C441.0 368.3 442.5 367.5 444.1 366.6C445.6 365.8 447.2 364.9 448.7 364.0C450.2 363.2 451.8 362.3 453.3 361.5C454.8 360.6 456.4 359.8 457.9 358.9C459.5 358.1 461.0 357.2 462.5 356.3C464.1 355.5 465.6 354.7 467.1 353.9C468.7 353.1 470.2 352.3 471.8 351.5C473.3 350.7 474.8 349.9 476.4 349.1C477.9 348.3 479.4 347.6 481.0 346.8C482.5 346.0 484.1 345.2 485.6 344.4C487.1 343.6 488.7 342.8 490.2 342.0C491.7 341.2 493.3 340.5 494.8 339.7C496.4 338.9 497.9 338.1 499.4 337.3C501.0 336.5 502.5 335.7 504.0 334.9C505.6 334.1 507.1 333.4 508.7 332.6C510.2 331.8 511.7 331.0 513.3 330.2C514.8 329.4 516.3 328.6 517.9 327.8C519.4 327.0 521.0 326.2 522.5 325.5C524.0 324.7 525.6 323.9 527.1 323.2C528.7 322.4 530.2 321.7 531.7 321.0C533.3 320.2 534.8 319.5 536.3 318.7C537.9 318.0 539.4 317.3 541.0 316.5C542.5 315.8 544.0 315.0 545.6 314.3C547.1 313.6 548.6 312.8 550.2 312.1C551.7 311.4 553.3 310.6 554.8 309.9C556.3 309.1 557.9 308.4 559.4 307.7C560.9 306.9 562.5 306.2 564.0 305.4C565.6 304.7 567.1 304.0 568.6 303.2C570.2 302.5 571.7 301.7 573.2 301.0C574.8 300.3 576.3 299.5 577.9 298.8C579.4 298.0 580.9 297.3 582.5 296.6C584.0 295.8 585.5 295.0 587.1 294.2C588.6 293.5 590.2 292.6 591.7 291.8C593.2 291.0 594.8 290.2 596.3 289.4C597.8 288.6 599.4 287.8 600.9 287.0C602.5 286.2 604.0 285.4 605.5 284.6C607.1 283.8 608.6 283.0 610.1 282.2C611.7 281.4 613.2 280.6 614.8 279.8C616.3 279.0 617.8 278.2 619.4 277.4C620.9 276.6 622.5 275.8 624.0 275.0C625.5 274.2 627.1 273.4 628.6 272.5C630.1 271.7 631.7 270.9 633.2 270.1C634.8 269.3 636.3 268.5 637.8 267.7C639.4 266.9 640.9 266.1 642.4 265.3C644.0 264.5 645.5 263.8 647.1 263.1C648.6 262.3 650.1 261.6 651.7 260.8C653.2 260.1 654.7 259.4 656.3 258.6C657.8 257.9 659.4 257.2 660.9 256.4C662.4 255.7 664.0 255.0 665.5 254.2C667.0 253.5 668.6 252.8 670.1 252.0C671.7 251.3 673.2 250.6 674.7 249.8C676.3 249.1 677.8 248.4 679.3 247.6C680.9 246.9 682.4 246.2 684.0 245.4C685.5 244.7 687.0 244.0 688.6 243.2C690.1 242.5 691.6 241.8 693.2 241.0C694.7 240.3 696.3 239.6 697.8 238.8C699.3 238.1 700.9 237.3 702.4 236.6C703.9 235.9 705.5 235.2 707.0 234.5C708.6 233.8 710.1 233.1 711.6 232.5C713.2 231.8 714.7 231.1 716.3 230.4C717.8 229.8 719.3 229.1 720.9 228.4C722.4 227.7 723.9 227.1 725.5 226.4C727.0 225.7 728.6 225.0 730.1 224.3C731.6 223.7 733.2 223.0 734.7 222.3C736.2 221.6 737.8 221.0 739.3 220.3C740.9 219.6 742.4 218.9 743.9 218.3C745.5 217.6 747.0 216.9 748.5 216.2C750.1 215.5 751.6 214.8 753.2 214.2C754.7 213.5 756.2 212.9 757.8 212.3C759.3 211.7 760.8 211.1 762.4 210.5C763.9 209.9 765.5 209.3 767.0 208.7C768.5 208.1 770.1 207.5 771.6 206.9C773.1 206.3 774.7 205.7 776.2 205.1C777.8 204.5 779.3 203.9 780.8 203.3C782.4 202.7 783.9 202.0 785.4 201.4C787.0 200.8 788.5 200.2 790.1 199.6C791.6 199.0 793.1 198.4 794.7 197.8C796.2 197.2 797.8 196.5 799.3 196.0C800.8 195.5 802.4 195.2 803.9 194.8C805.4 194.5 807.0 194.1 808.5 193.8C810.1 193.4 811.6 193.1 813.1 192.7C814.7 192.4 816.2 192.0 817.7 191.7C819.3 191.3 820.8 190.9 822.4 190.6C823.9 190.2 825.4 189.9 827.0 189.5C828.5 189.2 830.0 188.8 831.6 188.5C833.1 188.2 834.7 187.9 836.2 187.7C837.7 187.4 839.3 187.2 840.8 187.0C842.3 186.8 843.9 186.5 845.4 186.3C847.0 186.1 848.5 185.8 850.0 185.6C851.6 185.4 853.1 185.1 854.6 184.9C856.2 184.7 857.7 184.4 859.3 184.2C860.8 184.0 862.3 183.7 863.9 183.5C865.4 183.3 866.9 183.2 868.5 183.1C870.0 183.0 871.6 183.0 873.1 183.0C874.6 182.9 876.2 182.8 877.7 182.8C879.2 182.7 880.8 182.7 882.3 182.6C883.9 182.6 885.4 182.5 886.9 182.5C888.5 182.4 890.0 182.4 891.6 182.3C893.1 182.3 894.6 182.2 896.2 182.1C897.7 182.1 899.2 181.7 900.8 182.0C902.3 182.2 903.9 183.0 905.4 183.6C906.9 184.2 908.5 184.9 910.0 185.5C911.5 186.2 913.1 186.8 914.6 187.5C916.2 188.1 917.7 188.7 919.2 189.4C920.8 190.0 922.3 190.7 923.8 191.3C925.4 192.0 926.9 192.6 928.5 193.3C930.0 194.0 931.5 194.7 933.1 195.4C934.6 196.1 936.1 196.8 937.7 197.6C939.2 198.3 940.8 199.0 942.3 199.7C943.8 200.4 945.4 201.2 946.9 201.9C948.4 202.6 950.0 203.4 951.5 204.0C953.1 204.7 954.6 205.3 956.1 205.8C957.7 206.3 959.2 206.6 960.7 207.0C962.3 207.4 963.8 207.8 965.4 208.2C966.9 208.6 968.4 209.1 970.0 209.5C971.5 209.9 973.0 210.3 974.6 210.7C976.1 211.1 977.7 211.3 979.2 211.7C980.7 212.0 982.3 212.3 983.8 212.6C985.4 212.9 986.9 213.2 988.4 213.5C990.0 213.8 991.5 213.7 993.0 214.4C994.6 215.1 996.1 216.5 997.7 217.8C999.2 219.0 1000.7 220.4 1002.3 221.8C1003.8 223.2 1005.3 224.6 1006.9 226.3C1008.4 228.0 1010.0 230.2 1011.5 231.9C1013.0 233.6 1014.6 235.2 1016.1 236.5C1017.6 237.8 1019.2 239.5 1020.7 239.7C1022.3 239.9 1023.8 238.8 1025.3 237.8C1026.9 236.8 1028.4 235.8 1029.9 234.0C1031.5 232.1 1033.0 230.0 1034.6 226.6C1036.1 223.3 1037.6 218.2 1039.2 214.0C1040.7 209.8 1043.0 203.5 1043.8 201.4" fill="none" stroke="#000" stroke-width="5" stroke-linejoin="round" stroke-linecap="round"/>
</g>
<g clip-path="url(#clipB)">
<path d="M272.6 959.8C280.2 963.8 303.1 978.0 318.3 983.7C333.6 989.4 348.8 982.7 364.1 993.9C379.4 1005.1 394.6 1039.5 409.9 1050.9C425.1 1062.3 440.4 1056.6 455.6 1062.3C470.9 1068.0 486.1 1078.4 501.4 1085.1C516.6 1091.7 531.9 1097.4 547.2 1102.1C562.4 1106.9 577.7 1112.6 592.9 1113.5C608.2 1114.5 623.4 1106.9 638.7 1107.8C653.9 1108.8 669.2 1112.6 684.5 1119.2C699.7 1125.9 715.0 1139.1 730.2 1147.7C745.5 1156.2 760.7 1163.8 776.0 1170.5C791.2 1177.1 806.5 1181.9 821.7 1187.5C837.0 1193.2 852.3 1198.9 867.5 1204.6C882.8 1210.3 898.0 1222.7 913.3 1221.7C928.5 1220.8 943.8 1181.8 959.0 1198.9C974.3 1216.0 997.2 1303.3 1004.8 1324.2" fill="none" stroke="#7f7f7f" stroke-width="1.8"/>
<rect x="266.3" y="957.8" width="12.6" height="4" fill="#7f7f7f"/><rect x="312.0" y="981.7" width="12.6" height="4" fill="#7f7f7f"/><rect x="357.8" y="991.9" width="12.6" height="4" fill="#7f7f7f"/><rect x="403.6" y="1048.9" width="12.6" height="4" fill="#7f7f7f"/><rect x="449.3" y="1060.3" width="12.6" height="4" fill="#7f7f7f"/><rect x="495.1" y="1083.1" width="12.6" height="4" fill="#7f7f7f"/><rect x="540.9" y="1100.1" width="12.6" height="4" fill="#7f7f7f"/><rect x="586.6" y="1111.5" width="12.6" height="4" fill="#7f7f7f"/><rect x="632.4" y="1105.8" width="12.6" height="4" fill="#7f7f7f"/><rect x="678.2" y="1117.2" width="12.6" height="4" fill="#7f7f7f"/><rect x="723.9" y="1145.7" width="12.6" height="4" fill="#7f7f7f"/><rect x="769.7" y="1168.5" width="12.6" height="4" fill="#7f7f7f"/><rect x="815.4" y="1185.5" width="12.6" height="4" fill="#7f7f7f"/><rect x="861.2" y="1202.6" width="12.6" height="4" fill="#7f7f7f"/><rect x="907.0" y="1219.7" width="12.6" height="4" fill="#7f7f7f"/><rect x="952.7" y="1196.9" width="12.6" height="4" fill="#7f7f7f"/><rect x="998.5" y="1322.2" width="12.6" height="4" fill="#7f7f7f"/>
<path d="M272.6 965.5C280.2 973.1 303.1 996.8 318.3 1011.0C333.6 1025.3 348.8 1042.3 364.1 1050.9C379.4 1059.4 394.6 1058.5 409.9 1062.3C425.1 1066.1 440.4 1069.5 455.6 1073.7C470.9 1077.8 486.1 1083.5 501.4 1087.3C516.6 1091.1 531.9 1094.0 547.2 1096.4C562.4 1098.9 577.7 1103.5 592.9 1102.1C608.2 1100.8 623.4 1088.3 638.7 1088.5C653.9 1088.7 669.2 1094.9 684.5 1103.3C699.7 1111.6 715.0 1128.7 730.2 1138.6C745.5 1148.4 760.7 1154.3 776.0 1162.5C791.2 1170.7 806.5 1181.5 821.7 1187.5C837.0 1193.6 852.3 1195.1 867.5 1198.9C882.8 1202.7 898.0 1212.6 913.3 1210.3C928.5 1208.0 943.8 1166.3 959.0 1185.3C974.3 1204.2 997.2 1301.0 1004.8 1324.2" fill="none" stroke="#7f7f7f" stroke-width="1.8"/>
<rect x="271.0" y="963.8" width="7.2" height="3.4" fill="#7f7f7f"/><rect x="316.7" y="1009.3" width="7.2" height="3.4" fill="#7f7f7f"/><rect x="362.5" y="1049.2" width="7.2" height="3.4" fill="#7f7f7f"/><rect x="408.3" y="1060.6" width="7.2" height="3.4" fill="#7f7f7f"/><rect x="454.0" y="1072.0" width="7.2" height="3.4" fill="#7f7f7f"/><rect x="499.8" y="1085.6" width="7.2" height="3.4" fill="#7f7f7f"/><rect x="545.6" y="1094.7" width="7.2" height="3.4" fill="#7f7f7f"/><rect x="591.3" y="1100.4" width="7.2" height="3.4" fill="#7f7f7f"/><rect x="637.1" y="1086.8" width="7.2" height="3.4" fill="#7f7f7f"/><rect x="682.9" y="1101.6" width="7.2" height="3.4" fill="#7f7f7f"/><rect x="728.6" y="1136.9" width="7.2" height="3.4" fill="#7f7f7f"/><rect x="774.4" y="1160.8" width="7.2" height="3.4" fill="#7f7f7f"/><rect x="820.1" y="1185.8" width="7.2" height="3.4" fill="#7f7f7f"/><rect x="865.9" y="1197.2" width="7.2" height="3.4" fill="#7f7f7f"/><rect x="911.7" y="1208.6" width="7.2" height="3.4" fill="#7f7f7f"/><rect x="957.4" y="1183.6" width="7.2" height="3.4" fill="#7f7f7f"/><rect x="1003.2" y="1322.5" width="7.2" height="3.4" fill="#7f7f7f"/>
<path d="M272.6 996.2C280.2 1002.5 303.1 1023.7 318.3 1033.8C333.6 1043.9 348.8 1048.0 364.1 1056.6C379.4 1065.1 394.6 1079.4 409.9 1085.1C425.1 1090.7 440.4 1083.3 455.6 1090.7C470.9 1098.1 486.1 1120.5 501.4 1129.5C516.6 1138.4 531.9 1138.4 547.2 1144.3C562.4 1150.2 577.7 1163.9 592.9 1164.8C608.2 1165.6 623.4 1157.9 638.7 1149.4C653.9 1140.9 669.2 1113.8 684.5 1113.5C699.7 1113.2 715.0 1138.2 730.2 1147.7C745.5 1157.2 760.7 1169.3 776.0 1170.5C791.2 1171.6 806.5 1157.6 821.7 1154.5C837.0 1151.5 852.3 1149.1 867.5 1152.2C882.8 1155.4 898.0 1163.6 913.3 1173.3C928.5 1183.0 943.8 1185.2 959.0 1210.3C974.3 1235.5 997.2 1305.2 1004.8 1324.2" fill="none" stroke="#7f7f7f" stroke-width="1.8"/>
<rect x="266.6" y="990.2" width="12.0" height="12.0" fill="#7f7f7f"/><rect x="312.3" y="1027.8" width="12.0" height="12.0" fill="#7f7f7f"/><rect x="358.1" y="1050.6" width="12.0" height="12.0" fill="#7f7f7f"/><rect x="403.9" y="1079.1" width="12.0" height="12.0" fill="#7f7f7f"/><rect x="449.6" y="1084.7" width="12.0" height="12.0" fill="#7f7f7f"/><rect x="495.4" y="1123.5" width="12.0" height="12.0" fill="#7f7f7f"/><rect x="541.2" y="1138.3" width="12.0" height="12.0" fill="#7f7f7f"/><rect x="586.9" y="1158.8" width="12.0" height="12.0" fill="#7f7f7f"/><rect x="632.7" y="1143.4" width="12.0" height="12.0" fill="#7f7f7f"/><rect x="678.5" y="1107.5" width="12.0" height="12.0" fill="#7f7f7f"/><rect x="724.2" y="1141.7" width="12.0" height="12.0" fill="#7f7f7f"/><rect x="770.0" y="1164.5" width="12.0" height="12.0" fill="#7f7f7f"/><rect x="815.7" y="1148.5" width="12.0" height="12.0" fill="#7f7f7f"/><rect x="861.5" y="1146.2" width="12.0" height="12.0" fill="#7f7f7f"/><rect x="907.3" y="1167.3" width="12.0" height="12.0" fill="#7f7f7f"/><rect x="953.0" y="1204.3" width="12.0" height="12.0" fill="#7f7f7f"/><rect x="998.8" y="1318.2" width="12.0" height="12.0" fill="#7f7f7f"/>
<path d="M272.6 971.2C280.2 978.8 303.1 1001.5 318.3 1016.7C333.6 1031.9 348.8 1052.8 364.1 1062.3C379.4 1071.8 394.6 1069.9 409.9 1073.7C425.1 1077.5 440.4 1085.6 455.6 1085.1C470.9 1084.5 486.1 1067.4 501.4 1070.2C516.6 1073.1 531.9 1094.0 547.2 1102.1C562.4 1110.3 577.7 1115.2 592.9 1119.2C608.2 1123.2 623.4 1125.1 638.7 1126.0C653.9 1127.0 669.2 1122.3 684.5 1124.9C699.7 1127.6 715.0 1140.9 730.2 1142.0C745.5 1143.1 760.7 1126.0 776.0 1131.7C791.2 1137.4 806.5 1169.2 821.7 1176.2C837.0 1183.1 852.3 1169.5 867.5 1173.3C882.8 1177.1 898.0 1192.8 913.3 1198.9C928.5 1205.1 943.8 1189.4 959.0 1210.3C974.3 1231.2 997.2 1305.2 1004.8 1324.2" fill="none" stroke="#7f7f7f" stroke-width="1.8"/>
<path d="M272.6 964.6L279.2 976.1L266.0 976.1Z" fill="#7f7f7f"/><path d="M318.3 1010.1L324.9 1021.7L311.7 1021.7Z" fill="#7f7f7f"/><path d="M364.1 1055.7L370.7 1067.2L357.5 1067.2Z" fill="#7f7f7f"/><path d="M409.9 1067.1L416.5 1078.6L403.3 1078.6Z" fill="#7f7f7f"/><path d="M455.6 1078.5L462.2 1090.0L449.0 1090.0Z" fill="#7f7f7f"/><path d="M501.4 1063.6L508.0 1075.2L494.8 1075.2Z" fill="#7f7f7f"/><path d="M547.2 1095.5L553.8 1107.1L540.6 1107.1Z" fill="#7f7f7f"/><path d="M592.9 1112.6L599.5 1124.2L586.3 1124.2Z" fill="#7f7f7f"/><path d="M638.7 1119.4L645.3 1131.0L632.1 1131.0Z" fill="#7f7f7f"/><path d="M684.5 1118.3L691.1 1129.9L677.9 1129.9Z" fill="#7f7f7f"/><path d="M730.2 1135.4L736.8 1146.9L723.6 1146.9Z" fill="#7f7f7f"/><path d="M776.0 1125.1L782.6 1136.7L769.4 1136.7Z" fill="#7f7f7f"/><path d="M821.7 1169.6L828.3 1181.1L815.1 1181.1Z" fill="#7f7f7f"/><path d="M867.5 1166.7L874.1 1178.3L860.9 1178.3Z" fill="#7f7f7f"/><path d="M913.3 1192.3L919.9 1203.9L906.7 1203.9Z" fill="#7f7f7f"/><path d="M959.0 1203.7L965.6 1215.3L952.4 1215.3Z" fill="#7f7f7f"/><path d="M1004.8 1317.6L1011.4 1329.2L998.2 1329.2Z" fill="#7f7f7f"/>
<path d="M272.6 1103.3C280.2 1052.6 303.1 808.9 318.3 799.2C333.6 789.5 348.8 1005.1 364.1 1045.2C379.4 1085.2 394.6 1042.9 409.9 1039.5C425.1 1036.1 440.4 1027.0 455.6 1024.7C470.9 1022.4 486.1 1020.0 501.4 1025.8C516.6 1031.7 531.9 1049.7 547.2 1060.0C562.4 1070.2 577.7 1078.4 592.9 1087.3C608.2 1096.3 623.4 1110.1 638.7 1113.5C653.9 1116.9 669.2 1103.1 684.5 1107.8C699.7 1112.6 715.0 1132.5 730.2 1142.0C745.5 1151.5 760.7 1162.7 776.0 1164.8C791.2 1166.9 806.5 1150.7 821.7 1154.5C837.0 1158.3 852.3 1179.2 867.5 1187.5C882.8 1195.9 898.0 1203.7 913.3 1204.6C928.5 1205.6 943.8 1173.3 959.0 1193.2C974.3 1213.2 997.2 1302.4 1004.8 1324.2" fill="none" stroke="#7f7f7f" stroke-width="1.8"/>
<circle cx="272.6" cy="1103.3" r="6.3" fill="#7f7f7f"/><circle cx="318.3" cy="799.2" r="6.3" fill="#7f7f7f"/><circle cx="364.1" cy="1045.2" r="6.3" fill="#7f7f7f"/><circle cx="409.9" cy="1039.5" r="6.3" fill="#7f7f7f"/><circle cx="455.6" cy="1024.7" r="6.3" fill="#7f7f7f"/><circle cx="501.4" cy="1025.8" r="6.3" fill="#7f7f7f"/><circle cx="547.2" cy="1060.0" r="6.3" fill="#7f7f7f"/><circle cx="592.9" cy="1087.3" r="6.3" fill="#7f7f7f"/><circle cx="638.7" cy="1113.5" r="6.3" fill="#7f7f7f"/><circle cx="684.5" cy="1107.8" r="6.3" fill="#7f7f7f"/><circle cx="730.2" cy="1142.0" r="6.3" fill="#7f7f7f"/><circle cx="776.0" cy="1164.8" r="6.3" fill="#7f7f7f"/><circle cx="821.7" cy="1154.5" r="6.3" fill="#7f7f7f"/><circle cx="867.5" cy="1187.5" r="6.3" fill="#7f7f7f"/><circle cx="913.3" cy="1204.6" r="6.3" fill="#7f7f7f"/><circle cx="959.0" cy="1193.2" r="6.3" fill="#7f7f7f"/><circle cx="1004.8" cy="1324.2" r="6.3" fill="#7f7f7f"/>
<path d="M272.6 976.9C280.2 983.5 303.1 1011.8 318.3 1016.7C333.6 1021.7 348.8 998.9 364.1 1006.5C379.4 1014.1 394.6 1051.1 409.9 1062.3C425.1 1073.5 440.4 1068.0 455.6 1073.7C470.9 1079.4 486.1 1091.7 501.4 1096.4C516.6 1101.2 531.9 1098.3 547.2 1102.1C562.4 1105.9 577.7 1118.3 592.9 1119.2C608.2 1120.2 623.4 1105.0 638.7 1107.8C653.9 1110.7 669.2 1128.7 684.5 1136.3C699.7 1143.9 715.0 1141.6 730.2 1153.4C745.5 1165.1 760.7 1200.3 776.0 1206.9C791.2 1213.5 806.5 1196.1 821.7 1193.2C837.0 1190.4 852.3 1188.9 867.5 1189.8C882.8 1190.8 898.0 1182.2 913.3 1198.9C928.5 1215.6 943.8 1269.2 959.0 1290.0C974.3 1310.9 997.2 1318.5 1004.8 1324.2" fill="none" stroke="#7f7f7f" stroke-width="1.8"/>
<path d="M266.8 971.1L278.4 982.7M278.4 971.1L266.8 982.7" stroke="#7f7f7f" stroke-width="1.5999999999999999" fill="none"/><path d="M312.5 1010.9L324.1 1022.5M324.1 1010.9L312.5 1022.5" stroke="#7f7f7f" stroke-width="1.5999999999999999" fill="none"/><path d="M358.3 1000.7L369.9 1012.3M369.9 1000.7L358.3 1012.3" stroke="#7f7f7f" stroke-width="1.5999999999999999" fill="none"/><path d="M404.1 1056.5L415.7 1068.1M415.7 1056.5L404.1 1068.1" stroke="#7f7f7f" stroke-width="1.5999999999999999" fill="none"/><path d="M449.8 1067.9L461.4 1079.5M461.4 1067.9L449.8 1079.5" stroke="#7f7f7f" stroke-width="1.5999999999999999" fill="none"/><path d="M495.6 1090.6L507.2 1102.2M507.2 1090.6L495.6 1102.2" stroke="#7f7f7f" stroke-width="1.5999999999999999" fill="none"/><path d="M541.4 1096.3L553.0 1107.9M553.0 1096.3L541.4 1107.9" stroke="#7f7f7f" stroke-width="1.5999999999999999" fill="none"/><path d="M587.1 1113.4L598.7 1125.0M598.7 1113.4L587.1 1125.0" stroke="#7f7f7f" stroke-width="1.5999999999999999" fill="none"/><path d="M632.9 1102.0L644.5 1113.6M644.5 1102.0L632.9 1113.6" stroke="#7f7f7f" stroke-width="1.5999999999999999" fill="none"/><path d="M678.7 1130.5L690.2 1142.1M690.2 1130.5L678.7 1142.1" stroke="#7f7f7f" stroke-width="1.5999999999999999" fill="none"/><path d="M724.4 1147.6L736.0 1159.2M736.0 1147.6L724.4 1159.2" stroke="#7f7f7f" stroke-width="1.5999999999999999" fill="none"/><path d="M770.2 1201.1L781.8 1212.7M781.8 1201.1L770.2 1212.7" stroke="#7f7f7f" stroke-width="1.5999999999999999" fill="none"/><path d="M815.9 1187.4L827.5 1199.0M827.5 1187.4L815.9 1199.0" stroke="#7f7f7f" stroke-width="1.5999999999999999" fill="none"/><path d="M861.7 1184.0L873.3 1195.6M873.3 1184.0L861.7 1195.6" stroke="#7f7f7f" stroke-width="1.5999999999999999" fill="none"/><path d="M907.5 1193.1L919.1 1204.7M919.1 1193.1L907.5 1204.7" stroke="#7f7f7f" stroke-width="1.5999999999999999" fill="none"/><path d="M953.2 1284.2L964.8 1295.8M964.8 1284.2L953.2 1295.8" stroke="#7f7f7f" stroke-width="1.5999999999999999" fill="none"/><path d="M999.0 1318.4L1010.6 1330.0M1010.6 1318.4L999.0 1330.0" stroke="#7f7f7f" stroke-width="1.5999999999999999" fill="none"/>
<path d="M364.1 963.2C371.7 979.7 394.6 1043.9 409.9 1062.3C425.1 1080.7 440.4 1069.9 455.6 1073.7C470.9 1077.5 486.1 1080.3 501.4 1085.1C516.6 1089.8 531.9 1096.4 547.2 1102.1C562.4 1107.8 577.7 1147.1 592.9 1119.2C608.2 1091.3 623.4 922.4 638.7 934.7C653.9 947.1 669.2 1157.7 684.5 1193.2C699.7 1228.7 715.0 1150.5 730.2 1147.7C745.5 1144.8 760.7 1169.5 776.0 1176.2C791.2 1182.8 806.5 1183.7 821.7 1187.5C837.0 1191.3 852.3 1194.4 867.5 1198.9C882.8 1203.5 898.0 1216.2 913.3 1214.9C928.5 1213.5 943.8 1172.7 959.0 1191.0C974.3 1209.2 997.2 1302.0 1004.8 1324.2" fill="none" stroke="#7f7f7f" stroke-width="1.8"/>
<path d="M358.5 963.2L369.7 963.2M364.1 957.6L364.1 968.8" stroke="#7f7f7f" stroke-width="1.5999999999999999" fill="none"/><path d="M404.3 1062.3L415.5 1062.3M409.9 1056.7L409.9 1067.9" stroke="#7f7f7f" stroke-width="1.5999999999999999" fill="none"/><path d="M450.0 1073.7L461.2 1073.7M455.6 1068.1L455.6 1079.3" stroke="#7f7f7f" stroke-width="1.5999999999999999" fill="none"/><path d="M495.8 1085.1L507.0 1085.1M501.4 1079.5L501.4 1090.7" stroke="#7f7f7f" stroke-width="1.5999999999999999" fill="none"/><path d="M541.6 1102.1L552.8 1102.1M547.2 1096.5L547.2 1107.7" stroke="#7f7f7f" stroke-width="1.5999999999999999" fill="none"/><path d="M587.3 1119.2L598.5 1119.2M592.9 1113.6L592.9 1124.8" stroke="#7f7f7f" stroke-width="1.5999999999999999" fill="none"/><path d="M633.1 934.7L644.3 934.7M638.7 929.1L638.7 940.3" stroke="#7f7f7f" stroke-width="1.5999999999999999" fill="none"/><path d="M678.9 1193.2L690.1 1193.2M684.5 1187.6L684.5 1198.8" stroke="#7f7f7f" stroke-width="1.5999999999999999" fill="none"/><path d="M724.6 1147.7L735.8 1147.7M730.2 1142.1L730.2 1153.3" stroke="#7f7f7f" stroke-width="1.5999999999999999" fill="none"/><path d="M770.4 1176.2L781.6 1176.2M776.0 1170.6L776.0 1181.8" stroke="#7f7f7f" stroke-width="1.5999999999999999" fill="none"/><path d="M816.1 1187.5L827.3 1187.5M821.7 1181.9L821.7 1193.1" stroke="#7f7f7f" stroke-width="1.5999999999999999" fill="none"/><path d="M861.9 1198.9L873.1 1198.9M867.5 1193.3L867.5 1204.5" stroke="#7f7f7f" stroke-width="1.5999999999999999" fill="none"/><path d="M907.7 1214.9L918.9 1214.9M913.3 1209.3L913.3 1220.5" stroke="#7f7f7f" stroke-width="1.5999999999999999" fill="none"/><path d="M953.4 1191.0L964.6 1191.0M959.0 1185.4L959.0 1196.6" stroke="#7f7f7f" stroke-width="1.5999999999999999" fill="none"/><path d="M999.2 1324.2L1010.4 1324.2M1004.8 1318.6L1004.8 1329.8" stroke="#7f7f7f" stroke-width="1.5999999999999999" fill="none"/>
<path d="M272.6 931.3C280.2 948.4 303.1 1012.0 318.3 1033.8C333.6 1055.6 348.8 1071.2 364.1 1062.3C379.4 1053.4 394.6 993.4 409.9 980.3C425.1 967.2 440.4 974.2 455.6 983.7C470.9 993.2 486.1 1018.4 501.4 1037.2C516.6 1056.0 531.9 1084.7 547.2 1096.4C562.4 1108.2 577.7 1104.0 592.9 1107.8C608.2 1111.6 623.4 1115.4 638.7 1119.2C653.9 1123.0 669.2 1124.9 684.5 1130.6C699.7 1136.3 715.0 1147.7 730.2 1153.4C745.5 1159.1 760.7 1161.0 776.0 1164.8C791.2 1168.6 806.5 1169.8 821.7 1176.2C837.0 1182.5 852.3 1196.5 867.5 1202.9C882.8 1209.4 898.0 1213.6 913.3 1214.9C928.5 1216.1 943.8 1192.1 959.0 1210.3C974.3 1228.5 997.2 1305.2 1004.8 1324.2" fill="none" stroke="#7f7f7f" stroke-width="1.8"/>
<path d="M266.8 925.5L278.4 937.1M278.4 925.5L266.8 937.1M272.6 925.5L272.6 937.1" stroke="#7f7f7f" stroke-width="1.5999999999999999" fill="none"/><path d="M312.5 1028.0L324.1 1039.6M324.1 1028.0L312.5 1039.6M318.3 1028.0L318.3 1039.6" stroke="#7f7f7f" stroke-width="1.5999999999999999" fill="none"/><path d="M358.3 1056.5L369.9 1068.1M369.9 1056.5L358.3 1068.1M364.1 1056.5L364.1 1068.1" stroke="#7f7f7f" stroke-width="1.5999999999999999" fill="none"/><path d="M404.1 974.5L415.7 986.1M415.7 974.5L404.1 986.1M409.9 974.5L409.9 986.1" stroke="#7f7f7f" stroke-width="1.5999999999999999" fill="none"/><path d="M449.8 977.9L461.4 989.5M461.4 977.9L449.8 989.5M455.6 977.9L455.6 989.5" stroke="#7f7f7f" stroke-width="1.5999999999999999" fill="none"/><path d="M495.6 1031.4L507.2 1043.0M507.2 1031.4L495.6 1043.0M501.4 1031.4L501.4 1043.0" stroke="#7f7f7f" stroke-width="1.5999999999999999" fill="none"/><path d="M541.4 1090.6L553.0 1102.2M553.0 1090.6L541.4 1102.2M547.2 1090.6L547.2 1102.2" stroke="#7f7f7f" stroke-width="1.5999999999999999" fill="none"/><path d="M587.1 1102.0L598.7 1113.6M598.7 1102.0L587.1 1113.6M592.9 1102.0L592.9 1113.6" stroke="#7f7f7f" stroke-width="1.5999999999999999" fill="none"/><path d="M632.9 1113.4L644.5 1125.0M644.5 1113.4L632.9 1125.0M638.7 1113.4L638.7 1125.0" stroke="#7f7f7f" stroke-width="1.5999999999999999" fill="none"/><path d="M678.7 1124.8L690.2 1136.4M690.2 1124.8L678.7 1136.4M684.5 1124.8L684.5 1136.4" stroke="#7f7f7f" stroke-width="1.5999999999999999" fill="none"/><path d="M724.4 1147.6L736.0 1159.2M736.0 1147.6L724.4 1159.2M730.2 1147.6L730.2 1159.2" stroke="#7f7f7f" stroke-width="1.5999999999999999" fill="none"/><path d="M770.2 1159.0L781.8 1170.6M781.8 1159.0L770.2 1170.6M776.0 1159.0L776.0 1170.6" stroke="#7f7f7f" stroke-width="1.5999999999999999" fill="none"/><path d="M815.9 1170.4L827.5 1182.0M827.5 1170.4L815.9 1182.0M821.7 1170.4L821.7 1182.0" stroke="#7f7f7f" stroke-width="1.5999999999999999" fill="none"/><path d="M861.7 1197.1L873.3 1208.7M873.3 1197.1L861.7 1208.7M867.5 1197.1L867.5 1208.7" stroke="#7f7f7f" stroke-width="1.5999999999999999" fill="none"/><path d="M907.5 1209.1L919.1 1220.7M919.1 1209.1L907.5 1220.7M913.3 1209.1L913.3 1220.7" stroke="#7f7f7f" stroke-width="1.5999999999999999" fill="none"/><path d="M953.2 1204.5L964.8 1216.1M964.8 1204.5L953.2 1216.1M959.0 1204.5L959.0 1216.1" stroke="#7f7f7f" stroke-width="1.5999999999999999" fill="none"/><path d="M999.0 1318.4L1010.6 1330.0M1010.6 1318.4L999.0 1330.0M1004.8 1318.4L1004.8 1330.0" stroke="#7f7f7f" stroke-width="1.5999999999999999" fill="none"/>
<path d="M272.6 1054.3C280.2 1054.9 303.1 1058.3 318.3 1057.7C333.6 1057.2 348.8 1052.0 364.1 1050.9C379.4 1049.7 394.6 1049.0 409.9 1050.9C425.1 1052.8 440.4 1058.5 455.6 1062.3C470.9 1066.1 486.1 1076.9 501.4 1073.7C516.6 1070.4 531.9 1036.3 547.2 1042.9C562.4 1049.6 577.7 1098.0 592.9 1113.5C608.2 1129.1 623.4 1131.6 638.7 1136.3C653.9 1141.0 669.2 1139.1 684.5 1142.0C699.7 1144.8 715.0 1146.7 730.2 1153.4C745.5 1160.0 760.7 1174.3 776.0 1181.8C791.2 1189.4 806.5 1190.8 821.7 1198.9C837.0 1207.1 852.3 1221.5 867.5 1230.8C882.8 1240.1 898.0 1250.6 913.3 1254.7C928.5 1258.9 943.8 1244.3 959.0 1255.9C974.3 1267.4 997.2 1312.8 1004.8 1324.2" fill="none" stroke="#7f7f7f" stroke-width="1.8"/>
<rect x="267.6" y="1049.3" width="10.0" height="10.0" stroke="#7f7f7f" stroke-width="1.7" fill="none"/><rect x="313.3" y="1052.7" width="10.0" height="10.0" stroke="#7f7f7f" stroke-width="1.7" fill="none"/><rect x="359.1" y="1045.9" width="10.0" height="10.0" stroke="#7f7f7f" stroke-width="1.7" fill="none"/><rect x="404.9" y="1045.9" width="10.0" height="10.0" stroke="#7f7f7f" stroke-width="1.7" fill="none"/><rect x="450.6" y="1057.3" width="10.0" height="10.0" stroke="#7f7f7f" stroke-width="1.7" fill="none"/><rect x="496.4" y="1068.7" width="10.0" height="10.0" stroke="#7f7f7f" stroke-width="1.7" fill="none"/><rect x="542.2" y="1037.9" width="10.0" height="10.0" stroke="#7f7f7f" stroke-width="1.7" fill="none"/><rect x="587.9" y="1108.5" width="10.0" height="10.0" stroke="#7f7f7f" stroke-width="1.7" fill="none"/><rect x="633.7" y="1131.3" width="10.0" height="10.0" stroke="#7f7f7f" stroke-width="1.7" fill="none"/><rect x="679.5" y="1137.0" width="10.0" height="10.0" stroke="#7f7f7f" stroke-width="1.7" fill="none"/><rect x="725.2" y="1148.4" width="10.0" height="10.0" stroke="#7f7f7f" stroke-width="1.7" fill="none"/><rect x="771.0" y="1176.8" width="10.0" height="10.0" stroke="#7f7f7f" stroke-width="1.7" fill="none"/><rect x="816.7" y="1193.9" width="10.0" height="10.0" stroke="#7f7f7f" stroke-width="1.7" fill="none"/><rect x="862.5" y="1225.8" width="10.0" height="10.0" stroke="#7f7f7f" stroke-width="1.7" fill="none"/><rect x="908.3" y="1249.7" width="10.0" height="10.0" stroke="#7f7f7f" stroke-width="1.7" fill="none"/><rect x="954.0" y="1250.9" width="10.0" height="10.0" stroke="#7f7f7f" stroke-width="1.7" fill="none"/><rect x="999.8" y="1319.2" width="10.0" height="10.0" stroke="#7f7f7f" stroke-width="1.7" fill="none"/>
<path d="M272.6 955.2C280.2 963.6 303.1 991.3 318.3 1005.3C333.6 1019.4 348.8 1035.7 364.1 1039.5C379.4 1043.3 394.6 1028.1 409.9 1028.1C425.1 1028.1 440.4 1029.6 455.6 1039.5C470.9 1049.4 486.1 1078.8 501.4 1087.3C516.6 1095.9 531.9 1085.4 547.2 1090.7C562.4 1096.1 577.7 1112.6 592.9 1119.2C608.2 1125.9 623.4 1123.4 638.7 1130.6C653.9 1137.8 669.2 1159.6 684.5 1162.5C699.7 1165.3 715.0 1142.2 730.2 1147.7C745.5 1153.2 760.7 1186.0 776.0 1195.5C791.2 1205.0 806.5 1200.3 821.7 1204.6C837.0 1209.0 852.3 1217.0 867.5 1221.7C882.8 1226.5 898.0 1223.8 913.3 1233.1C928.5 1242.4 943.8 1262.3 959.0 1277.5C974.3 1292.7 997.2 1316.4 1004.8 1324.2" fill="none" stroke="#7f7f7f" stroke-width="1.8"/>
<circle cx="272.6" cy="955.2" r="4.7" stroke="#7f7f7f" stroke-width="1.7" fill="none"/><circle cx="318.3" cy="1005.3" r="4.7" stroke="#7f7f7f" stroke-width="1.7" fill="none"/><circle cx="364.1" cy="1039.5" r="4.7" stroke="#7f7f7f" stroke-width="1.7" fill="none"/><circle cx="409.9" cy="1028.1" r="4.7" stroke="#7f7f7f" stroke-width="1.7" fill="none"/><circle cx="455.6" cy="1039.5" r="4.7" stroke="#7f7f7f" stroke-width="1.7" fill="none"/><circle cx="501.4" cy="1087.3" r="4.7" stroke="#7f7f7f" stroke-width="1.7" fill="none"/><circle cx="547.2" cy="1090.7" r="4.7" stroke="#7f7f7f" stroke-width="1.7" fill="none"/><circle cx="592.9" cy="1119.2" r="4.7" stroke="#7f7f7f" stroke-width="1.7" fill="none"/><circle cx="638.7" cy="1130.6" r="4.7" stroke="#7f7f7f" stroke-width="1.7" fill="none"/><circle cx="684.5" cy="1162.5" r="4.7" stroke="#7f7f7f" stroke-width="1.7" fill="none"/><circle cx="730.2" cy="1147.7" r="4.7" stroke="#7f7f7f" stroke-width="1.7" fill="none"/><circle cx="776.0" cy="1195.5" r="4.7" stroke="#7f7f7f" stroke-width="1.7" fill="none"/><circle cx="821.7" cy="1204.6" r="4.7" stroke="#7f7f7f" stroke-width="1.7" fill="none"/><circle cx="867.5" cy="1221.7" r="4.7" stroke="#7f7f7f" stroke-width="1.7" fill="none"/><circle cx="913.3" cy="1233.1" r="4.7" stroke="#7f7f7f" stroke-width="1.7" fill="none"/><circle cx="959.0" cy="1277.5" r="4.7" stroke="#7f7f7f" stroke-width="1.7" fill="none"/><circle cx="1004.8" cy="1324.2" r="4.7" stroke="#7f7f7f" stroke-width="1.7" fill="none"/>
<path d="M272.6 709.2C280.2 760.5 303.1 957.9 318.3 1016.7C333.6 1075.6 348.8 1052.8 364.1 1062.3C379.4 1071.8 394.6 1071.8 409.9 1073.7C425.1 1075.6 440.4 1071.8 455.6 1073.7C470.9 1075.6 486.1 1086.9 501.4 1085.1C516.6 1083.2 531.9 1068.9 547.2 1062.3C562.4 1055.6 577.7 1035.7 592.9 1045.2C608.2 1054.7 623.4 1094.0 638.7 1119.2C653.9 1144.5 669.2 1186.4 684.5 1196.7C699.7 1206.9 715.0 1171.8 730.2 1180.7C745.5 1189.6 760.7 1249.0 776.0 1250.2C791.2 1251.3 806.5 1178.1 821.7 1187.5C837.0 1197.0 852.3 1284.9 867.5 1307.1C882.8 1329.3 898.0 1341.7 913.3 1320.8C928.5 1299.9 943.8 1181.3 959.0 1181.8C974.3 1182.4 997.2 1300.5 1004.8 1324.2" fill="none" stroke="#7f7f7f" stroke-width="1.8"/>
<path d="M272.6 703.4L278.4 713.9L266.8 713.9Z" stroke="#7f7f7f" stroke-width="1.7" fill="none"/><path d="M318.3 1010.9L324.1 1021.4L312.5 1021.4Z" stroke="#7f7f7f" stroke-width="1.7" fill="none"/><path d="M364.1 1056.5L369.9 1066.9L358.3 1066.9Z" stroke="#7f7f7f" stroke-width="1.7" fill="none"/><path d="M409.9 1067.9L415.7 1078.3L404.1 1078.3Z" stroke="#7f7f7f" stroke-width="1.7" fill="none"/><path d="M455.6 1067.9L461.4 1078.3L449.8 1078.3Z" stroke="#7f7f7f" stroke-width="1.7" fill="none"/><path d="M501.4 1079.3L507.2 1089.7L495.6 1089.7Z" stroke="#7f7f7f" stroke-width="1.7" fill="none"/><path d="M547.2 1056.5L553.0 1066.9L541.4 1066.9Z" stroke="#7f7f7f" stroke-width="1.7" fill="none"/><path d="M592.9 1039.4L598.7 1049.8L587.1 1049.8Z" stroke="#7f7f7f" stroke-width="1.7" fill="none"/><path d="M638.7 1113.4L644.5 1123.9L632.9 1123.9Z" stroke="#7f7f7f" stroke-width="1.7" fill="none"/><path d="M684.5 1190.9L690.2 1201.3L678.7 1201.3Z" stroke="#7f7f7f" stroke-width="1.7" fill="none"/><path d="M730.2 1174.9L736.0 1185.4L724.4 1185.4Z" stroke="#7f7f7f" stroke-width="1.7" fill="none"/><path d="M776.0 1244.4L781.8 1254.8L770.2 1254.8Z" stroke="#7f7f7f" stroke-width="1.7" fill="none"/><path d="M821.7 1181.7L827.5 1192.2L815.9 1192.2Z" stroke="#7f7f7f" stroke-width="1.7" fill="none"/><path d="M867.5 1301.3L873.3 1311.8L861.7 1311.8Z" stroke="#7f7f7f" stroke-width="1.7" fill="none"/><path d="M913.3 1315.0L919.1 1325.4L907.5 1325.4Z" stroke="#7f7f7f" stroke-width="1.7" fill="none"/><path d="M959.0 1176.0L964.8 1186.5L953.2 1186.5Z" stroke="#7f7f7f" stroke-width="1.7" fill="none"/><path d="M1004.8 1318.4L1010.6 1328.8L999.0 1328.8Z" stroke="#7f7f7f" stroke-width="1.7" fill="none"/>
<path d="M272.6 866.4C280.2 882.0 303.1 932.8 318.3 959.8C333.6 986.7 348.8 1012.9 364.1 1028.1C379.4 1043.3 394.6 1046.1 409.9 1050.9C425.1 1055.6 440.4 1056.0 455.6 1056.6C470.9 1057.2 486.1 1051.1 501.4 1054.3C516.6 1057.5 531.9 1064.2 547.2 1075.9C562.4 1087.7 577.7 1116.7 592.9 1124.9C608.2 1133.1 623.4 1124.0 638.7 1124.9C653.9 1125.9 669.2 1132.1 684.5 1130.6C699.7 1129.1 715.0 1113.9 730.2 1115.8C745.5 1117.7 760.7 1130.0 776.0 1142.0C791.2 1153.9 806.5 1175.2 821.7 1187.5C837.0 1199.9 852.3 1197.2 867.5 1216.0C882.8 1234.8 898.0 1305.0 913.3 1300.3C928.5 1295.5 943.8 1183.6 959.0 1187.5C974.3 1191.5 997.2 1301.4 1004.8 1324.2" fill="none" stroke="#7f7f7f" stroke-width="1.8"/>
<path d="M272.6 860.8L278.2 866.4L272.6 872.0L267.0 866.4Z" stroke="#7f7f7f" stroke-width="1.7" fill="none"/><path d="M318.3 954.2L323.9 959.8L318.3 965.4L312.7 959.8Z" stroke="#7f7f7f" stroke-width="1.7" fill="none"/><path d="M364.1 1022.5L369.7 1028.1L364.1 1033.7L358.5 1028.1Z" stroke="#7f7f7f" stroke-width="1.7" fill="none"/><path d="M409.9 1045.3L415.5 1050.9L409.9 1056.5L404.3 1050.9Z" stroke="#7f7f7f" stroke-width="1.7" fill="none"/><path d="M455.6 1051.0L461.2 1056.6L455.6 1062.2L450.0 1056.6Z" stroke="#7f7f7f" stroke-width="1.7" fill="none"/><path d="M501.4 1048.7L507.0 1054.3L501.4 1059.9L495.8 1054.3Z" stroke="#7f7f7f" stroke-width="1.7" fill="none"/><path d="M547.2 1070.3L552.8 1075.9L547.2 1081.5L541.6 1075.9Z" stroke="#7f7f7f" stroke-width="1.7" fill="none"/><path d="M592.9 1119.3L598.5 1124.9L592.9 1130.5L587.3 1124.9Z" stroke="#7f7f7f" stroke-width="1.7" fill="none"/><path d="M638.7 1119.3L644.3 1124.9L638.7 1130.5L633.1 1124.9Z" stroke="#7f7f7f" stroke-width="1.7" fill="none"/><path d="M684.5 1125.0L690.1 1130.6L684.5 1136.2L678.9 1130.6Z" stroke="#7f7f7f" stroke-width="1.7" fill="none"/><path d="M730.2 1110.2L735.8 1115.8L730.2 1121.4L724.6 1115.8Z" stroke="#7f7f7f" stroke-width="1.7" fill="none"/><path d="M776.0 1136.4L781.6 1142.0L776.0 1147.6L770.4 1142.0Z" stroke="#7f7f7f" stroke-width="1.7" fill="none"/><path d="M821.7 1181.9L827.3 1187.5L821.7 1193.1L816.1 1187.5Z" stroke="#7f7f7f" stroke-width="1.7" fill="none"/><path d="M867.5 1210.4L873.1 1216.0L867.5 1221.6L861.9 1216.0Z" stroke="#7f7f7f" stroke-width="1.7" fill="none"/><path d="M913.3 1294.7L918.9 1300.3L913.3 1305.9L907.7 1300.3Z" stroke="#7f7f7f" stroke-width="1.7" fill="none"/><path d="M959.0 1181.9L964.6 1187.5L959.0 1193.1L953.4 1187.5Z" stroke="#7f7f7f" stroke-width="1.7" fill="none"/><path d="M1004.8 1318.6L1010.4 1324.2L1004.8 1329.8L999.2 1324.2Z" stroke="#7f7f7f" stroke-width="1.7" fill="none"/>
<path d="M272.6 956.4C280.2 962.6 303.1 981.6 318.3 993.9C333.6 1006.3 348.8 1020.6 364.1 1030.4C379.4 1040.2 394.6 1048.3 409.9 1052.6C425.1 1056.9 440.4 1051.2 455.6 1056.0C470.9 1060.9 486.1 1076.2 501.4 1081.6C516.6 1087.0 531.9 1084.1 547.2 1088.5C562.4 1092.8 577.7 1105.0 592.9 1107.8C608.2 1110.7 623.4 1100.4 638.7 1105.6C653.9 1110.7 669.2 1131.9 684.5 1138.6C699.7 1145.2 715.0 1138.8 730.2 1145.4C745.5 1152.1 760.7 1171.6 776.0 1178.4C791.2 1185.3 806.5 1181.0 821.7 1186.4C837.0 1191.8 852.3 1203.0 867.5 1210.9C882.8 1218.8 898.0 1229.6 913.3 1233.7C928.5 1237.7 943.8 1220.3 959.0 1235.4C974.3 1250.5 997.2 1309.4 1004.8 1324.2" fill="none" stroke="#000" stroke-width="5" stroke-linecap="round"/>
</g>
<g clip-path="url(#clipC)">
<path d="M388.7 1699.6L398.9 1701.4L409.0 1703.3L419.2 1705.1L429.3 1706.9L439.5 1708.8L449.6 1710.6L459.8 1712.4L469.9 1714.3L480.1 1716.1L490.2 1717.9L500.4 1719.8L510.5 1721.6L520.7 1721.6L530.8 1723.4L541.0 1725.3L551.1 1727.1L561.3 1728.9L571.4 1730.8L581.6 1732.6L591.7 1734.4L601.9 1736.3L612.0 1738.1L622.2 1739.9L632.3 1741.8L642.5 1743.6L652.6 1745.4L662.8 1745.4L672.9 1747.3L683.1 1749.1L693.2 1750.9L703.4 1752.8L713.5 1754.6L723.7 1754.6L733.8 1756.4L744.0 1758.3L754.1 1760.1L764.3 1761.9L774.4 1763.8L784.6 1763.8L794.7 1771.1L804.9 1787.6L815.0 1795.0L825.2 1800.5L835.3 1807.8L845.5 1815.1L855.6 1822.5L865.8 1829.8L875.9 1837.1L886.1 1844.5L896.2 1850.0L906.4 1857.3L916.5 1864.6L926.7 1872.0L936.8 1879.3L947.0 1886.6L957.1 1892.2L967.3 1899.5L977.4 1906.8L987.6 1914.2L997.7 1921.5L1007.9 1928.8L1018.0 1934.3L1028.2 1941.7L1038.3 1949.0L1048.5 1956.3L1058.6 1963.7L1068.8 1971.0L1078.9 1976.5L1089.1 1983.8L1099.2 1991.2" fill="none" stroke="#7f7f7f" stroke-width="1.3"/>
<rect x="381.9" y="1697.6" width="13.6" height="4" fill="#7f7f7f"/><rect x="392.1" y="1699.4" width="13.6" height="4" fill="#7f7f7f"/><rect x="402.2" y="1701.3" width="13.6" height="4" fill="#7f7f7f"/><rect x="412.4" y="1703.1" width="13.6" height="4" fill="#7f7f7f"/><rect x="422.5" y="1704.9" width="13.6" height="4" fill="#7f7f7f"/><rect x="432.7" y="1706.8" width="13.6" height="4" fill="#7f7f7f"/><rect x="442.8" y="1708.6" width="13.6" height="4" fill="#7f7f7f"/><rect x="453.0" y="1710.4" width="13.6" height="4" fill="#7f7f7f"/><rect x="463.1" y="1712.3" width="13.6" height="4" fill="#7f7f7f"/><rect x="473.3" y="1714.1" width="13.6" height="4" fill="#7f7f7f"/><rect x="483.4" y="1715.9" width="13.6" height="4" fill="#7f7f7f"/><rect x="493.6" y="1717.8" width="13.6" height="4" fill="#7f7f7f"/><rect x="503.7" y="1719.6" width="13.6" height="4" fill="#7f7f7f"/><rect x="513.9" y="1719.6" width="13.6" height="4" fill="#7f7f7f"/><rect x="524.0" y="1721.4" width="13.6" height="4" fill="#7f7f7f"/><rect x="534.2" y="1723.3" width="13.6" height="4" fill="#7f7f7f"/><rect x="544.3" y="1725.1" width="13.6" height="4" fill="#7f7f7f"/><rect x="554.5" y="1726.9" width="13.6" height="4" fill="#7f7f7f"/><rect x="564.6" y="1728.8" width="13.6" height="4" fill="#7f7f7f"/><rect x="574.8" y="1730.6" width="13.6" height="4" fill="#7f7f7f"/><rect x="584.9" y="1732.4" width="13.6" height="4" fill="#7f7f7f"/><rect x="595.1" y="1734.3" width="13.6" height="4" fill="#7f7f7f"/><rect x="605.2" y="1736.1" width="13.6" height="4" fill="#7f7f7f"/><rect x="615.4" y="1737.9" width="13.6" height="4" fill="#7f7f7f"/><rect x="625.5" y="1739.8" width="13.6" height="4" fill="#7f7f7f"/><rect x="635.7" y="1741.6" width="13.6" height="4" fill="#7f7f7f"/><rect x="645.8" y="1743.4" width="13.6" height="4" fill="#7f7f7f"/><rect x="656.0" y="1743.4" width="13.6" height="4" fill="#7f7f7f"/><rect x="666.1" y="1745.3" width="13.6" height="4" fill="#7f7f7f"/><rect x="676.3" y="1747.1" width="13.6" height="4" fill="#7f7f7f"/><rect x="686.4" y="1748.9" width="13.6" height="4" fill="#7f7f7f"/><rect x="696.6" y="1750.8" width="13.6" height="4" fill="#7f7f7f"/><rect x="706.7" y="1752.6" width="13.6" height="4" fill="#7f7f7f"/><rect x="716.9" y="1752.6" width="13.6" height="4" fill="#7f7f7f"/><rect x="727.0" y="1754.4" width="13.6" height="4" fill="#7f7f7f"/><rect x="737.2" y="1756.3" width="13.6" height="4" fill="#7f7f7f"/><rect x="747.3" y="1758.1" width="13.6" height="4" fill="#7f7f7f"/><rect x="757.5" y="1759.9" width="13.6" height="4" fill="#7f7f7f"/><rect x="767.6" y="1761.8" width="13.6" height="4" fill="#7f7f7f"/><rect x="777.8" y="1761.8" width="13.6" height="4" fill="#7f7f7f"/><rect x="787.9" y="1769.1" width="13.6" height="4" fill="#7f7f7f"/><rect x="798.1" y="1785.6" width="13.6" height="4" fill="#7f7f7f"/><rect x="808.2" y="1793.0" width="13.6" height="4" fill="#7f7f7f"/><rect x="818.4" y="1798.5" width="13.6" height="4" fill="#7f7f7f"/><rect x="828.5" y="1805.8" width="13.6" height="4" fill="#7f7f7f"/><rect x="838.7" y="1813.1" width="13.6" height="4" fill="#7f7f7f"/><rect x="848.8" y="1820.5" width="13.6" height="4" fill="#7f7f7f"/><rect x="859.0" y="1827.8" width="13.6" height="4" fill="#7f7f7f"/><rect x="869.1" y="1835.1" width="13.6" height="4" fill="#7f7f7f"/><rect x="879.3" y="1842.5" width="13.6" height="4" fill="#7f7f7f"/><rect x="889.4" y="1848.0" width="13.6" height="4" fill="#7f7f7f"/><rect x="899.6" y="1855.3" width="13.6" height="4" fill="#7f7f7f"/><rect x="909.7" y="1862.6" width="13.6" height="4" fill="#7f7f7f"/><rect x="919.9" y="1870.0" width="13.6" height="4" fill="#7f7f7f"/><rect x="930.0" y="1877.3" width="13.6" height="4" fill="#7f7f7f"/><rect x="940.2" y="1884.6" width="13.6" height="4" fill="#7f7f7f"/><rect x="950.3" y="1890.2" width="13.6" height="4" fill="#7f7f7f"/><rect x="960.5" y="1897.5" width="13.6" height="4" fill="#7f7f7f"/><rect x="970.6" y="1904.8" width="13.6" height="4" fill="#7f7f7f"/><rect x="980.8" y="1912.2" width="13.6" height="4" fill="#7f7f7f"/><rect x="990.9" y="1919.5" width="13.6" height="4" fill="#7f7f7f"/><rect x="1001.1" y="1926.8" width="13.6" height="4" fill="#7f7f7f"/><rect x="1011.2" y="1932.3" width="13.6" height="4" fill="#7f7f7f"/><rect x="1021.4" y="1939.7" width="13.6" height="4" fill="#7f7f7f"/><rect x="1031.5" y="1947.0" width="13.6" height="4" fill="#7f7f7f"/><rect x="1041.7" y="1954.3" width="13.6" height="4" fill="#7f7f7f"/><rect x="1051.8" y="1961.7" width="13.6" height="4" fill="#7f7f7f"/><rect x="1061.9" y="1969.0" width="13.6" height="4" fill="#7f7f7f"/><rect x="1072.1" y="1974.5" width="13.6" height="4" fill="#7f7f7f"/><rect x="1082.2" y="1981.8" width="13.6" height="4" fill="#7f7f7f"/><rect x="1092.4" y="1989.2" width="13.6" height="4" fill="#7f7f7f"/>
<path d="M394.2 1590.2L404.4 1591.9L414.6 1593.6L424.8 1595.3L435.1 1597.1L445.3 1598.8L455.5 1600.5L465.7 1602.2L475.9 1603.9L486.1 1605.6L496.4 1607.2L506.6 1608.8L516.8 1610.4L527.0 1612.0L537.2 1613.6L547.4 1615.2L557.7 1616.9L567.9 1618.5L578.1 1620.1L588.3 1621.7L598.5 1623.3L608.8 1624.9L619.0 1626.5L629.2 1628.1L639.4 1629.7L649.6 1631.4L659.8 1633.0L670.1 1634.6L680.3 1636.2L690.5 1637.8L700.7 1639.4L710.9 1641.0L721.1 1642.6L731.4 1644.2L741.6 1645.9L751.8 1647.5L762.0 1649.1L772.2 1650.7L782.4 1652.3L792.7 1655.2L802.9 1658.2L813.1 1661.3L823.3 1664.4L833.5 1667.4L843.7 1713.8L854.0 1719.9L864.2 1726.1L874.4 1732.2L884.6 1738.3L894.8 1744.5L905.1 1750.6L915.3 1756.8L925.5 1762.9L935.7 1769.1L945.9 1775.2L956.1 1781.4L966.4 1787.5L976.6 1793.6L986.8 1799.8L997.0 1805.9L1007.2 1812.1L1017.4 1818.2L1027.7 1824.4L1037.9 1830.5L1048.1 1836.6L1058.3 1842.8L1068.5 1848.9L1078.7 1855.1L1089.0 1861.2L1099.2 1867.4L1109.4 1873.5" fill="none" stroke="#7f7f7f" stroke-width="1.3"/>
<rect x="392.3" y="1588.5" width="7.8" height="3.4" fill="#7f7f7f"/><rect x="402.5" y="1590.2" width="7.8" height="3.4" fill="#7f7f7f"/><rect x="412.7" y="1591.9" width="7.8" height="3.4" fill="#7f7f7f"/><rect x="423.0" y="1593.6" width="7.8" height="3.4" fill="#7f7f7f"/><rect x="433.2" y="1595.4" width="7.8" height="3.4" fill="#7f7f7f"/><rect x="443.4" y="1597.1" width="7.8" height="3.4" fill="#7f7f7f"/><rect x="453.6" y="1598.8" width="7.8" height="3.4" fill="#7f7f7f"/><rect x="463.8" y="1600.5" width="7.8" height="3.4" fill="#7f7f7f"/><rect x="474.0" y="1602.2" width="7.8" height="3.4" fill="#7f7f7f"/><rect x="484.3" y="1603.9" width="7.8" height="3.4" fill="#7f7f7f"/><rect x="494.5" y="1605.5" width="7.8" height="3.4" fill="#7f7f7f"/><rect x="504.7" y="1607.1" width="7.8" height="3.4" fill="#7f7f7f"/><rect x="514.9" y="1608.7" width="7.8" height="3.4" fill="#7f7f7f"/><rect x="525.1" y="1610.3" width="7.8" height="3.4" fill="#7f7f7f"/><rect x="535.3" y="1611.9" width="7.8" height="3.4" fill="#7f7f7f"/><rect x="545.6" y="1613.5" width="7.8" height="3.4" fill="#7f7f7f"/><rect x="555.8" y="1615.2" width="7.8" height="3.4" fill="#7f7f7f"/><rect x="566.0" y="1616.8" width="7.8" height="3.4" fill="#7f7f7f"/><rect x="576.2" y="1618.4" width="7.8" height="3.4" fill="#7f7f7f"/><rect x="586.4" y="1620.0" width="7.8" height="3.4" fill="#7f7f7f"/><rect x="596.6" y="1621.6" width="7.8" height="3.4" fill="#7f7f7f"/><rect x="606.9" y="1623.2" width="7.8" height="3.4" fill="#7f7f7f"/><rect x="617.1" y="1624.8" width="7.8" height="3.4" fill="#7f7f7f"/><rect x="627.3" y="1626.4" width="7.8" height="3.4" fill="#7f7f7f"/><rect x="637.5" y="1628.0" width="7.8" height="3.4" fill="#7f7f7f"/><rect x="647.7" y="1629.7" width="7.8" height="3.4" fill="#7f7f7f"/><rect x="658.0" y="1631.3" width="7.8" height="3.4" fill="#7f7f7f"/><rect x="668.2" y="1632.9" width="7.8" height="3.4" fill="#7f7f7f"/><rect x="678.4" y="1634.5" width="7.8" height="3.4" fill="#7f7f7f"/><rect x="688.6" y="1636.1" width="7.8" height="3.4" fill="#7f7f7f"/><rect x="698.8" y="1637.7" width="7.8" height="3.4" fill="#7f7f7f"/><rect x="709.0" y="1639.3" width="7.8" height="3.4" fill="#7f7f7f"/><rect x="719.3" y="1640.9" width="7.8" height="3.4" fill="#7f7f7f"/><rect x="729.5" y="1642.5" width="7.8" height="3.4" fill="#7f7f7f"/><rect x="739.7" y="1644.2" width="7.8" height="3.4" fill="#7f7f7f"/><rect x="749.9" y="1645.8" width="7.8" height="3.4" fill="#7f7f7f"/><rect x="760.1" y="1647.4" width="7.8" height="3.4" fill="#7f7f7f"/><rect x="770.3" y="1649.0" width="7.8" height="3.4" fill="#7f7f7f"/><rect x="780.6" y="1650.6" width="7.8" height="3.4" fill="#7f7f7f"/><rect x="790.8" y="1653.5" width="7.8" height="3.4" fill="#7f7f7f"/><rect x="801.0" y="1656.5" width="7.8" height="3.4" fill="#7f7f7f"/><rect x="811.2" y="1659.6" width="7.8" height="3.4" fill="#7f7f7f"/><rect x="821.4" y="1662.7" width="7.8" height="3.4" fill="#7f7f7f"/><rect x="831.6" y="1665.7" width="7.8" height="3.4" fill="#7f7f7f"/><rect x="841.9" y="1712.1" width="7.8" height="3.4" fill="#7f7f7f"/><rect x="852.1" y="1718.2" width="7.8" height="3.4" fill="#7f7f7f"/><rect x="862.3" y="1724.4" width="7.8" height="3.4" fill="#7f7f7f"/><rect x="872.5" y="1730.5" width="7.8" height="3.4" fill="#7f7f7f"/><rect x="882.7" y="1736.6" width="7.8" height="3.4" fill="#7f7f7f"/><rect x="892.9" y="1742.8" width="7.8" height="3.4" fill="#7f7f7f"/><rect x="903.2" y="1748.9" width="7.8" height="3.4" fill="#7f7f7f"/><rect x="913.4" y="1755.1" width="7.8" height="3.4" fill="#7f7f7f"/><rect x="923.6" y="1761.2" width="7.8" height="3.4" fill="#7f7f7f"/><rect x="933.8" y="1767.4" width="7.8" height="3.4" fill="#7f7f7f"/><rect x="944.0" y="1773.5" width="7.8" height="3.4" fill="#7f7f7f"/><rect x="954.3" y="1779.7" width="7.8" height="3.4" fill="#7f7f7f"/><rect x="964.5" y="1785.8" width="7.8" height="3.4" fill="#7f7f7f"/><rect x="974.7" y="1791.9" width="7.8" height="3.4" fill="#7f7f7f"/><rect x="984.9" y="1798.1" width="7.8" height="3.4" fill="#7f7f7f"/><rect x="995.1" y="1804.2" width="7.8" height="3.4" fill="#7f7f7f"/><rect x="1005.3" y="1810.4" width="7.8" height="3.4" fill="#7f7f7f"/><rect x="1015.6" y="1816.5" width="7.8" height="3.4" fill="#7f7f7f"/><rect x="1025.8" y="1822.7" width="7.8" height="3.4" fill="#7f7f7f"/><rect x="1036.0" y="1828.8" width="7.8" height="3.4" fill="#7f7f7f"/><rect x="1046.2" y="1834.9" width="7.8" height="3.4" fill="#7f7f7f"/><rect x="1056.4" y="1841.1" width="7.8" height="3.4" fill="#7f7f7f"/><rect x="1066.6" y="1847.2" width="7.8" height="3.4" fill="#7f7f7f"/><rect x="1076.9" y="1853.4" width="7.8" height="3.4" fill="#7f7f7f"/><rect x="1087.1" y="1859.5" width="7.8" height="3.4" fill="#7f7f7f"/><rect x="1097.3" y="1865.7" width="7.8" height="3.4" fill="#7f7f7f"/><rect x="1107.5" y="1871.8" width="7.8" height="3.4" fill="#7f7f7f"/>
<path d="M391.3 1636.0L401.5 1638.3L411.7 1640.6L421.9 1642.8L432.2 1645.1L442.4 1647.4L452.6 1649.6L462.8 1651.9L473.1 1654.2L483.3 1656.5L493.5 1658.7L503.7 1661.0L513.9 1663.3L524.2 1665.6L534.4 1667.8L544.6 1670.1L554.8 1672.4L565.1 1674.6L575.3 1676.9L585.5 1679.2L595.7 1681.4L606.0 1683.7L616.2 1685.9L626.4 1688.2L636.6 1690.4L646.8 1692.7L657.1 1694.9L667.3 1697.2L677.5 1699.4L687.7 1701.7L698.0 1703.9L708.2 1706.2L718.4 1708.4L728.6 1710.7L738.9 1712.9L749.1 1715.2L759.3 1717.4L769.5 1719.7L779.7 1721.9L790.0 1726.3L800.2 1732.1L810.4 1737.9L820.6 1743.7L830.9 1749.5L841.1 1755.3L851.3 1761.1L861.5 1766.9L871.8 1772.7L882.0 1778.5L892.2 1784.3L902.4 1790.1L912.6 1795.9L922.9 1801.7L933.1 1807.5L943.3 1813.4L953.5 1819.2L963.8 1825.0L974.0 1830.8L984.2 1836.6L994.4 1842.4L1004.6 1848.2L1014.9 1854.0L1025.1 1859.8L1035.3 1865.6L1045.5 1871.4L1055.8 1877.2L1066.0 1883.0L1076.2 1888.8L1086.4 1894.6L1096.7 1900.4" fill="none" stroke="#7f7f7f" stroke-width="1.3"/>
<rect x="384.8" y="1629.5" width="13.0" height="13.0" fill="#7f7f7f"/><rect x="395.0" y="1631.8" width="13.0" height="13.0" fill="#7f7f7f"/><rect x="405.2" y="1634.1" width="13.0" height="13.0" fill="#7f7f7f"/><rect x="415.5" y="1636.4" width="13.0" height="13.0" fill="#7f7f7f"/><rect x="425.7" y="1638.6" width="13.0" height="13.0" fill="#7f7f7f"/><rect x="435.9" y="1640.9" width="13.0" height="13.0" fill="#7f7f7f"/><rect x="446.1" y="1643.2" width="13.0" height="13.0" fill="#7f7f7f"/><rect x="456.4" y="1645.4" width="13.0" height="13.0" fill="#7f7f7f"/><rect x="466.6" y="1647.7" width="13.0" height="13.0" fill="#7f7f7f"/><rect x="476.8" y="1650.0" width="13.0" height="13.0" fill="#7f7f7f"/><rect x="487.0" y="1652.3" width="13.0" height="13.0" fill="#7f7f7f"/><rect x="497.2" y="1654.5" width="13.0" height="13.0" fill="#7f7f7f"/><rect x="507.5" y="1656.8" width="13.0" height="13.0" fill="#7f7f7f"/><rect x="517.7" y="1659.1" width="13.0" height="13.0" fill="#7f7f7f"/><rect x="527.9" y="1661.3" width="13.0" height="13.0" fill="#7f7f7f"/><rect x="538.1" y="1663.6" width="13.0" height="13.0" fill="#7f7f7f"/><rect x="548.4" y="1665.9" width="13.0" height="13.0" fill="#7f7f7f"/><rect x="558.6" y="1668.2" width="13.0" height="13.0" fill="#7f7f7f"/><rect x="568.8" y="1670.4" width="13.0" height="13.0" fill="#7f7f7f"/><rect x="579.0" y="1672.7" width="13.0" height="13.0" fill="#7f7f7f"/><rect x="589.3" y="1674.9" width="13.0" height="13.0" fill="#7f7f7f"/><rect x="599.5" y="1677.2" width="13.0" height="13.0" fill="#7f7f7f"/><rect x="609.7" y="1679.4" width="13.0" height="13.0" fill="#7f7f7f"/><rect x="619.9" y="1681.7" width="13.0" height="13.0" fill="#7f7f7f"/><rect x="630.1" y="1683.9" width="13.0" height="13.0" fill="#7f7f7f"/><rect x="640.4" y="1686.2" width="13.0" height="13.0" fill="#7f7f7f"/><rect x="650.6" y="1688.4" width="13.0" height="13.0" fill="#7f7f7f"/><rect x="660.8" y="1690.7" width="13.0" height="13.0" fill="#7f7f7f"/><rect x="671.0" y="1692.9" width="13.0" height="13.0" fill="#7f7f7f"/><rect x="681.3" y="1695.2" width="13.0" height="13.0" fill="#7f7f7f"/><rect x="691.5" y="1697.4" width="13.0" height="13.0" fill="#7f7f7f"/><rect x="701.7" y="1699.7" width="13.0" height="13.0" fill="#7f7f7f"/><rect x="711.9" y="1701.9" width="13.0" height="13.0" fill="#7f7f7f"/><rect x="722.2" y="1704.2" width="13.0" height="13.0" fill="#7f7f7f"/><rect x="732.4" y="1706.4" width="13.0" height="13.0" fill="#7f7f7f"/><rect x="742.6" y="1708.7" width="13.0" height="13.0" fill="#7f7f7f"/><rect x="752.8" y="1710.9" width="13.0" height="13.0" fill="#7f7f7f"/><rect x="763.0" y="1713.2" width="13.0" height="13.0" fill="#7f7f7f"/><rect x="773.3" y="1715.4" width="13.0" height="13.0" fill="#7f7f7f"/><rect x="783.5" y="1719.8" width="13.0" height="13.0" fill="#7f7f7f"/><rect x="793.7" y="1725.6" width="13.0" height="13.0" fill="#7f7f7f"/><rect x="803.9" y="1731.4" width="13.0" height="13.0" fill="#7f7f7f"/><rect x="814.2" y="1737.2" width="13.0" height="13.0" fill="#7f7f7f"/><rect x="824.4" y="1743.0" width="13.0" height="13.0" fill="#7f7f7f"/><rect x="834.6" y="1748.8" width="13.0" height="13.0" fill="#7f7f7f"/><rect x="844.8" y="1754.6" width="13.0" height="13.0" fill="#7f7f7f"/><rect x="855.0" y="1760.4" width="13.0" height="13.0" fill="#7f7f7f"/><rect x="865.3" y="1766.2" width="13.0" height="13.0" fill="#7f7f7f"/><rect x="875.5" y="1772.0" width="13.0" height="13.0" fill="#7f7f7f"/><rect x="885.7" y="1777.9" width="13.0" height="13.0" fill="#7f7f7f"/><rect x="895.9" y="1783.7" width="13.0" height="13.0" fill="#7f7f7f"/><rect x="906.2" y="1789.5" width="13.0" height="13.0" fill="#7f7f7f"/><rect x="916.4" y="1795.3" width="13.0" height="13.0" fill="#7f7f7f"/><rect x="926.6" y="1801.1" width="13.0" height="13.0" fill="#7f7f7f"/><rect x="936.8" y="1806.9" width="13.0" height="13.0" fill="#7f7f7f"/><rect x="947.1" y="1812.7" width="13.0" height="13.0" fill="#7f7f7f"/><rect x="957.3" y="1818.5" width="13.0" height="13.0" fill="#7f7f7f"/><rect x="967.5" y="1824.3" width="13.0" height="13.0" fill="#7f7f7f"/><rect x="977.7" y="1830.1" width="13.0" height="13.0" fill="#7f7f7f"/><rect x="987.9" y="1835.9" width="13.0" height="13.0" fill="#7f7f7f"/><rect x="998.2" y="1841.7" width="13.0" height="13.0" fill="#7f7f7f"/><rect x="1008.4" y="1847.5" width="13.0" height="13.0" fill="#7f7f7f"/><rect x="1018.6" y="1853.3" width="13.0" height="13.0" fill="#7f7f7f"/><rect x="1028.8" y="1859.1" width="13.0" height="13.0" fill="#7f7f7f"/><rect x="1039.1" y="1864.9" width="13.0" height="13.0" fill="#7f7f7f"/><rect x="1049.3" y="1870.7" width="13.0" height="13.0" fill="#7f7f7f"/><rect x="1059.5" y="1876.5" width="13.0" height="13.0" fill="#7f7f7f"/><rect x="1069.7" y="1882.3" width="13.0" height="13.0" fill="#7f7f7f"/><rect x="1080.0" y="1888.1" width="13.0" height="13.0" fill="#7f7f7f"/><rect x="1090.2" y="1893.9" width="13.0" height="13.0" fill="#7f7f7f"/>
<path d="M397.8 1644.9L408.1 1647.1L418.3 1649.3L428.5 1651.5L438.8 1653.7L449.0 1655.9L459.2 1658.1L469.5 1660.3L479.7 1662.5L490.0 1664.7L500.2 1666.9L510.4 1669.1L520.7 1671.3L530.9 1673.5L541.1 1675.7L551.4 1677.9L561.6 1680.1L571.8 1682.3L582.1 1685.0L592.3 1688.1L602.5 1691.1L612.8 1694.1L623.0 1697.2L633.3 1700.2L643.5 1703.3L653.7 1706.3L664.0 1709.4L674.2 1712.4L684.4 1715.4L694.7 1718.5L704.9 1721.5L715.1 1724.6L725.4 1727.6L735.6 1730.6L745.8 1733.7L756.1 1736.7L766.3 1739.8L776.6 1742.8L786.8 1748.5L797.0 1756.4L807.3 1763.0L817.5 1768.7L827.7 1774.4L838.0 1780.1L848.2 1785.8L858.4 1791.5L868.7 1797.2L878.9 1802.9L889.1 1808.6L899.4 1814.3L909.6 1820.0L919.9 1825.7L930.1 1831.5L940.3 1837.2L950.6 1842.9L960.8 1848.6L971.0 1854.3L981.3 1860.0L991.5 1865.7L1001.7 1871.4L1012.0 1877.1L1022.2 1882.8L1032.4 1888.5L1042.7 1894.2L1052.9 1899.9L1063.2 1905.6" fill="none" stroke="#7f7f7f" stroke-width="1.3"/>
<path d="M397.8 1637.8L405.0 1650.2L390.7 1650.2Z" fill="#7f7f7f"/><path d="M408.1 1640.0L415.2 1652.4L400.9 1652.4Z" fill="#7f7f7f"/><path d="M418.3 1642.2L425.4 1654.6L411.2 1654.6Z" fill="#7f7f7f"/><path d="M428.5 1644.4L435.7 1656.8L421.4 1656.8Z" fill="#7f7f7f"/><path d="M438.8 1646.6L445.9 1659.0L431.6 1659.0Z" fill="#7f7f7f"/><path d="M449.0 1648.8L456.1 1661.2L441.9 1661.2Z" fill="#7f7f7f"/><path d="M459.2 1651.0L466.4 1663.4L452.1 1663.4Z" fill="#7f7f7f"/><path d="M469.5 1653.2L476.6 1665.6L462.4 1665.6Z" fill="#7f7f7f"/><path d="M479.7 1655.4L486.8 1667.8L472.6 1667.8Z" fill="#7f7f7f"/><path d="M490.0 1657.6L497.1 1670.0L482.8 1670.0Z" fill="#7f7f7f"/><path d="M500.2 1659.8L507.3 1672.2L493.1 1672.2Z" fill="#7f7f7f"/><path d="M510.4 1662.0L517.6 1674.4L503.3 1674.4Z" fill="#7f7f7f"/><path d="M520.7 1664.2L527.8 1676.6L513.5 1676.6Z" fill="#7f7f7f"/><path d="M530.9 1666.4L538.0 1678.8L523.8 1678.8Z" fill="#7f7f7f"/><path d="M541.1 1668.6L548.3 1681.0L534.0 1681.0Z" fill="#7f7f7f"/><path d="M551.4 1670.8L558.5 1683.2L544.2 1683.2Z" fill="#7f7f7f"/><path d="M561.6 1673.0L568.7 1685.4L554.5 1685.4Z" fill="#7f7f7f"/><path d="M571.8 1675.2L579.0 1687.6L564.7 1687.6Z" fill="#7f7f7f"/><path d="M582.1 1677.9L589.2 1690.4L574.9 1690.4Z" fill="#7f7f7f"/><path d="M592.3 1680.9L599.4 1693.4L585.2 1693.4Z" fill="#7f7f7f"/><path d="M602.5 1684.0L609.7 1696.5L595.4 1696.5Z" fill="#7f7f7f"/><path d="M612.8 1687.0L619.9 1699.5L605.7 1699.5Z" fill="#7f7f7f"/><path d="M623.0 1690.1L630.1 1702.5L615.9 1702.5Z" fill="#7f7f7f"/><path d="M633.3 1693.1L640.4 1705.6L626.1 1705.6Z" fill="#7f7f7f"/><path d="M643.5 1696.1L650.6 1708.6L636.4 1708.6Z" fill="#7f7f7f"/><path d="M653.7 1699.2L660.9 1711.7L646.6 1711.7Z" fill="#7f7f7f"/><path d="M664.0 1702.2L671.1 1714.7L656.8 1714.7Z" fill="#7f7f7f"/><path d="M674.2 1705.3L681.3 1717.7L667.1 1717.7Z" fill="#7f7f7f"/><path d="M684.4 1708.3L691.6 1720.8L677.3 1720.8Z" fill="#7f7f7f"/><path d="M694.7 1711.4L701.8 1723.8L687.5 1723.8Z" fill="#7f7f7f"/><path d="M704.9 1714.4L712.0 1726.9L697.8 1726.9Z" fill="#7f7f7f"/><path d="M715.1 1717.4L722.3 1729.9L708.0 1729.9Z" fill="#7f7f7f"/><path d="M725.4 1720.5L732.5 1732.9L718.2 1732.9Z" fill="#7f7f7f"/><path d="M735.6 1723.5L742.7 1736.0L728.5 1736.0Z" fill="#7f7f7f"/><path d="M745.8 1726.6L753.0 1739.0L738.7 1739.0Z" fill="#7f7f7f"/><path d="M756.1 1729.6L763.2 1742.1L749.0 1742.1Z" fill="#7f7f7f"/><path d="M766.3 1732.6L773.4 1745.1L759.2 1745.1Z" fill="#7f7f7f"/><path d="M776.6 1735.7L783.7 1748.2L769.4 1748.2Z" fill="#7f7f7f"/><path d="M786.8 1741.4L793.9 1753.8L779.7 1753.8Z" fill="#7f7f7f"/><path d="M797.0 1749.3L804.2 1761.8L789.9 1761.8Z" fill="#7f7f7f"/><path d="M807.3 1755.9L814.4 1768.4L800.1 1768.4Z" fill="#7f7f7f"/><path d="M817.5 1761.6L824.6 1774.1L810.4 1774.1Z" fill="#7f7f7f"/><path d="M827.7 1767.3L834.9 1779.8L820.6 1779.8Z" fill="#7f7f7f"/><path d="M838.0 1773.0L845.1 1785.5L830.8 1785.5Z" fill="#7f7f7f"/><path d="M848.2 1778.7L855.3 1791.2L841.1 1791.2Z" fill="#7f7f7f"/><path d="M858.4 1784.4L865.6 1796.9L851.3 1796.9Z" fill="#7f7f7f"/><path d="M868.7 1790.1L875.8 1802.6L861.5 1802.6Z" fill="#7f7f7f"/><path d="M878.9 1795.8L886.0 1808.3L871.8 1808.3Z" fill="#7f7f7f"/><path d="M889.1 1801.5L896.3 1814.0L882.0 1814.0Z" fill="#7f7f7f"/><path d="M899.4 1807.2L906.5 1819.7L892.3 1819.7Z" fill="#7f7f7f"/><path d="M909.6 1812.9L916.7 1825.4L902.5 1825.4Z" fill="#7f7f7f"/><path d="M919.9 1818.6L927.0 1831.1L912.7 1831.1Z" fill="#7f7f7f"/><path d="M930.1 1824.3L937.2 1836.8L923.0 1836.8Z" fill="#7f7f7f"/><path d="M940.3 1830.0L947.5 1842.5L933.2 1842.5Z" fill="#7f7f7f"/><path d="M950.6 1835.7L957.7 1848.2L943.4 1848.2Z" fill="#7f7f7f"/><path d="M960.8 1841.4L967.9 1853.9L953.7 1853.9Z" fill="#7f7f7f"/><path d="M971.0 1847.1L978.2 1859.6L963.9 1859.6Z" fill="#7f7f7f"/><path d="M981.3 1852.8L988.4 1865.3L974.1 1865.3Z" fill="#7f7f7f"/><path d="M991.5 1858.5L998.6 1871.0L984.4 1871.0Z" fill="#7f7f7f"/><path d="M1001.7 1864.2L1008.9 1876.7L994.6 1876.7Z" fill="#7f7f7f"/><path d="M1012.0 1870.0L1019.1 1882.4L1004.8 1882.4Z" fill="#7f7f7f"/><path d="M1022.2 1875.7L1029.3 1888.1L1015.1 1888.1Z" fill="#7f7f7f"/><path d="M1032.4 1881.4L1039.6 1893.8L1025.3 1893.8Z" fill="#7f7f7f"/><path d="M1042.7 1887.1L1049.8 1899.5L1035.6 1899.5Z" fill="#7f7f7f"/><path d="M1052.9 1892.8L1060.0 1905.2L1045.8 1905.2Z" fill="#7f7f7f"/><path d="M1063.2 1898.5L1070.3 1910.9L1056.0 1910.9Z" fill="#7f7f7f"/>
<path d="M382.9 1610.6L393.1 1612.9L403.3 1615.1L413.5 1617.3L423.7 1619.6L433.9 1621.8L444.1 1624.0L454.3 1626.3L464.5 1628.5L474.7 1630.7L484.9 1633.0L495.1 1635.2L505.3 1637.4L515.5 1639.6L525.7 1641.9L535.8 1644.1L546.0 1646.3L556.2 1648.6L566.4 1650.8L576.6 1653.0L586.8 1655.3L597.0 1657.5L607.2 1659.7L617.4 1662.0L627.6 1664.2L637.8 1666.4L648.0 1668.6L658.2 1670.9L668.4 1673.1L678.6 1675.3L688.8 1677.6L699.0 1679.8L709.2 1682.0L719.4 1684.3L729.6 1686.5L739.8 1688.7L750.0 1691.0L760.2 1693.2L770.4 1695.4L780.6 1697.7L790.8 1703.7L801.0 1711.6L811.2 1719.6L821.3 1727.5L831.5 1735.4L841.7 1743.3L851.9 1751.2L862.1 1759.1L872.3 1767.0L882.5 1774.9L892.7 1782.8L902.9 1790.7L913.1 1798.6L923.3 1806.6L933.5 1814.5L943.7 1822.4L953.9 1830.3L964.1 1838.2L974.3 1846.1L984.5 1854.0L994.7 1861.9L1004.9 1869.8L1015.1 1877.7L1025.3 1885.7L1035.5 1893.6L1045.7 1901.5L1055.9 1909.4L1066.1 1917.3L1076.3 1925.2L1086.5 1933.2L1096.7 1941.1L1106.8 1949.0" fill="none" stroke="#7f7f7f" stroke-width="1.3"/>
<circle cx="382.9" cy="1610.6" r="6.8" fill="#7f7f7f"/><circle cx="393.1" cy="1612.9" r="6.8" fill="#7f7f7f"/><circle cx="403.3" cy="1615.1" r="6.8" fill="#7f7f7f"/><circle cx="413.5" cy="1617.3" r="6.8" fill="#7f7f7f"/><circle cx="423.7" cy="1619.6" r="6.8" fill="#7f7f7f"/><circle cx="433.9" cy="1621.8" r="6.8" fill="#7f7f7f"/><circle cx="444.1" cy="1624.0" r="6.8" fill="#7f7f7f"/><circle cx="454.3" cy="1626.3" r="6.8" fill="#7f7f7f"/><circle cx="464.5" cy="1628.5" r="6.8" fill="#7f7f7f"/><circle cx="474.7" cy="1630.7" r="6.8" fill="#7f7f7f"/><circle cx="484.9" cy="1633.0" r="6.8" fill="#7f7f7f"/><circle cx="495.1" cy="1635.2" r="6.8" fill="#7f7f7f"/><circle cx="505.3" cy="1637.4" r="6.8" fill="#7f7f7f"/><circle cx="515.5" cy="1639.6" r="6.8" fill="#7f7f7f"/><circle cx="525.7" cy="1641.9" r="6.8" fill="#7f7f7f"/><circle cx="535.8" cy="1644.1" r="6.8" fill="#7f7f7f"/><circle cx="546.0" cy="1646.3" r="6.8" fill="#7f7f7f"/><circle cx="556.2" cy="1648.6" r="6.8" fill="#7f7f7f"/><circle cx="566.4" cy="1650.8" r="6.8" fill="#7f7f7f"/><circle cx="576.6" cy="1653.0" r="6.8" fill="#7f7f7f"/><circle cx="586.8" cy="1655.3" r="6.8" fill="#7f7f7f"/><circle cx="597.0" cy="1657.5" r="6.8" fill="#7f7f7f"/><circle cx="607.2" cy="1659.7" r="6.8" fill="#7f7f7f"/><circle cx="617.4" cy="1662.0" r="6.8" fill="#7f7f7f"/><circle cx="627.6" cy="1664.2" r="6.8" fill="#7f7f7f"/><circle cx="637.8" cy="1666.4" r="6.8" fill="#7f7f7f"/><circle cx="648.0" cy="1668.6" r="6.8" fill="#7f7f7f"/><circle cx="658.2" cy="1670.9" r="6.8" fill="#7f7f7f"/><circle cx="668.4" cy="1673.1" r="6.8" fill="#7f7f7f"/><circle cx="678.6" cy="1675.3" r="6.8" fill="#7f7f7f"/><circle cx="688.8" cy="1677.6" r="6.8" fill="#7f7f7f"/><circle cx="699.0" cy="1679.8" r="6.8" fill="#7f7f7f"/><circle cx="709.2" cy="1682.0" r="6.8" fill="#7f7f7f"/><circle cx="719.4" cy="1684.3" r="6.8" fill="#7f7f7f"/><circle cx="729.6" cy="1686.5" r="6.8" fill="#7f7f7f"/><circle cx="739.8" cy="1688.7" r="6.8" fill="#7f7f7f"/><circle cx="750.0" cy="1691.0" r="6.8" fill="#7f7f7f"/><circle cx="760.2" cy="1693.2" r="6.8" fill="#7f7f7f"/><circle cx="770.4" cy="1695.4" r="6.8" fill="#7f7f7f"/><circle cx="780.6" cy="1697.7" r="6.8" fill="#7f7f7f"/><circle cx="790.8" cy="1703.7" r="6.8" fill="#7f7f7f"/><circle cx="801.0" cy="1711.6" r="6.8" fill="#7f7f7f"/><circle cx="811.2" cy="1719.6" r="6.8" fill="#7f7f7f"/><circle cx="821.3" cy="1727.5" r="6.8" fill="#7f7f7f"/><circle cx="831.5" cy="1735.4" r="6.8" fill="#7f7f7f"/><circle cx="841.7" cy="1743.3" r="6.8" fill="#7f7f7f"/><circle cx="851.9" cy="1751.2" r="6.8" fill="#7f7f7f"/><circle cx="862.1" cy="1759.1" r="6.8" fill="#7f7f7f"/><circle cx="872.3" cy="1767.0" r="6.8" fill="#7f7f7f"/><circle cx="882.5" cy="1774.9" r="6.8" fill="#7f7f7f"/><circle cx="892.7" cy="1782.8" r="6.8" fill="#7f7f7f"/><circle cx="902.9" cy="1790.7" r="6.8" fill="#7f7f7f"/><circle cx="913.1" cy="1798.6" r="6.8" fill="#7f7f7f"/><circle cx="923.3" cy="1806.6" r="6.8" fill="#7f7f7f"/><circle cx="933.5" cy="1814.5" r="6.8" fill="#7f7f7f"/><circle cx="943.7" cy="1822.4" r="6.8" fill="#7f7f7f"/><circle cx="953.9" cy="1830.3" r="6.8" fill="#7f7f7f"/><circle cx="964.1" cy="1838.2" r="6.8" fill="#7f7f7f"/><circle cx="974.3" cy="1846.1" r="6.8" fill="#7f7f7f"/><circle cx="984.5" cy="1854.0" r="6.8" fill="#7f7f7f"/><circle cx="994.7" cy="1861.9" r="6.8" fill="#7f7f7f"/><circle cx="1004.9" cy="1869.8" r="6.8" fill="#7f7f7f"/><circle cx="1015.1" cy="1877.7" r="6.8" fill="#7f7f7f"/><circle cx="1025.3" cy="1885.7" r="6.8" fill="#7f7f7f"/><circle cx="1035.5" cy="1893.6" r="6.8" fill="#7f7f7f"/><circle cx="1045.7" cy="1901.5" r="6.8" fill="#7f7f7f"/><circle cx="1055.9" cy="1909.4" r="6.8" fill="#7f7f7f"/><circle cx="1066.1" cy="1917.3" r="6.8" fill="#7f7f7f"/><circle cx="1076.3" cy="1925.2" r="6.8" fill="#7f7f7f"/><circle cx="1086.5" cy="1933.2" r="6.8" fill="#7f7f7f"/><circle cx="1096.7" cy="1941.1" r="6.8" fill="#7f7f7f"/><circle cx="1106.8" cy="1949.0" r="6.8" fill="#7f7f7f"/>
<path d="M399.7 1631.1L409.9 1632.9L420.2 1634.7L430.4 1636.5L440.7 1638.3L450.9 1640.1L461.2 1641.9L471.4 1643.7L481.7 1645.5L491.9 1647.3L502.2 1649.1L512.4 1650.9L522.7 1652.7L532.9 1654.4L543.2 1656.2L553.4 1658.0L563.7 1659.8L573.9 1661.6L584.2 1663.4L594.4 1665.2L604.7 1667.0L614.9 1668.8L625.2 1670.6L635.4 1672.4L645.7 1674.2L655.9 1676.0L666.2 1677.8L676.4 1679.6L686.7 1681.4L696.9 1683.2L707.2 1684.9L717.4 1686.7L727.7 1688.5L737.9 1690.3L748.2 1692.1L758.4 1693.9L768.7 1695.7L778.9 1697.5L789.2 1702.8L799.4 1711.4L809.7 1720.0L819.9 1728.6L830.2 1737.2L840.4 1745.8L850.7 1750.7L860.9 1754.7L871.2 1758.8L881.4 1762.9L891.7 1766.9L901.9 1771.0L912.2 1775.0L922.4 1779.1L932.7 1783.2L942.9 1787.2L953.2 1791.3L963.4 1795.4L973.7 1799.4L983.9 1803.5L994.2 1807.6L1004.4 1811.6L1014.7 1815.7L1024.9 1819.8L1035.2 1823.8L1045.4 1827.5L1055.7 1830.8L1065.9 1834.0L1076.2 1837.3L1086.4 1840.6L1096.7 1843.9" fill="none" stroke="#7f7f7f" stroke-width="1.3"/>
<path d="M393.4 1624.9L405.9 1637.4M405.9 1624.9L393.4 1637.4" stroke="#7f7f7f" stroke-width="1.9" fill="none"/><path d="M403.6 1626.7L416.2 1639.2M416.2 1626.7L403.6 1639.2" stroke="#7f7f7f" stroke-width="1.9" fill="none"/><path d="M413.9 1628.4L426.4 1641.0M426.4 1628.4L413.9 1641.0" stroke="#7f7f7f" stroke-width="1.9" fill="none"/><path d="M424.1 1630.2L436.7 1642.8M436.7 1630.2L424.1 1642.8" stroke="#7f7f7f" stroke-width="1.9" fill="none"/><path d="M434.4 1632.0L446.9 1644.6M446.9 1632.0L434.4 1644.6" stroke="#7f7f7f" stroke-width="1.9" fill="none"/><path d="M444.6 1633.8L457.2 1646.4M457.2 1633.8L444.6 1646.4" stroke="#7f7f7f" stroke-width="1.9" fill="none"/><path d="M454.9 1635.6L467.4 1648.2M467.4 1635.6L454.9 1648.2" stroke="#7f7f7f" stroke-width="1.9" fill="none"/><path d="M465.1 1637.4L477.7 1649.9M477.7 1637.4L465.1 1649.9" stroke="#7f7f7f" stroke-width="1.9" fill="none"/><path d="M475.4 1639.2L487.9 1651.7M487.9 1639.2L475.4 1651.7" stroke="#7f7f7f" stroke-width="1.9" fill="none"/><path d="M485.6 1641.0L498.2 1653.5M498.2 1641.0L485.6 1653.5" stroke="#7f7f7f" stroke-width="1.9" fill="none"/><path d="M495.9 1642.8L508.4 1655.3M508.4 1642.8L495.9 1655.3" stroke="#7f7f7f" stroke-width="1.9" fill="none"/><path d="M506.1 1644.6L518.7 1657.1M518.7 1644.6L506.1 1657.1" stroke="#7f7f7f" stroke-width="1.9" fill="none"/><path d="M516.4 1646.4L528.9 1658.9M528.9 1646.4L516.4 1658.9" stroke="#7f7f7f" stroke-width="1.9" fill="none"/><path d="M526.6 1648.2L539.2 1660.7M539.2 1648.2L526.6 1660.7" stroke="#7f7f7f" stroke-width="1.9" fill="none"/><path d="M536.9 1650.0L549.4 1662.5M549.4 1650.0L536.9 1662.5" stroke="#7f7f7f" stroke-width="1.9" fill="none"/><path d="M547.1 1651.8L559.7 1664.3M559.7 1651.8L547.1 1664.3" stroke="#7f7f7f" stroke-width="1.9" fill="none"/><path d="M557.4 1653.6L569.9 1666.1M569.9 1653.6L557.4 1666.1" stroke="#7f7f7f" stroke-width="1.9" fill="none"/><path d="M567.6 1655.4L580.2 1667.9M580.2 1655.4L567.6 1667.9" stroke="#7f7f7f" stroke-width="1.9" fill="none"/><path d="M577.9 1657.2L590.4 1669.7M590.4 1657.2L577.9 1669.7" stroke="#7f7f7f" stroke-width="1.9" fill="none"/><path d="M588.1 1658.9L600.7 1671.5M600.7 1658.9L588.1 1671.5" stroke="#7f7f7f" stroke-width="1.9" fill="none"/><path d="M598.4 1660.7L610.9 1673.3M610.9 1660.7L598.4 1673.3" stroke="#7f7f7f" stroke-width="1.9" fill="none"/><path d="M608.6 1662.5L621.2 1675.1M621.2 1662.5L608.6 1675.1" stroke="#7f7f7f" stroke-width="1.9" fill="none"/><path d="M618.9 1664.3L631.4 1676.9M631.4 1664.3L618.9 1676.9" stroke="#7f7f7f" stroke-width="1.9" fill="none"/><path d="M629.1 1666.1L641.7 1678.7M641.7 1666.1L629.1 1678.7" stroke="#7f7f7f" stroke-width="1.9" fill="none"/><path d="M639.4 1667.9L651.9 1680.4M651.9 1667.9L639.4 1680.4" stroke="#7f7f7f" stroke-width="1.9" fill="none"/><path d="M649.6 1669.7L662.2 1682.2M662.2 1669.7L649.6 1682.2" stroke="#7f7f7f" stroke-width="1.9" fill="none"/><path d="M659.9 1671.5L672.4 1684.0M672.4 1671.5L659.9 1684.0" stroke="#7f7f7f" stroke-width="1.9" fill="none"/><path d="M670.1 1673.3L682.7 1685.8M682.7 1673.3L670.1 1685.8" stroke="#7f7f7f" stroke-width="1.9" fill="none"/><path d="M680.4 1675.1L692.9 1687.6M692.9 1675.1L680.4 1687.6" stroke="#7f7f7f" stroke-width="1.9" fill="none"/><path d="M690.6 1676.9L703.2 1689.4M703.2 1676.9L690.6 1689.4" stroke="#7f7f7f" stroke-width="1.9" fill="none"/><path d="M700.9 1678.7L713.4 1691.2M713.4 1678.7L700.9 1691.2" stroke="#7f7f7f" stroke-width="1.9" fill="none"/><path d="M711.1 1680.5L723.7 1693.0M723.7 1680.5L711.1 1693.0" stroke="#7f7f7f" stroke-width="1.9" fill="none"/><path d="M721.4 1682.3L733.9 1694.8M733.9 1682.3L721.4 1694.8" stroke="#7f7f7f" stroke-width="1.9" fill="none"/><path d="M731.6 1684.1L744.2 1696.6M744.2 1684.1L731.6 1696.6" stroke="#7f7f7f" stroke-width="1.9" fill="none"/><path d="M741.9 1685.9L754.4 1698.4M754.4 1685.9L741.9 1698.4" stroke="#7f7f7f" stroke-width="1.9" fill="none"/><path d="M752.1 1687.7L764.7 1700.2M764.7 1687.7L752.1 1700.2" stroke="#7f7f7f" stroke-width="1.9" fill="none"/><path d="M762.4 1689.4L774.9 1702.0M774.9 1689.4L762.4 1702.0" stroke="#7f7f7f" stroke-width="1.9" fill="none"/><path d="M772.6 1691.2L785.2 1703.8M785.2 1691.2L772.6 1703.8" stroke="#7f7f7f" stroke-width="1.9" fill="none"/><path d="M782.9 1696.6L795.4 1709.1M795.4 1696.6L782.9 1709.1" stroke="#7f7f7f" stroke-width="1.9" fill="none"/><path d="M793.1 1705.2L805.7 1717.7M805.7 1705.2L793.1 1717.7" stroke="#7f7f7f" stroke-width="1.9" fill="none"/><path d="M803.4 1713.8L815.9 1726.3M815.9 1713.8L803.4 1726.3" stroke="#7f7f7f" stroke-width="1.9" fill="none"/><path d="M813.6 1722.4L826.2 1734.9M826.2 1722.4L813.6 1734.9" stroke="#7f7f7f" stroke-width="1.9" fill="none"/><path d="M823.9 1731.0L836.4 1743.5M836.4 1731.0L823.9 1743.5" stroke="#7f7f7f" stroke-width="1.9" fill="none"/><path d="M834.1 1739.6L846.7 1752.1M846.7 1739.6L834.1 1752.1" stroke="#7f7f7f" stroke-width="1.9" fill="none"/><path d="M844.4 1744.4L856.9 1756.9M856.9 1744.4L844.4 1756.9" stroke="#7f7f7f" stroke-width="1.9" fill="none"/><path d="M854.6 1748.5L867.2 1761.0M867.2 1748.5L854.6 1761.0" stroke="#7f7f7f" stroke-width="1.9" fill="none"/><path d="M864.9 1752.5L877.4 1765.1M877.4 1752.5L864.9 1765.1" stroke="#7f7f7f" stroke-width="1.9" fill="none"/><path d="M875.1 1756.6L887.7 1769.1M887.7 1756.6L875.1 1769.1" stroke="#7f7f7f" stroke-width="1.9" fill="none"/><path d="M885.4 1760.7L897.9 1773.2M897.9 1760.7L885.4 1773.2" stroke="#7f7f7f" stroke-width="1.9" fill="none"/><path d="M895.6 1764.7L908.2 1777.2M908.2 1764.7L895.6 1777.2" stroke="#7f7f7f" stroke-width="1.9" fill="none"/><path d="M905.9 1768.8L918.4 1781.3M918.4 1768.8L905.9 1781.3" stroke="#7f7f7f" stroke-width="1.9" fill="none"/><path d="M916.1 1772.8L928.7 1785.4M928.7 1772.8L916.1 1785.4" stroke="#7f7f7f" stroke-width="1.9" fill="none"/><path d="M926.4 1776.9L938.9 1789.4M938.9 1776.9L926.4 1789.4" stroke="#7f7f7f" stroke-width="1.9" fill="none"/><path d="M936.6 1781.0L949.2 1793.5M949.2 1781.0L936.6 1793.5" stroke="#7f7f7f" stroke-width="1.9" fill="none"/><path d="M946.9 1785.0L959.4 1797.6M959.4 1785.0L946.9 1797.6" stroke="#7f7f7f" stroke-width="1.9" fill="none"/><path d="M957.1 1789.1L969.7 1801.6M969.7 1789.1L957.1 1801.6" stroke="#7f7f7f" stroke-width="1.9" fill="none"/><path d="M967.4 1793.2L979.9 1805.7M979.9 1793.2L967.4 1805.7" stroke="#7f7f7f" stroke-width="1.9" fill="none"/><path d="M977.6 1797.2L990.2 1809.8M990.2 1797.2L977.6 1809.8" stroke="#7f7f7f" stroke-width="1.9" fill="none"/><path d="M987.9 1801.3L1000.4 1813.8M1000.4 1801.3L987.9 1813.8" stroke="#7f7f7f" stroke-width="1.9" fill="none"/><path d="M998.1 1805.4L1010.7 1817.9M1010.7 1805.4L998.1 1817.9" stroke="#7f7f7f" stroke-width="1.9" fill="none"/><path d="M1008.4 1809.4L1020.9 1822.0M1020.9 1809.4L1008.4 1822.0" stroke="#7f7f7f" stroke-width="1.9" fill="none"/><path d="M1018.6 1813.5L1031.2 1826.0M1031.2 1813.5L1018.6 1826.0" stroke="#7f7f7f" stroke-width="1.9" fill="none"/><path d="M1028.9 1817.6L1041.4 1830.1M1041.4 1817.6L1028.9 1830.1" stroke="#7f7f7f" stroke-width="1.9" fill="none"/><path d="M1039.1 1821.2L1051.7 1833.7M1051.7 1821.2L1039.1 1833.7" stroke="#7f7f7f" stroke-width="1.9" fill="none"/><path d="M1049.4 1824.5L1061.9 1837.0M1061.9 1824.5L1049.4 1837.0" stroke="#7f7f7f" stroke-width="1.9" fill="none"/><path d="M1059.6 1827.8L1072.2 1840.3M1072.2 1827.8L1059.6 1840.3" stroke="#7f7f7f" stroke-width="1.9" fill="none"/><path d="M1069.9 1831.0L1082.4 1843.6M1082.4 1831.0L1069.9 1843.6" stroke="#7f7f7f" stroke-width="1.9" fill="none"/><path d="M1080.1 1834.3L1092.7 1846.8M1092.7 1834.3L1080.1 1846.8" stroke="#7f7f7f" stroke-width="1.9" fill="none"/><path d="M1090.4 1837.6L1102.9 1850.1M1102.9 1837.6L1090.4 1850.1" stroke="#7f7f7f" stroke-width="1.9" fill="none"/>
<path d="M414.9 1625.0L425.1 1627.2L435.3 1629.4L445.5 1631.6L455.6 1633.8L465.8 1636.0L476.0 1638.2L486.2 1640.4L496.3 1642.5L506.5 1644.7L516.7 1646.9L526.9 1649.1L537.0 1651.3L547.2 1653.5L557.4 1655.7L567.6 1657.9L577.7 1660.1L587.9 1662.3L598.1 1664.5L608.3 1666.7L618.4 1668.8L628.6 1671.0L638.8 1673.2L649.0 1675.4L659.1 1677.6L669.3 1679.8L679.5 1682.0L689.7 1684.2L699.8 1686.4L710.0 1688.6L720.2 1690.8L730.4 1693.0L740.5 1695.2L750.7 1697.3L760.9 1699.5L771.1 1701.7L781.2 1703.9L791.4 1710.0L801.6 1717.5L811.8 1724.9L821.9 1732.4L832.1 1739.9L842.3 1747.3L852.5 1754.8L862.6 1762.2L872.8 1769.7L883.0 1777.1L893.2 1784.6L903.3 1792.0L913.5 1799.5L923.7 1807.0L933.9 1814.4L944.0 1821.9L954.2 1829.3L964.4 1836.8L974.6 1844.2L984.7 1851.7L994.9 1859.2L1005.1 1866.6L1015.3 1874.1L1025.4 1881.5L1035.6 1889.0L1045.8 1896.4L1056.0 1903.9L1066.1 1911.3L1076.3 1918.8L1086.5 1926.3L1096.7 1933.7" fill="none" stroke="#7f7f7f" stroke-width="1.3"/>
<path d="M408.9 1625.0L421.0 1625.0M414.9 1619.0L414.9 1631.1" stroke="#7f7f7f" stroke-width="1.9" fill="none"/><path d="M419.1 1627.2L431.2 1627.2M425.1 1621.2L425.1 1633.3" stroke="#7f7f7f" stroke-width="1.9" fill="none"/><path d="M429.2 1629.4L441.3 1629.4M435.3 1623.3L435.3 1635.4" stroke="#7f7f7f" stroke-width="1.9" fill="none"/><path d="M439.4 1631.6L451.5 1631.6M445.5 1625.5L445.5 1637.6" stroke="#7f7f7f" stroke-width="1.9" fill="none"/><path d="M449.6 1633.8L461.7 1633.8M455.6 1627.7L455.6 1639.8" stroke="#7f7f7f" stroke-width="1.9" fill="none"/><path d="M459.8 1636.0L471.9 1636.0M465.8 1629.9L465.8 1642.0" stroke="#7f7f7f" stroke-width="1.9" fill="none"/><path d="M469.9 1638.2L482.0 1638.2M476.0 1632.1L476.0 1644.2" stroke="#7f7f7f" stroke-width="1.9" fill="none"/><path d="M480.1 1640.4L492.2 1640.4M486.2 1634.3L486.2 1646.4" stroke="#7f7f7f" stroke-width="1.9" fill="none"/><path d="M490.3 1642.5L502.4 1642.5M496.3 1636.5L496.3 1648.6" stroke="#7f7f7f" stroke-width="1.9" fill="none"/><path d="M500.5 1644.7L512.6 1644.7M506.5 1638.7L506.5 1650.8" stroke="#7f7f7f" stroke-width="1.9" fill="none"/><path d="M510.6 1646.9L522.7 1646.9M516.7 1640.9L516.7 1653.0" stroke="#7f7f7f" stroke-width="1.9" fill="none"/><path d="M520.8 1649.1L532.9 1649.1M526.9 1643.1L526.9 1655.2" stroke="#7f7f7f" stroke-width="1.9" fill="none"/><path d="M531.0 1651.3L543.1 1651.3M537.0 1645.3L537.0 1657.4" stroke="#7f7f7f" stroke-width="1.9" fill="none"/><path d="M541.2 1653.5L553.3 1653.5M547.2 1647.5L547.2 1659.6" stroke="#7f7f7f" stroke-width="1.9" fill="none"/><path d="M551.3 1655.7L563.4 1655.7M557.4 1649.7L557.4 1661.7" stroke="#7f7f7f" stroke-width="1.9" fill="none"/><path d="M561.5 1657.9L573.6 1657.9M567.6 1651.8L567.6 1663.9" stroke="#7f7f7f" stroke-width="1.9" fill="none"/><path d="M571.7 1660.1L583.8 1660.1M577.7 1654.0L577.7 1666.1" stroke="#7f7f7f" stroke-width="1.9" fill="none"/><path d="M581.9 1662.3L594.0 1662.3M587.9 1656.2L587.9 1668.3" stroke="#7f7f7f" stroke-width="1.9" fill="none"/><path d="M592.0 1664.5L604.1 1664.5M598.1 1658.4L598.1 1670.5" stroke="#7f7f7f" stroke-width="1.9" fill="none"/><path d="M602.2 1666.7L614.3 1666.7M608.3 1660.6L608.3 1672.7" stroke="#7f7f7f" stroke-width="1.9" fill="none"/><path d="M612.4 1668.8L624.5 1668.8M618.4 1662.8L618.4 1674.9" stroke="#7f7f7f" stroke-width="1.9" fill="none"/><path d="M622.6 1671.0L634.7 1671.0M628.6 1665.0L628.6 1677.1" stroke="#7f7f7f" stroke-width="1.9" fill="none"/><path d="M632.7 1673.2L644.8 1673.2M638.8 1667.2L638.8 1679.3" stroke="#7f7f7f" stroke-width="1.9" fill="none"/><path d="M642.9 1675.4L655.0 1675.4M649.0 1669.4L649.0 1681.5" stroke="#7f7f7f" stroke-width="1.9" fill="none"/><path d="M653.1 1677.6L665.2 1677.6M659.1 1671.6L659.1 1683.7" stroke="#7f7f7f" stroke-width="1.9" fill="none"/><path d="M663.3 1679.8L675.4 1679.8M669.3 1673.8L669.3 1685.9" stroke="#7f7f7f" stroke-width="1.9" fill="none"/><path d="M673.4 1682.0L685.5 1682.0M679.5 1676.0L679.5 1688.0" stroke="#7f7f7f" stroke-width="1.9" fill="none"/><path d="M683.6 1684.2L695.7 1684.2M689.7 1678.1L689.7 1690.2" stroke="#7f7f7f" stroke-width="1.9" fill="none"/><path d="M693.8 1686.4L705.9 1686.4M699.8 1680.3L699.8 1692.4" stroke="#7f7f7f" stroke-width="1.9" fill="none"/><path d="M704.0 1688.6L716.1 1688.6M710.0 1682.5L710.0 1694.6" stroke="#7f7f7f" stroke-width="1.9" fill="none"/><path d="M714.1 1690.8L726.2 1690.8M720.2 1684.7L720.2 1696.8" stroke="#7f7f7f" stroke-width="1.9" fill="none"/><path d="M724.3 1693.0L736.4 1693.0M730.4 1686.9L730.4 1699.0" stroke="#7f7f7f" stroke-width="1.9" fill="none"/><path d="M734.5 1695.2L746.6 1695.2M740.5 1689.1L740.5 1701.2" stroke="#7f7f7f" stroke-width="1.9" fill="none"/><path d="M744.7 1697.3L756.8 1697.3M750.7 1691.3L750.7 1703.4" stroke="#7f7f7f" stroke-width="1.9" fill="none"/><path d="M754.8 1699.5L766.9 1699.5M760.9 1693.5L760.9 1705.6" stroke="#7f7f7f" stroke-width="1.9" fill="none"/><path d="M765.0 1701.7L777.1 1701.7M771.1 1695.7L771.1 1707.8" stroke="#7f7f7f" stroke-width="1.9" fill="none"/><path d="M775.2 1703.9L787.3 1703.9M781.2 1697.9L781.2 1710.0" stroke="#7f7f7f" stroke-width="1.9" fill="none"/><path d="M785.4 1710.0L797.5 1710.0M791.4 1704.0L791.4 1716.1" stroke="#7f7f7f" stroke-width="1.9" fill="none"/><path d="M795.5 1717.5L807.6 1717.5M801.6 1711.4L801.6 1723.5" stroke="#7f7f7f" stroke-width="1.9" fill="none"/><path d="M805.7 1724.9L817.8 1724.9M811.8 1718.9L811.8 1731.0" stroke="#7f7f7f" stroke-width="1.9" fill="none"/><path d="M815.9 1732.4L828.0 1732.4M821.9 1726.4L821.9 1738.4" stroke="#7f7f7f" stroke-width="1.9" fill="none"/><path d="M826.1 1739.9L838.2 1739.9M832.1 1733.8L832.1 1745.9" stroke="#7f7f7f" stroke-width="1.9" fill="none"/><path d="M836.2 1747.3L848.3 1747.3M842.3 1741.3L842.3 1753.4" stroke="#7f7f7f" stroke-width="1.9" fill="none"/><path d="M846.4 1754.8L858.5 1754.8M852.5 1748.7L852.5 1760.8" stroke="#7f7f7f" stroke-width="1.9" fill="none"/><path d="M856.6 1762.2L868.7 1762.2M862.6 1756.2L862.6 1768.3" stroke="#7f7f7f" stroke-width="1.9" fill="none"/><path d="M866.8 1769.7L878.9 1769.7M872.8 1763.6L872.8 1775.7" stroke="#7f7f7f" stroke-width="1.9" fill="none"/><path d="M876.9 1777.1L889.0 1777.1M883.0 1771.1L883.0 1783.2" stroke="#7f7f7f" stroke-width="1.9" fill="none"/><path d="M887.1 1784.6L899.2 1784.6M893.2 1778.5L893.2 1790.6" stroke="#7f7f7f" stroke-width="1.9" fill="none"/><path d="M897.3 1792.0L909.4 1792.0M903.3 1786.0L903.3 1798.1" stroke="#7f7f7f" stroke-width="1.9" fill="none"/><path d="M907.5 1799.5L919.6 1799.5M913.5 1793.5L913.5 1805.6" stroke="#7f7f7f" stroke-width="1.9" fill="none"/><path d="M917.6 1807.0L929.7 1807.0M923.7 1800.9L923.7 1813.0" stroke="#7f7f7f" stroke-width="1.9" fill="none"/><path d="M927.8 1814.4L939.9 1814.4M933.9 1808.4L933.9 1820.5" stroke="#7f7f7f" stroke-width="1.9" fill="none"/><path d="M938.0 1821.9L950.1 1821.9M944.0 1815.8L944.0 1827.9" stroke="#7f7f7f" stroke-width="1.9" fill="none"/><path d="M948.2 1829.3L960.3 1829.3M954.2 1823.3L954.2 1835.4" stroke="#7f7f7f" stroke-width="1.9" fill="none"/><path d="M958.3 1836.8L970.4 1836.8M964.4 1830.7L964.4 1842.8" stroke="#7f7f7f" stroke-width="1.9" fill="none"/><path d="M968.5 1844.2L980.6 1844.2M974.6 1838.2L974.6 1850.3" stroke="#7f7f7f" stroke-width="1.9" fill="none"/><path d="M978.7 1851.7L990.8 1851.7M984.7 1845.7L984.7 1857.7" stroke="#7f7f7f" stroke-width="1.9" fill="none"/><path d="M988.9 1859.2L1001.0 1859.2M994.9 1853.1L994.9 1865.2" stroke="#7f7f7f" stroke-width="1.9" fill="none"/><path d="M999.0 1866.6L1011.1 1866.6M1005.1 1860.6L1005.1 1872.7" stroke="#7f7f7f" stroke-width="1.9" fill="none"/><path d="M1009.2 1874.1L1021.3 1874.1M1015.3 1868.0L1015.3 1880.1" stroke="#7f7f7f" stroke-width="1.9" fill="none"/><path d="M1019.4 1881.5L1031.5 1881.5M1025.4 1875.5L1025.4 1887.6" stroke="#7f7f7f" stroke-width="1.9" fill="none"/><path d="M1029.6 1889.0L1041.7 1889.0M1035.6 1882.9L1035.6 1895.0" stroke="#7f7f7f" stroke-width="1.9" fill="none"/><path d="M1039.7 1896.4L1051.8 1896.4M1045.8 1890.4L1045.8 1902.5" stroke="#7f7f7f" stroke-width="1.9" fill="none"/><path d="M1049.9 1903.9L1062.0 1903.9M1056.0 1897.8L1056.0 1909.9" stroke="#7f7f7f" stroke-width="1.9" fill="none"/><path d="M1060.1 1911.3L1072.2 1911.3M1066.1 1905.3L1066.1 1917.4" stroke="#7f7f7f" stroke-width="1.9" fill="none"/><path d="M1070.3 1918.8L1082.4 1918.8M1076.3 1912.8L1076.3 1924.9" stroke="#7f7f7f" stroke-width="1.9" fill="none"/><path d="M1080.4 1926.3L1092.5 1926.3M1086.5 1920.2L1086.5 1932.3" stroke="#7f7f7f" stroke-width="1.9" fill="none"/><path d="M1090.6 1933.7L1102.7 1933.7M1096.7 1927.7L1096.7 1939.8" stroke="#7f7f7f" stroke-width="1.9" fill="none"/>
<path d="M419.7 1631.1L429.9 1633.3L440.2 1635.4L450.5 1637.6L460.7 1639.7L471.0 1641.9L481.2 1644.0L491.5 1646.2L501.7 1648.3L512.0 1650.5L522.3 1652.6L532.5 1654.8L542.8 1657.0L553.0 1659.1L563.3 1661.3L573.5 1663.4L583.8 1665.6L594.1 1667.7L604.3 1669.9L614.6 1672.0L624.8 1674.2L635.1 1676.3L645.3 1678.5L655.6 1680.6L665.9 1682.8L676.1 1684.9L686.4 1687.1L696.6 1689.2L706.9 1691.4L717.1 1693.5L727.4 1695.7L737.7 1697.8L747.9 1700.0L758.2 1702.2L768.4 1704.3L778.7 1706.5L788.9 1711.2L799.2 1718.5L809.5 1725.8L819.7 1733.1L830.0 1740.4L840.2 1747.8L850.5 1755.1L860.7 1762.4L871.0 1769.7L881.3 1777.0L891.5 1784.3L901.8 1791.7L912.0 1799.0L922.3 1806.3L932.5 1813.6L942.8 1820.9L953.1 1828.2L963.3 1835.6L973.6 1842.9L983.8 1850.2L994.1 1857.5L1004.3 1864.8L1014.6 1872.1L1024.9 1879.4L1035.1 1886.8L1045.4 1894.1L1055.6 1901.4L1065.9 1908.7L1076.1 1916.0L1086.4 1923.3L1096.7 1930.7" fill="none" stroke="#7f7f7f" stroke-width="1.3"/>
<path d="M413.4 1624.9L425.9 1637.4M425.9 1624.9L413.4 1637.4M419.7 1624.9L419.7 1637.4" stroke="#7f7f7f" stroke-width="1.9" fill="none"/><path d="M423.7 1627.0L436.2 1639.5M436.2 1627.0L423.7 1639.5M429.9 1627.0L429.9 1639.5" stroke="#7f7f7f" stroke-width="1.9" fill="none"/><path d="M433.9 1629.2L446.5 1641.7M446.5 1629.2L433.9 1641.7M440.2 1629.2L440.2 1641.7" stroke="#7f7f7f" stroke-width="1.9" fill="none"/><path d="M444.2 1631.3L456.7 1643.8M456.7 1631.3L444.2 1643.8M450.5 1631.3L450.5 1643.8" stroke="#7f7f7f" stroke-width="1.9" fill="none"/><path d="M454.4 1633.5L467.0 1646.0M467.0 1633.5L454.4 1646.0M460.7 1633.5L460.7 1646.0" stroke="#7f7f7f" stroke-width="1.9" fill="none"/><path d="M464.7 1635.6L477.2 1648.2M477.2 1635.6L464.7 1648.2M471.0 1635.6L471.0 1648.2" stroke="#7f7f7f" stroke-width="1.9" fill="none"/><path d="M475.0 1637.8L487.5 1650.3M487.5 1637.8L475.0 1650.3M481.2 1637.8L481.2 1650.3" stroke="#7f7f7f" stroke-width="1.9" fill="none"/><path d="M485.2 1639.9L497.7 1652.5M497.7 1639.9L485.2 1652.5M491.5 1639.9L491.5 1652.5" stroke="#7f7f7f" stroke-width="1.9" fill="none"/><path d="M495.5 1642.1L508.0 1654.6M508.0 1642.1L495.5 1654.6M501.7 1642.1L501.7 1654.6" stroke="#7f7f7f" stroke-width="1.9" fill="none"/><path d="M505.7 1644.2L518.3 1656.8M518.3 1644.2L505.7 1656.8M512.0 1644.2L512.0 1656.8" stroke="#7f7f7f" stroke-width="1.9" fill="none"/><path d="M516.0 1646.4L528.5 1658.9M528.5 1646.4L516.0 1658.9M522.3 1646.4L522.3 1658.9" stroke="#7f7f7f" stroke-width="1.9" fill="none"/><path d="M526.2 1648.5L538.8 1661.1M538.8 1648.5L526.2 1661.1M532.5 1648.5L532.5 1661.1" stroke="#7f7f7f" stroke-width="1.9" fill="none"/><path d="M536.5 1650.7L549.0 1663.2M549.0 1650.7L536.5 1663.2M542.8 1650.7L542.8 1663.2" stroke="#7f7f7f" stroke-width="1.9" fill="none"/><path d="M546.8 1652.8L559.3 1665.4M559.3 1652.8L546.8 1665.4M553.0 1652.8L553.0 1665.4" stroke="#7f7f7f" stroke-width="1.9" fill="none"/><path d="M557.0 1655.0L569.5 1667.5M569.5 1655.0L557.0 1667.5M563.3 1655.0L563.3 1667.5" stroke="#7f7f7f" stroke-width="1.9" fill="none"/><path d="M567.3 1657.1L579.8 1669.7M579.8 1657.1L567.3 1669.7M573.5 1657.1L573.5 1669.7" stroke="#7f7f7f" stroke-width="1.9" fill="none"/><path d="M577.5 1659.3L590.1 1671.8M590.1 1659.3L577.5 1671.8M583.8 1659.3L583.8 1671.8" stroke="#7f7f7f" stroke-width="1.9" fill="none"/><path d="M587.8 1661.4L600.3 1674.0M600.3 1661.4L587.8 1674.0M594.1 1661.4L594.1 1674.0" stroke="#7f7f7f" stroke-width="1.9" fill="none"/><path d="M598.0 1663.6L610.6 1676.1M610.6 1663.6L598.0 1676.1M604.3 1663.6L604.3 1676.1" stroke="#7f7f7f" stroke-width="1.9" fill="none"/><path d="M608.3 1665.8L620.8 1678.3M620.8 1665.8L608.3 1678.3M614.6 1665.8L614.6 1678.3" stroke="#7f7f7f" stroke-width="1.9" fill="none"/><path d="M618.6 1667.9L631.1 1680.4M631.1 1667.9L618.6 1680.4M624.8 1667.9L624.8 1680.4" stroke="#7f7f7f" stroke-width="1.9" fill="none"/><path d="M628.8 1670.1L641.3 1682.6M641.3 1670.1L628.8 1682.6M635.1 1670.1L635.1 1682.6" stroke="#7f7f7f" stroke-width="1.9" fill="none"/><path d="M639.1 1672.2L651.6 1684.7M651.6 1672.2L639.1 1684.7M645.3 1672.2L645.3 1684.7" stroke="#7f7f7f" stroke-width="1.9" fill="none"/><path d="M649.3 1674.4L661.9 1686.9M661.9 1674.4L649.3 1686.9M655.6 1674.4L655.6 1686.9" stroke="#7f7f7f" stroke-width="1.9" fill="none"/><path d="M659.6 1676.5L672.1 1689.0M672.1 1676.5L659.6 1689.0M665.9 1676.5L665.9 1689.0" stroke="#7f7f7f" stroke-width="1.9" fill="none"/><path d="M669.8 1678.7L682.4 1691.2M682.4 1678.7L669.8 1691.2M676.1 1678.7L676.1 1691.2" stroke="#7f7f7f" stroke-width="1.9" fill="none"/><path d="M680.1 1680.8L692.6 1693.3M692.6 1680.8L680.1 1693.3M686.4 1680.8L686.4 1693.3" stroke="#7f7f7f" stroke-width="1.9" fill="none"/><path d="M690.4 1683.0L702.9 1695.5M702.9 1683.0L690.4 1695.5M696.6 1683.0L696.6 1695.5" stroke="#7f7f7f" stroke-width="1.9" fill="none"/><path d="M700.6 1685.1L713.1 1697.7M713.1 1685.1L700.6 1697.7M706.9 1685.1L706.9 1697.7" stroke="#7f7f7f" stroke-width="1.9" fill="none"/><path d="M710.9 1687.3L723.4 1699.8M723.4 1687.3L710.9 1699.8M717.1 1687.3L717.1 1699.8" stroke="#7f7f7f" stroke-width="1.9" fill="none"/><path d="M721.1 1689.4L733.7 1702.0M733.7 1689.4L721.1 1702.0M727.4 1689.4L727.4 1702.0" stroke="#7f7f7f" stroke-width="1.9" fill="none"/><path d="M731.4 1691.6L743.9 1704.1M743.9 1691.6L731.4 1704.1M737.7 1691.6L737.7 1704.1" stroke="#7f7f7f" stroke-width="1.9" fill="none"/><path d="M741.6 1693.7L754.2 1706.3M754.2 1693.7L741.6 1706.3M747.9 1693.7L747.9 1706.3" stroke="#7f7f7f" stroke-width="1.9" fill="none"/><path d="M751.9 1695.9L764.4 1708.4M764.4 1695.9L751.9 1708.4M758.2 1695.9L758.2 1708.4" stroke="#7f7f7f" stroke-width="1.9" fill="none"/><path d="M762.2 1698.0L774.7 1710.6M774.7 1698.0L762.2 1710.6M768.4 1698.0L768.4 1710.6" stroke="#7f7f7f" stroke-width="1.9" fill="none"/><path d="M772.4 1700.2L784.9 1712.7M784.9 1700.2L772.4 1712.7M778.7 1700.2L778.7 1712.7" stroke="#7f7f7f" stroke-width="1.9" fill="none"/><path d="M782.7 1704.9L795.2 1717.4M795.2 1704.9L782.7 1717.4M788.9 1704.9L788.9 1717.4" stroke="#7f7f7f" stroke-width="1.9" fill="none"/><path d="M792.9 1712.2L805.5 1724.8M805.5 1712.2L792.9 1724.8M799.2 1712.2L799.2 1724.8" stroke="#7f7f7f" stroke-width="1.9" fill="none"/><path d="M803.2 1719.5L815.7 1732.1M815.7 1719.5L803.2 1732.1M809.5 1719.5L809.5 1732.1" stroke="#7f7f7f" stroke-width="1.9" fill="none"/><path d="M813.4 1726.9L826.0 1739.4M826.0 1726.9L813.4 1739.4M819.7 1726.9L819.7 1739.4" stroke="#7f7f7f" stroke-width="1.9" fill="none"/><path d="M823.7 1734.2L836.2 1746.7M836.2 1734.2L823.7 1746.7M830.0 1734.2L830.0 1746.7" stroke="#7f7f7f" stroke-width="1.9" fill="none"/><path d="M834.0 1741.5L846.5 1754.0M846.5 1741.5L834.0 1754.0M840.2 1741.5L840.2 1754.0" stroke="#7f7f7f" stroke-width="1.9" fill="none"/><path d="M844.2 1748.8L856.7 1761.3M856.7 1748.8L844.2 1761.3M850.5 1748.8L850.5 1761.3" stroke="#7f7f7f" stroke-width="1.9" fill="none"/><path d="M854.5 1756.1L867.0 1768.7M867.0 1756.1L854.5 1768.7M860.7 1756.1L860.7 1768.7" stroke="#7f7f7f" stroke-width="1.9" fill="none"/><path d="M864.7 1763.4L877.3 1776.0M877.3 1763.4L864.7 1776.0M871.0 1763.4L871.0 1776.0" stroke="#7f7f7f" stroke-width="1.9" fill="none"/><path d="M875.0 1770.8L887.5 1783.3M887.5 1770.8L875.0 1783.3M881.3 1770.8L881.3 1783.3" stroke="#7f7f7f" stroke-width="1.9" fill="none"/><path d="M885.2 1778.1L897.8 1790.6M897.8 1778.1L885.2 1790.6M891.5 1778.1L891.5 1790.6" stroke="#7f7f7f" stroke-width="1.9" fill="none"/><path d="M895.5 1785.4L908.0 1797.9M908.0 1785.4L895.5 1797.9M901.8 1785.4L901.8 1797.9" stroke="#7f7f7f" stroke-width="1.9" fill="none"/><path d="M905.8 1792.7L918.3 1805.2M918.3 1792.7L905.8 1805.2M912.0 1792.7L912.0 1805.2" stroke="#7f7f7f" stroke-width="1.9" fill="none"/><path d="M916.0 1800.0L928.5 1812.5M928.5 1800.0L916.0 1812.5M922.3 1800.0L922.3 1812.5" stroke="#7f7f7f" stroke-width="1.9" fill="none"/><path d="M926.3 1807.3L938.8 1819.9M938.8 1807.3L926.3 1819.9M932.5 1807.3L932.5 1819.9" stroke="#7f7f7f" stroke-width="1.9" fill="none"/><path d="M936.5 1814.7L949.1 1827.2M949.1 1814.7L936.5 1827.2M942.8 1814.7L942.8 1827.2" stroke="#7f7f7f" stroke-width="1.9" fill="none"/><path d="M946.8 1822.0L959.3 1834.5M959.3 1822.0L946.8 1834.5M953.1 1822.0L953.1 1834.5" stroke="#7f7f7f" stroke-width="1.9" fill="none"/><path d="M957.0 1829.3L969.6 1841.8M969.6 1829.3L957.0 1841.8M963.3 1829.3L963.3 1841.8" stroke="#7f7f7f" stroke-width="1.9" fill="none"/><path d="M967.3 1836.6L979.8 1849.1M979.8 1836.6L967.3 1849.1M973.6 1836.6L973.6 1849.1" stroke="#7f7f7f" stroke-width="1.9" fill="none"/><path d="M977.6 1843.9L990.1 1856.4M990.1 1843.9L977.6 1856.4M983.8 1843.9L983.8 1856.4" stroke="#7f7f7f" stroke-width="1.9" fill="none"/><path d="M987.8 1851.2L1000.3 1863.8M1000.3 1851.2L987.8 1863.8M994.1 1851.2L994.1 1863.8" stroke="#7f7f7f" stroke-width="1.9" fill="none"/><path d="M998.1 1858.6L1010.6 1871.1M1010.6 1858.6L998.1 1871.1M1004.3 1858.6L1004.3 1871.1" stroke="#7f7f7f" stroke-width="1.9" fill="none"/><path d="M1008.3 1865.9L1020.9 1878.4M1020.9 1865.9L1008.3 1878.4M1014.6 1865.9L1014.6 1878.4" stroke="#7f7f7f" stroke-width="1.9" fill="none"/><path d="M1018.6 1873.2L1031.1 1885.7M1031.1 1873.2L1018.6 1885.7M1024.9 1873.2L1024.9 1885.7" stroke="#7f7f7f" stroke-width="1.9" fill="none"/><path d="M1028.8 1880.5L1041.4 1893.0M1041.4 1880.5L1028.8 1893.0M1035.1 1880.5L1035.1 1893.0" stroke="#7f7f7f" stroke-width="1.9" fill="none"/><path d="M1039.1 1887.8L1051.6 1900.3M1051.6 1887.8L1039.1 1900.3M1045.4 1887.8L1045.4 1900.3" stroke="#7f7f7f" stroke-width="1.9" fill="none"/><path d="M1049.4 1895.1L1061.9 1907.7M1061.9 1895.1L1049.4 1907.7M1055.6 1895.1L1055.6 1907.7" stroke="#7f7f7f" stroke-width="1.9" fill="none"/><path d="M1059.6 1902.4L1072.1 1915.0M1072.1 1902.4L1059.6 1915.0M1065.9 1902.4L1065.9 1915.0" stroke="#7f7f7f" stroke-width="1.9" fill="none"/><path d="M1069.9 1909.8L1082.4 1922.3M1082.4 1909.8L1069.9 1922.3M1076.1 1909.8L1076.1 1922.3" stroke="#7f7f7f" stroke-width="1.9" fill="none"/><path d="M1080.1 1917.1L1092.7 1929.6M1092.7 1917.1L1080.1 1929.6M1086.4 1917.1L1086.4 1929.6" stroke="#7f7f7f" stroke-width="1.9" fill="none"/><path d="M1090.4 1924.4L1102.9 1936.9M1102.9 1924.4L1090.4 1936.9M1096.7 1924.4L1096.7 1936.9" stroke="#7f7f7f" stroke-width="1.9" fill="none"/>
<path d="M414.9 1622.0L425.1 1622.9L435.3 1623.8L445.5 1624.7L455.6 1625.6L465.8 1626.6L476.0 1627.5L486.2 1628.4L496.3 1629.3L506.5 1630.2L516.7 1631.2L526.9 1632.1L537.0 1633.0L547.2 1633.9L557.4 1634.8L567.6 1635.8L577.7 1636.7L587.9 1637.6L598.1 1638.5L608.3 1639.4L618.4 1640.3L628.6 1641.3L638.8 1643.1L649.0 1644.8L659.1 1646.5L669.3 1648.3L679.5 1650.0L689.7 1651.7L699.8 1653.5L710.0 1655.2L720.2 1656.9L730.4 1658.7L740.5 1660.4L750.7 1662.2L760.9 1663.9L771.1 1665.6L781.2 1667.4L791.4 1675.1L801.6 1684.8L811.8 1695.7L821.9 1709.9L832.1 1723.4L842.3 1729.6L852.5 1735.8L862.6 1742.0L872.8 1748.2L883.0 1754.4L893.2 1760.6L903.3 1766.8L913.5 1773.1L923.7 1779.3L933.9 1785.5L944.0 1791.7L954.2 1797.9L964.4 1804.1L974.6 1810.3L984.7 1816.5L994.9 1822.7L1005.1 1828.9L1015.3 1835.1L1025.4 1841.4L1035.6 1847.6L1045.8 1853.8L1056.0 1860.0L1066.1 1866.2L1076.3 1872.4L1086.5 1878.6L1096.7 1884.8" fill="none" stroke="#7f7f7f" stroke-width="1.3"/>
<rect x="409.5" y="1616.6" width="10.8" height="10.8" stroke="#7f7f7f" stroke-width="2.0" fill="none"/><rect x="419.7" y="1617.5" width="10.8" height="10.8" stroke="#7f7f7f" stroke-width="2.0" fill="none"/><rect x="429.9" y="1618.4" width="10.8" height="10.8" stroke="#7f7f7f" stroke-width="2.0" fill="none"/><rect x="440.1" y="1619.3" width="10.8" height="10.8" stroke="#7f7f7f" stroke-width="2.0" fill="none"/><rect x="450.2" y="1620.2" width="10.8" height="10.8" stroke="#7f7f7f" stroke-width="2.0" fill="none"/><rect x="460.4" y="1621.2" width="10.8" height="10.8" stroke="#7f7f7f" stroke-width="2.0" fill="none"/><rect x="470.6" y="1622.1" width="10.8" height="10.8" stroke="#7f7f7f" stroke-width="2.0" fill="none"/><rect x="480.8" y="1623.0" width="10.8" height="10.8" stroke="#7f7f7f" stroke-width="2.0" fill="none"/><rect x="490.9" y="1623.9" width="10.8" height="10.8" stroke="#7f7f7f" stroke-width="2.0" fill="none"/><rect x="501.1" y="1624.8" width="10.8" height="10.8" stroke="#7f7f7f" stroke-width="2.0" fill="none"/><rect x="511.3" y="1625.8" width="10.8" height="10.8" stroke="#7f7f7f" stroke-width="2.0" fill="none"/><rect x="521.5" y="1626.7" width="10.8" height="10.8" stroke="#7f7f7f" stroke-width="2.0" fill="none"/><rect x="531.6" y="1627.6" width="10.8" height="10.8" stroke="#7f7f7f" stroke-width="2.0" fill="none"/><rect x="541.8" y="1628.5" width="10.8" height="10.8" stroke="#7f7f7f" stroke-width="2.0" fill="none"/><rect x="552.0" y="1629.4" width="10.8" height="10.8" stroke="#7f7f7f" stroke-width="2.0" fill="none"/><rect x="562.2" y="1630.4" width="10.8" height="10.8" stroke="#7f7f7f" stroke-width="2.0" fill="none"/><rect x="572.3" y="1631.3" width="10.8" height="10.8" stroke="#7f7f7f" stroke-width="2.0" fill="none"/><rect x="582.5" y="1632.2" width="10.8" height="10.8" stroke="#7f7f7f" stroke-width="2.0" fill="none"/><rect x="592.7" y="1633.1" width="10.8" height="10.8" stroke="#7f7f7f" stroke-width="2.0" fill="none"/><rect x="602.9" y="1634.0" width="10.8" height="10.8" stroke="#7f7f7f" stroke-width="2.0" fill="none"/><rect x="613.0" y="1634.9" width="10.8" height="10.8" stroke="#7f7f7f" stroke-width="2.0" fill="none"/><rect x="623.2" y="1635.9" width="10.8" height="10.8" stroke="#7f7f7f" stroke-width="2.0" fill="none"/><rect x="633.4" y="1637.7" width="10.8" height="10.8" stroke="#7f7f7f" stroke-width="2.0" fill="none"/><rect x="643.6" y="1639.4" width="10.8" height="10.8" stroke="#7f7f7f" stroke-width="2.0" fill="none"/><rect x="653.7" y="1641.1" width="10.8" height="10.8" stroke="#7f7f7f" stroke-width="2.0" fill="none"/><rect x="663.9" y="1642.9" width="10.8" height="10.8" stroke="#7f7f7f" stroke-width="2.0" fill="none"/><rect x="674.1" y="1644.6" width="10.8" height="10.8" stroke="#7f7f7f" stroke-width="2.0" fill="none"/><rect x="684.3" y="1646.3" width="10.8" height="10.8" stroke="#7f7f7f" stroke-width="2.0" fill="none"/><rect x="694.4" y="1648.1" width="10.8" height="10.8" stroke="#7f7f7f" stroke-width="2.0" fill="none"/><rect x="704.6" y="1649.8" width="10.8" height="10.8" stroke="#7f7f7f" stroke-width="2.0" fill="none"/><rect x="714.8" y="1651.5" width="10.8" height="10.8" stroke="#7f7f7f" stroke-width="2.0" fill="none"/><rect x="725.0" y="1653.3" width="10.8" height="10.8" stroke="#7f7f7f" stroke-width="2.0" fill="none"/><rect x="735.1" y="1655.0" width="10.8" height="10.8" stroke="#7f7f7f" stroke-width="2.0" fill="none"/><rect x="745.3" y="1656.8" width="10.8" height="10.8" stroke="#7f7f7f" stroke-width="2.0" fill="none"/><rect x="755.5" y="1658.5" width="10.8" height="10.8" stroke="#7f7f7f" stroke-width="2.0" fill="none"/><rect x="765.7" y="1660.2" width="10.8" height="10.8" stroke="#7f7f7f" stroke-width="2.0" fill="none"/><rect x="775.8" y="1662.0" width="10.8" height="10.8" stroke="#7f7f7f" stroke-width="2.0" fill="none"/><rect x="786.0" y="1669.7" width="10.8" height="10.8" stroke="#7f7f7f" stroke-width="2.0" fill="none"/><rect x="796.2" y="1679.4" width="10.8" height="10.8" stroke="#7f7f7f" stroke-width="2.0" fill="none"/><rect x="806.4" y="1690.3" width="10.8" height="10.8" stroke="#7f7f7f" stroke-width="2.0" fill="none"/><rect x="816.5" y="1704.5" width="10.8" height="10.8" stroke="#7f7f7f" stroke-width="2.0" fill="none"/><rect x="826.7" y="1718.0" width="10.8" height="10.8" stroke="#7f7f7f" stroke-width="2.0" fill="none"/><rect x="836.9" y="1724.2" width="10.8" height="10.8" stroke="#7f7f7f" stroke-width="2.0" fill="none"/><rect x="847.1" y="1730.4" width="10.8" height="10.8" stroke="#7f7f7f" stroke-width="2.0" fill="none"/><rect x="857.2" y="1736.6" width="10.8" height="10.8" stroke="#7f7f7f" stroke-width="2.0" fill="none"/><rect x="867.4" y="1742.8" width="10.8" height="10.8" stroke="#7f7f7f" stroke-width="2.0" fill="none"/><rect x="877.6" y="1749.0" width="10.8" height="10.8" stroke="#7f7f7f" stroke-width="2.0" fill="none"/><rect x="887.8" y="1755.2" width="10.8" height="10.8" stroke="#7f7f7f" stroke-width="2.0" fill="none"/><rect x="897.9" y="1761.4" width="10.8" height="10.8" stroke="#7f7f7f" stroke-width="2.0" fill="none"/><rect x="908.1" y="1767.7" width="10.8" height="10.8" stroke="#7f7f7f" stroke-width="2.0" fill="none"/><rect x="918.3" y="1773.9" width="10.8" height="10.8" stroke="#7f7f7f" stroke-width="2.0" fill="none"/><rect x="928.5" y="1780.1" width="10.8" height="10.8" stroke="#7f7f7f" stroke-width="2.0" fill="none"/><rect x="938.6" y="1786.3" width="10.8" height="10.8" stroke="#7f7f7f" stroke-width="2.0" fill="none"/><rect x="948.8" y="1792.5" width="10.8" height="10.8" stroke="#7f7f7f" stroke-width="2.0" fill="none"/><rect x="959.0" y="1798.7" width="10.8" height="10.8" stroke="#7f7f7f" stroke-width="2.0" fill="none"/><rect x="969.2" y="1804.9" width="10.8" height="10.8" stroke="#7f7f7f" stroke-width="2.0" fill="none"/><rect x="979.3" y="1811.1" width="10.8" height="10.8" stroke="#7f7f7f" stroke-width="2.0" fill="none"/><rect x="989.5" y="1817.3" width="10.8" height="10.8" stroke="#7f7f7f" stroke-width="2.0" fill="none"/><rect x="999.7" y="1823.5" width="10.8" height="10.8" stroke="#7f7f7f" stroke-width="2.0" fill="none"/><rect x="1009.9" y="1829.7" width="10.8" height="10.8" stroke="#7f7f7f" stroke-width="2.0" fill="none"/><rect x="1020.0" y="1836.0" width="10.8" height="10.8" stroke="#7f7f7f" stroke-width="2.0" fill="none"/><rect x="1030.2" y="1842.2" width="10.8" height="10.8" stroke="#7f7f7f" stroke-width="2.0" fill="none"/><rect x="1040.4" y="1848.4" width="10.8" height="10.8" stroke="#7f7f7f" stroke-width="2.0" fill="none"/><rect x="1050.6" y="1854.6" width="10.8" height="10.8" stroke="#7f7f7f" stroke-width="2.0" fill="none"/><rect x="1060.7" y="1860.8" width="10.8" height="10.8" stroke="#7f7f7f" stroke-width="2.0" fill="none"/><rect x="1070.9" y="1867.0" width="10.8" height="10.8" stroke="#7f7f7f" stroke-width="2.0" fill="none"/><rect x="1081.1" y="1873.2" width="10.8" height="10.8" stroke="#7f7f7f" stroke-width="2.0" fill="none"/><rect x="1091.3" y="1879.4" width="10.8" height="10.8" stroke="#7f7f7f" stroke-width="2.0" fill="none"/>
<path d="M404.4 1618.9L414.6 1619.6L424.7 1620.3L434.9 1621.1L445.1 1621.8L455.3 1622.5L465.5 1623.2L475.6 1623.9L485.8 1624.6L496.0 1625.4L506.2 1626.2L516.4 1627.0L526.6 1627.9L536.7 1628.8L546.9 1629.7L557.1 1630.5L567.3 1631.4L577.5 1632.3L587.6 1633.2L597.8 1634.0L608.0 1634.9L618.2 1635.8L628.4 1636.7L638.5 1638.1L648.7 1639.5L658.9 1640.9L669.1 1642.4L679.3 1643.8L689.4 1645.2L699.6 1646.6L709.8 1648.1L720.0 1649.5L730.2 1650.9L740.3 1652.3L750.5 1653.7L760.7 1655.2L770.9 1656.6L781.1 1658.0L791.2 1659.4L801.4 1660.8L811.6 1662.3L821.8 1663.7L832.0 1677.9L842.1 1712.9L852.3 1719.1L862.5 1725.4L872.7 1731.7L882.9 1737.9L893.0 1744.2L903.2 1750.5L913.4 1756.7L923.6 1763.0L933.8 1769.3L943.9 1775.5L954.1 1781.8L964.3 1788.1L974.5 1794.3L984.7 1800.6L994.8 1806.9L1005.0 1813.1L1015.2 1819.4L1025.4 1825.7L1035.6 1831.9L1045.8 1838.2L1055.9 1844.5L1066.1 1850.7L1076.3 1857.0L1086.5 1863.3L1096.7 1869.5" fill="none" stroke="#7f7f7f" stroke-width="1.3"/>
<circle cx="404.4" cy="1618.9" r="5.1" stroke="#7f7f7f" stroke-width="2.0" fill="none"/><circle cx="414.6" cy="1619.6" r="5.1" stroke="#7f7f7f" stroke-width="2.0" fill="none"/><circle cx="424.7" cy="1620.3" r="5.1" stroke="#7f7f7f" stroke-width="2.0" fill="none"/><circle cx="434.9" cy="1621.1" r="5.1" stroke="#7f7f7f" stroke-width="2.0" fill="none"/><circle cx="445.1" cy="1621.8" r="5.1" stroke="#7f7f7f" stroke-width="2.0" fill="none"/><circle cx="455.3" cy="1622.5" r="5.1" stroke="#7f7f7f" stroke-width="2.0" fill="none"/><circle cx="465.5" cy="1623.2" r="5.1" stroke="#7f7f7f" stroke-width="2.0" fill="none"/><circle cx="475.6" cy="1623.9" r="5.1" stroke="#7f7f7f" stroke-width="2.0" fill="none"/><circle cx="485.8" cy="1624.6" r="5.1" stroke="#7f7f7f" stroke-width="2.0" fill="none"/><circle cx="496.0" cy="1625.4" r="5.1" stroke="#7f7f7f" stroke-width="2.0" fill="none"/><circle cx="506.2" cy="1626.2" r="5.1" stroke="#7f7f7f" stroke-width="2.0" fill="none"/><circle cx="516.4" cy="1627.0" r="5.1" stroke="#7f7f7f" stroke-width="2.0" fill="none"/><circle cx="526.6" cy="1627.9" r="5.1" stroke="#7f7f7f" stroke-width="2.0" fill="none"/><circle cx="536.7" cy="1628.8" r="5.1" stroke="#7f7f7f" stroke-width="2.0" fill="none"/><circle cx="546.9" cy="1629.7" r="5.1" stroke="#7f7f7f" stroke-width="2.0" fill="none"/><circle cx="557.1" cy="1630.5" r="5.1" stroke="#7f7f7f" stroke-width="2.0" fill="none"/><circle cx="567.3" cy="1631.4" r="5.1" stroke="#7f7f7f" stroke-width="2.0" fill="none"/><circle cx="577.5" cy="1632.3" r="5.1" stroke="#7f7f7f" stroke-width="2.0" fill="none"/><circle cx="587.6" cy="1633.2" r="5.1" stroke="#7f7f7f" stroke-width="2.0" fill="none"/><circle cx="597.8" cy="1634.0" r="5.1" stroke="#7f7f7f" stroke-width="2.0" fill="none"/><circle cx="608.0" cy="1634.9" r="5.1" stroke="#7f7f7f" stroke-width="2.0" fill="none"/><circle cx="618.2" cy="1635.8" r="5.1" stroke="#7f7f7f" stroke-width="2.0" fill="none"/><circle cx="628.4" cy="1636.7" r="5.1" stroke="#7f7f7f" stroke-width="2.0" fill="none"/><circle cx="638.5" cy="1638.1" r="5.1" stroke="#7f7f7f" stroke-width="2.0" fill="none"/><circle cx="648.7" cy="1639.5" r="5.1" stroke="#7f7f7f" stroke-width="2.0" fill="none"/><circle cx="658.9" cy="1640.9" r="5.1" stroke="#7f7f7f" stroke-width="2.0" fill="none"/><circle cx="669.1" cy="1642.4" r="5.1" stroke="#7f7f7f" stroke-width="2.0" fill="none"/><circle cx="679.3" cy="1643.8" r="5.1" stroke="#7f7f7f" stroke-width="2.0" fill="none"/><circle cx="689.4" cy="1645.2" r="5.1" stroke="#7f7f7f" stroke-width="2.0" fill="none"/><circle cx="699.6" cy="1646.6" r="5.1" stroke="#7f7f7f" stroke-width="2.0" fill="none"/><circle cx="709.8" cy="1648.1" r="5.1" stroke="#7f7f7f" stroke-width="2.0" fill="none"/><circle cx="720.0" cy="1649.5" r="5.1" stroke="#7f7f7f" stroke-width="2.0" fill="none"/><circle cx="730.2" cy="1650.9" r="5.1" stroke="#7f7f7f" stroke-width="2.0" fill="none"/><circle cx="740.3" cy="1652.3" r="5.1" stroke="#7f7f7f" stroke-width="2.0" fill="none"/><circle cx="750.5" cy="1653.7" r="5.1" stroke="#7f7f7f" stroke-width="2.0" fill="none"/><circle cx="760.7" cy="1655.2" r="5.1" stroke="#7f7f7f" stroke-width="2.0" fill="none"/><circle cx="770.9" cy="1656.6" r="5.1" stroke="#7f7f7f" stroke-width="2.0" fill="none"/><circle cx="781.1" cy="1658.0" r="5.1" stroke="#7f7f7f" stroke-width="2.0" fill="none"/><circle cx="791.2" cy="1659.4" r="5.1" stroke="#7f7f7f" stroke-width="2.0" fill="none"/><circle cx="801.4" cy="1660.8" r="5.1" stroke="#7f7f7f" stroke-width="2.0" fill="none"/><circle cx="811.6" cy="1662.3" r="5.1" stroke="#7f7f7f" stroke-width="2.0" fill="none"/><circle cx="821.8" cy="1663.7" r="5.1" stroke="#7f7f7f" stroke-width="2.0" fill="none"/><circle cx="832.0" cy="1677.9" r="5.1" stroke="#7f7f7f" stroke-width="2.0" fill="none"/><circle cx="842.1" cy="1712.9" r="5.1" stroke="#7f7f7f" stroke-width="2.0" fill="none"/><circle cx="852.3" cy="1719.1" r="5.1" stroke="#7f7f7f" stroke-width="2.0" fill="none"/><circle cx="862.5" cy="1725.4" r="5.1" stroke="#7f7f7f" stroke-width="2.0" fill="none"/><circle cx="872.7" cy="1731.7" r="5.1" stroke="#7f7f7f" stroke-width="2.0" fill="none"/><circle cx="882.9" cy="1737.9" r="5.1" stroke="#7f7f7f" stroke-width="2.0" fill="none"/><circle cx="893.0" cy="1744.2" r="5.1" stroke="#7f7f7f" stroke-width="2.0" fill="none"/><circle cx="903.2" cy="1750.5" r="5.1" stroke="#7f7f7f" stroke-width="2.0" fill="none"/><circle cx="913.4" cy="1756.7" r="5.1" stroke="#7f7f7f" stroke-width="2.0" fill="none"/><circle cx="923.6" cy="1763.0" r="5.1" stroke="#7f7f7f" stroke-width="2.0" fill="none"/><circle cx="933.8" cy="1769.3" r="5.1" stroke="#7f7f7f" stroke-width="2.0" fill="none"/><circle cx="943.9" cy="1775.5" r="5.1" stroke="#7f7f7f" stroke-width="2.0" fill="none"/><circle cx="954.1" cy="1781.8" r="5.1" stroke="#7f7f7f" stroke-width="2.0" fill="none"/><circle cx="964.3" cy="1788.1" r="5.1" stroke="#7f7f7f" stroke-width="2.0" fill="none"/><circle cx="974.5" cy="1794.3" r="5.1" stroke="#7f7f7f" stroke-width="2.0" fill="none"/><circle cx="984.7" cy="1800.6" r="5.1" stroke="#7f7f7f" stroke-width="2.0" fill="none"/><circle cx="994.8" cy="1806.9" r="5.1" stroke="#7f7f7f" stroke-width="2.0" fill="none"/><circle cx="1005.0" cy="1813.1" r="5.1" stroke="#7f7f7f" stroke-width="2.0" fill="none"/><circle cx="1015.2" cy="1819.4" r="5.1" stroke="#7f7f7f" stroke-width="2.0" fill="none"/><circle cx="1025.4" cy="1825.7" r="5.1" stroke="#7f7f7f" stroke-width="2.0" fill="none"/><circle cx="1035.6" cy="1831.9" r="5.1" stroke="#7f7f7f" stroke-width="2.0" fill="none"/><circle cx="1045.8" cy="1838.2" r="5.1" stroke="#7f7f7f" stroke-width="2.0" fill="none"/><circle cx="1055.9" cy="1844.5" r="5.1" stroke="#7f7f7f" stroke-width="2.0" fill="none"/><circle cx="1066.1" cy="1850.7" r="5.1" stroke="#7f7f7f" stroke-width="2.0" fill="none"/><circle cx="1076.3" cy="1857.0" r="5.1" stroke="#7f7f7f" stroke-width="2.0" fill="none"/><circle cx="1086.5" cy="1863.3" r="5.1" stroke="#7f7f7f" stroke-width="2.0" fill="none"/><circle cx="1096.7" cy="1869.5" r="5.1" stroke="#7f7f7f" stroke-width="2.0" fill="none"/>
<path d="M402.6 1725.9L412.8 1727.0L423.0 1728.2L433.2 1729.4L443.4 1730.5L453.6 1731.7L463.8 1732.9L474.0 1734.0L484.2 1609.6L494.4 1610.9L504.6 1612.1L514.8 1613.4L525.1 1614.7L535.3 1615.9L545.5 1617.2L555.7 1618.5L565.9 1619.7L576.1 1621.0L586.3 1622.3L596.5 1623.5L606.7 1624.8L616.9 1626.1L627.1 1627.4L637.3 1629.1L647.5 1631.0L657.7 1632.8L668.0 1634.7L678.2 1636.5L688.4 1638.3L698.6 1640.2L708.8 1642.0L719.0 1643.9L729.2 1645.7L739.4 1647.5L749.6 1649.4L759.8 1651.2L770.0 1653.1L780.2 1654.9L790.4 1656.7L800.6 1658.6L810.9 1660.4L821.1 1662.3L831.3 1664.1L841.5 1709.3L851.7 1715.1L861.9 1720.9L872.1 1726.7L882.3 1732.5L892.5 1738.4L902.7 1744.2L912.9 1750.0L923.1 1755.8L933.3 1761.7L943.5 1767.5L953.8 1773.3L964.0 1779.1L974.2 1784.9L984.4 1790.8L994.6 1793.6L1004.8 1794.4L1015.0 1795.1L1025.2 1795.9L1035.4 1796.7L1045.6 1797.5L1055.8 1798.3L1066.0 1799.0L1076.2 1799.8L1086.4 1800.6L1096.7 1801.4" fill="none" stroke="#7f7f7f" stroke-width="1.3"/>
<path d="M402.6 1719.6L408.8 1730.9L396.3 1730.9Z" stroke="#7f7f7f" stroke-width="2.0" fill="none"/><path d="M412.8 1720.8L419.0 1732.1L406.5 1732.1Z" stroke="#7f7f7f" stroke-width="2.0" fill="none"/><path d="M423.0 1721.9L429.2 1733.2L416.7 1733.2Z" stroke="#7f7f7f" stroke-width="2.0" fill="none"/><path d="M433.2 1723.1L439.5 1734.4L426.9 1734.4Z" stroke="#7f7f7f" stroke-width="2.0" fill="none"/><path d="M443.4 1724.3L449.7 1735.5L437.1 1735.5Z" stroke="#7f7f7f" stroke-width="2.0" fill="none"/><path d="M453.6 1725.4L459.9 1736.7L447.3 1736.7Z" stroke="#7f7f7f" stroke-width="2.0" fill="none"/><path d="M463.8 1726.6L470.1 1737.9L457.5 1737.9Z" stroke="#7f7f7f" stroke-width="2.0" fill="none"/><path d="M474.0 1727.7L480.3 1739.0L467.8 1739.0Z" stroke="#7f7f7f" stroke-width="2.0" fill="none"/><path d="M484.2 1603.3L490.5 1614.6L478.0 1614.6Z" stroke="#7f7f7f" stroke-width="2.0" fill="none"/><path d="M494.4 1604.6L500.7 1615.9L488.2 1615.9Z" stroke="#7f7f7f" stroke-width="2.0" fill="none"/><path d="M504.6 1605.9L510.9 1617.1L498.4 1617.1Z" stroke="#7f7f7f" stroke-width="2.0" fill="none"/><path d="M514.8 1607.1L521.1 1618.4L508.6 1618.4Z" stroke="#7f7f7f" stroke-width="2.0" fill="none"/><path d="M525.1 1608.4L531.3 1619.7L518.8 1619.7Z" stroke="#7f7f7f" stroke-width="2.0" fill="none"/><path d="M535.3 1609.7L541.5 1620.9L529.0 1620.9Z" stroke="#7f7f7f" stroke-width="2.0" fill="none"/><path d="M545.5 1610.9L551.7 1622.2L539.2 1622.2Z" stroke="#7f7f7f" stroke-width="2.0" fill="none"/><path d="M555.7 1612.2L561.9 1623.5L549.4 1623.5Z" stroke="#7f7f7f" stroke-width="2.0" fill="none"/><path d="M565.9 1613.5L572.1 1624.8L559.6 1624.8Z" stroke="#7f7f7f" stroke-width="2.0" fill="none"/><path d="M576.1 1614.7L582.4 1626.0L569.8 1626.0Z" stroke="#7f7f7f" stroke-width="2.0" fill="none"/><path d="M586.3 1616.0L592.6 1627.3L580.0 1627.3Z" stroke="#7f7f7f" stroke-width="2.0" fill="none"/><path d="M596.5 1617.3L602.8 1628.6L590.2 1628.6Z" stroke="#7f7f7f" stroke-width="2.0" fill="none"/><path d="M606.7 1618.5L613.0 1629.8L600.4 1629.8Z" stroke="#7f7f7f" stroke-width="2.0" fill="none"/><path d="M616.9 1619.8L623.2 1631.1L610.7 1631.1Z" stroke="#7f7f7f" stroke-width="2.0" fill="none"/><path d="M627.1 1621.1L633.4 1632.4L620.9 1632.4Z" stroke="#7f7f7f" stroke-width="2.0" fill="none"/><path d="M637.3 1622.9L643.6 1634.2L631.1 1634.2Z" stroke="#7f7f7f" stroke-width="2.0" fill="none"/><path d="M647.5 1624.7L653.8 1636.0L641.3 1636.0Z" stroke="#7f7f7f" stroke-width="2.0" fill="none"/><path d="M657.7 1626.6L664.0 1637.8L651.5 1637.8Z" stroke="#7f7f7f" stroke-width="2.0" fill="none"/><path d="M668.0 1628.4L674.2 1639.7L661.7 1639.7Z" stroke="#7f7f7f" stroke-width="2.0" fill="none"/><path d="M678.2 1630.2L684.4 1641.5L671.9 1641.5Z" stroke="#7f7f7f" stroke-width="2.0" fill="none"/><path d="M688.4 1632.1L694.6 1643.4L682.1 1643.4Z" stroke="#7f7f7f" stroke-width="2.0" fill="none"/><path d="M698.6 1633.9L704.8 1645.2L692.3 1645.2Z" stroke="#7f7f7f" stroke-width="2.0" fill="none"/><path d="M708.8 1635.8L715.0 1647.0L702.5 1647.0Z" stroke="#7f7f7f" stroke-width="2.0" fill="none"/><path d="M719.0 1637.6L725.3 1648.9L712.7 1648.9Z" stroke="#7f7f7f" stroke-width="2.0" fill="none"/><path d="M729.2 1639.4L735.5 1650.7L722.9 1650.7Z" stroke="#7f7f7f" stroke-width="2.0" fill="none"/><path d="M739.4 1641.3L745.7 1652.6L733.1 1652.6Z" stroke="#7f7f7f" stroke-width="2.0" fill="none"/><path d="M749.6 1643.1L755.9 1654.4L743.3 1654.4Z" stroke="#7f7f7f" stroke-width="2.0" fill="none"/><path d="M759.8 1645.0L766.1 1656.2L753.6 1656.2Z" stroke="#7f7f7f" stroke-width="2.0" fill="none"/><path d="M770.0 1646.8L776.3 1658.1L763.8 1658.1Z" stroke="#7f7f7f" stroke-width="2.0" fill="none"/><path d="M780.2 1648.6L786.5 1659.9L774.0 1659.9Z" stroke="#7f7f7f" stroke-width="2.0" fill="none"/><path d="M790.4 1650.5L796.7 1661.8L784.2 1661.8Z" stroke="#7f7f7f" stroke-width="2.0" fill="none"/><path d="M800.6 1652.3L806.9 1663.6L794.4 1663.6Z" stroke="#7f7f7f" stroke-width="2.0" fill="none"/><path d="M810.9 1654.2L817.1 1665.4L804.6 1665.4Z" stroke="#7f7f7f" stroke-width="2.0" fill="none"/><path d="M821.1 1656.0L827.3 1667.3L814.8 1667.3Z" stroke="#7f7f7f" stroke-width="2.0" fill="none"/><path d="M831.3 1657.8L837.5 1669.1L825.0 1669.1Z" stroke="#7f7f7f" stroke-width="2.0" fill="none"/><path d="M841.5 1703.0L847.7 1714.3L835.2 1714.3Z" stroke="#7f7f7f" stroke-width="2.0" fill="none"/><path d="M851.7 1708.8L857.9 1720.1L845.4 1720.1Z" stroke="#7f7f7f" stroke-width="2.0" fill="none"/><path d="M861.9 1714.6L868.2 1725.9L855.6 1725.9Z" stroke="#7f7f7f" stroke-width="2.0" fill="none"/><path d="M872.1 1720.5L878.4 1731.7L865.8 1731.7Z" stroke="#7f7f7f" stroke-width="2.0" fill="none"/><path d="M882.3 1726.3L888.6 1737.6L876.0 1737.6Z" stroke="#7f7f7f" stroke-width="2.0" fill="none"/><path d="M892.5 1732.1L898.8 1743.4L886.2 1743.4Z" stroke="#7f7f7f" stroke-width="2.0" fill="none"/><path d="M902.7 1737.9L909.0 1749.2L896.5 1749.2Z" stroke="#7f7f7f" stroke-width="2.0" fill="none"/><path d="M912.9 1743.7L919.2 1755.0L906.7 1755.0Z" stroke="#7f7f7f" stroke-width="2.0" fill="none"/><path d="M923.1 1749.6L929.4 1760.8L916.9 1760.8Z" stroke="#7f7f7f" stroke-width="2.0" fill="none"/><path d="M933.3 1755.4L939.6 1766.7L927.1 1766.7Z" stroke="#7f7f7f" stroke-width="2.0" fill="none"/><path d="M943.5 1761.2L949.8 1772.5L937.3 1772.5Z" stroke="#7f7f7f" stroke-width="2.0" fill="none"/><path d="M953.8 1767.0L960.0 1778.3L947.5 1778.3Z" stroke="#7f7f7f" stroke-width="2.0" fill="none"/><path d="M964.0 1772.9L970.2 1784.1L957.7 1784.1Z" stroke="#7f7f7f" stroke-width="2.0" fill="none"/><path d="M974.2 1778.7L980.4 1790.0L967.9 1790.0Z" stroke="#7f7f7f" stroke-width="2.0" fill="none"/><path d="M984.4 1784.5L990.6 1795.8L978.1 1795.8Z" stroke="#7f7f7f" stroke-width="2.0" fill="none"/><path d="M994.6 1787.3L1000.8 1798.6L988.3 1798.6Z" stroke="#7f7f7f" stroke-width="2.0" fill="none"/><path d="M1004.8 1788.1L1011.1 1799.4L998.5 1799.4Z" stroke="#7f7f7f" stroke-width="2.0" fill="none"/><path d="M1015.0 1788.9L1021.3 1800.2L1008.7 1800.2Z" stroke="#7f7f7f" stroke-width="2.0" fill="none"/><path d="M1025.2 1789.7L1031.5 1800.9L1018.9 1800.9Z" stroke="#7f7f7f" stroke-width="2.0" fill="none"/><path d="M1035.4 1790.4L1041.7 1801.7L1029.1 1801.7Z" stroke="#7f7f7f" stroke-width="2.0" fill="none"/><path d="M1045.6 1791.2L1051.9 1802.5L1039.4 1802.5Z" stroke="#7f7f7f" stroke-width="2.0" fill="none"/><path d="M1055.8 1792.0L1062.1 1803.3L1049.6 1803.3Z" stroke="#7f7f7f" stroke-width="2.0" fill="none"/><path d="M1066.0 1792.8L1072.3 1804.0L1059.8 1804.0Z" stroke="#7f7f7f" stroke-width="2.0" fill="none"/><path d="M1076.2 1793.6L1082.5 1804.8L1070.0 1804.8Z" stroke="#7f7f7f" stroke-width="2.0" fill="none"/><path d="M1086.4 1794.3L1092.7 1805.6L1080.2 1805.6Z" stroke="#7f7f7f" stroke-width="2.0" fill="none"/><path d="M1096.7 1795.1L1102.9 1806.4L1090.4 1806.4Z" stroke="#7f7f7f" stroke-width="2.0" fill="none"/>
<path d="M412.8 1559.6L423.0 1561.8L433.2 1563.9L443.4 1566.1L453.6 1568.2L463.8 1570.4L474.0 1572.5L484.2 1574.7L494.4 1576.8L504.6 1579.0L514.8 1581.1L525.0 1583.3L535.2 1585.4L545.5 1587.6L555.7 1589.8L565.9 1591.9L576.1 1594.1L586.3 1596.2L596.5 1598.4L606.7 1600.5L616.9 1602.7L627.1 1604.8L637.3 1607.0L647.5 1609.1L657.7 1611.3L667.9 1613.4L678.2 1615.6L688.4 1617.8L698.6 1619.9L708.8 1622.1L719.0 1624.2L729.2 1626.4L739.4 1628.5L749.6 1630.7L759.8 1632.8L770.0 1635.0L780.2 1637.1L790.4 1639.3L800.6 1641.4L810.8 1654.1L821.1 1668.8L831.3 1679.7L841.5 1688.1L851.7 1695.4L861.9 1702.7L872.1 1710.0L882.3 1717.2L892.5 1724.5L902.7 1731.8L912.9 1739.1L923.1 1746.4L933.3 1753.7L943.5 1761.0L953.8 1768.2L964.0 1775.5L974.2 1782.8L984.4 1790.4L994.6 1798.1L1004.8 1805.8L1015.0 1813.4L1025.2 1821.1L1035.4 1828.7L1045.6 1836.4L1055.8 1844.1L1066.0 1851.7L1076.2 1859.4L1086.4 1867.1L1096.7 1874.7" fill="none" stroke="#7f7f7f" stroke-width="1.3"/>
<path d="M412.8 1553.6L418.8 1559.6L412.8 1565.7L406.7 1559.6Z" stroke="#7f7f7f" stroke-width="2.0" fill="none"/><path d="M423.0 1555.7L429.0 1561.8L423.0 1567.8L416.9 1561.8Z" stroke="#7f7f7f" stroke-width="2.0" fill="none"/><path d="M433.2 1557.9L439.2 1563.9L433.2 1570.0L427.1 1563.9Z" stroke="#7f7f7f" stroke-width="2.0" fill="none"/><path d="M443.4 1560.0L449.4 1566.1L443.4 1572.1L437.3 1566.1Z" stroke="#7f7f7f" stroke-width="2.0" fill="none"/><path d="M453.6 1562.2L459.6 1568.2L453.6 1574.3L447.5 1568.2Z" stroke="#7f7f7f" stroke-width="2.0" fill="none"/><path d="M463.8 1564.3L469.8 1570.4L463.8 1576.4L457.7 1570.4Z" stroke="#7f7f7f" stroke-width="2.0" fill="none"/><path d="M474.0 1566.5L480.1 1572.5L474.0 1578.6L468.0 1572.5Z" stroke="#7f7f7f" stroke-width="2.0" fill="none"/><path d="M484.2 1568.6L490.3 1574.7L484.2 1580.7L478.2 1574.7Z" stroke="#7f7f7f" stroke-width="2.0" fill="none"/><path d="M494.4 1570.8L500.5 1576.8L494.4 1582.9L488.4 1576.8Z" stroke="#7f7f7f" stroke-width="2.0" fill="none"/><path d="M504.6 1572.9L510.7 1579.0L504.6 1585.0L498.6 1579.0Z" stroke="#7f7f7f" stroke-width="2.0" fill="none"/><path d="M514.8 1575.1L520.9 1581.1L514.8 1587.2L508.8 1581.1Z" stroke="#7f7f7f" stroke-width="2.0" fill="none"/><path d="M525.0 1577.2L531.1 1583.3L525.0 1589.3L519.0 1583.3Z" stroke="#7f7f7f" stroke-width="2.0" fill="none"/><path d="M535.2 1579.4L541.3 1585.4L535.2 1591.5L529.2 1585.4Z" stroke="#7f7f7f" stroke-width="2.0" fill="none"/><path d="M545.5 1581.6L551.5 1587.6L545.5 1593.6L539.4 1587.6Z" stroke="#7f7f7f" stroke-width="2.0" fill="none"/><path d="M555.7 1583.7L561.7 1589.8L555.7 1595.8L549.6 1589.8Z" stroke="#7f7f7f" stroke-width="2.0" fill="none"/><path d="M565.9 1585.9L571.9 1591.9L565.9 1598.0L559.8 1591.9Z" stroke="#7f7f7f" stroke-width="2.0" fill="none"/><path d="M576.1 1588.0L582.1 1594.1L576.1 1600.1L570.0 1594.1Z" stroke="#7f7f7f" stroke-width="2.0" fill="none"/><path d="M586.3 1590.2L592.3 1596.2L586.3 1602.3L580.2 1596.2Z" stroke="#7f7f7f" stroke-width="2.0" fill="none"/><path d="M596.5 1592.3L602.5 1598.4L596.5 1604.4L590.4 1598.4Z" stroke="#7f7f7f" stroke-width="2.0" fill="none"/><path d="M606.7 1594.5L612.7 1600.5L606.7 1606.6L600.7 1600.5Z" stroke="#7f7f7f" stroke-width="2.0" fill="none"/><path d="M616.9 1596.6L623.0 1602.7L616.9 1608.7L610.9 1602.7Z" stroke="#7f7f7f" stroke-width="2.0" fill="none"/><path d="M627.1 1598.8L633.2 1604.8L627.1 1610.9L621.1 1604.8Z" stroke="#7f7f7f" stroke-width="2.0" fill="none"/><path d="M637.3 1600.9L643.4 1607.0L637.3 1613.0L631.3 1607.0Z" stroke="#7f7f7f" stroke-width="2.0" fill="none"/><path d="M647.5 1603.1L653.6 1609.1L647.5 1615.2L641.5 1609.1Z" stroke="#7f7f7f" stroke-width="2.0" fill="none"/><path d="M657.7 1605.2L663.8 1611.3L657.7 1617.3L651.7 1611.3Z" stroke="#7f7f7f" stroke-width="2.0" fill="none"/><path d="M667.9 1607.4L674.0 1613.4L667.9 1619.5L661.9 1613.4Z" stroke="#7f7f7f" stroke-width="2.0" fill="none"/><path d="M678.2 1609.6L684.2 1615.6L678.2 1621.6L672.1 1615.6Z" stroke="#7f7f7f" stroke-width="2.0" fill="none"/><path d="M688.4 1611.7L694.4 1617.8L688.4 1623.8L682.3 1617.8Z" stroke="#7f7f7f" stroke-width="2.0" fill="none"/><path d="M698.6 1613.9L704.6 1619.9L698.6 1626.0L692.5 1619.9Z" stroke="#7f7f7f" stroke-width="2.0" fill="none"/><path d="M708.8 1616.0L714.8 1622.1L708.8 1628.1L702.7 1622.1Z" stroke="#7f7f7f" stroke-width="2.0" fill="none"/><path d="M719.0 1618.2L725.0 1624.2L719.0 1630.3L712.9 1624.2Z" stroke="#7f7f7f" stroke-width="2.0" fill="none"/><path d="M729.2 1620.3L735.2 1626.4L729.2 1632.4L723.1 1626.4Z" stroke="#7f7f7f" stroke-width="2.0" fill="none"/><path d="M739.4 1622.5L745.4 1628.5L739.4 1634.6L733.3 1628.5Z" stroke="#7f7f7f" stroke-width="2.0" fill="none"/><path d="M749.6 1624.6L755.7 1630.7L749.6 1636.7L743.6 1630.7Z" stroke="#7f7f7f" stroke-width="2.0" fill="none"/><path d="M759.8 1626.8L765.9 1632.8L759.8 1638.9L753.8 1632.8Z" stroke="#7f7f7f" stroke-width="2.0" fill="none"/><path d="M770.0 1628.9L776.1 1635.0L770.0 1641.0L764.0 1635.0Z" stroke="#7f7f7f" stroke-width="2.0" fill="none"/><path d="M780.2 1631.1L786.3 1637.1L780.2 1643.2L774.2 1637.1Z" stroke="#7f7f7f" stroke-width="2.0" fill="none"/><path d="M790.4 1633.2L796.5 1639.3L790.4 1645.3L784.4 1639.3Z" stroke="#7f7f7f" stroke-width="2.0" fill="none"/><path d="M800.6 1635.4L806.7 1641.4L800.6 1647.5L794.6 1641.4Z" stroke="#7f7f7f" stroke-width="2.0" fill="none"/><path d="M810.8 1648.1L816.9 1654.1L810.8 1660.2L804.8 1654.1Z" stroke="#7f7f7f" stroke-width="2.0" fill="none"/><path d="M821.1 1662.7L827.1 1668.8L821.1 1674.8L815.0 1668.8Z" stroke="#7f7f7f" stroke-width="2.0" fill="none"/><path d="M831.3 1673.6L837.3 1679.7L831.3 1685.7L825.2 1679.7Z" stroke="#7f7f7f" stroke-width="2.0" fill="none"/><path d="M841.5 1682.0L847.5 1688.1L841.5 1694.1L835.4 1688.1Z" stroke="#7f7f7f" stroke-width="2.0" fill="none"/><path d="M851.7 1689.3L857.7 1695.4L851.7 1701.4L845.6 1695.4Z" stroke="#7f7f7f" stroke-width="2.0" fill="none"/><path d="M861.9 1696.6L867.9 1702.7L861.9 1708.7L855.8 1702.7Z" stroke="#7f7f7f" stroke-width="2.0" fill="none"/><path d="M872.1 1703.9L878.1 1710.0L872.1 1716.0L866.0 1710.0Z" stroke="#7f7f7f" stroke-width="2.0" fill="none"/><path d="M882.3 1711.2L888.3 1717.2L882.3 1723.3L876.3 1717.2Z" stroke="#7f7f7f" stroke-width="2.0" fill="none"/><path d="M892.5 1718.5L898.6 1724.5L892.5 1730.6L886.5 1724.5Z" stroke="#7f7f7f" stroke-width="2.0" fill="none"/><path d="M902.7 1725.8L908.8 1731.8L902.7 1737.9L896.7 1731.8Z" stroke="#7f7f7f" stroke-width="2.0" fill="none"/><path d="M912.9 1733.0L919.0 1739.1L912.9 1745.1L906.9 1739.1Z" stroke="#7f7f7f" stroke-width="2.0" fill="none"/><path d="M923.1 1740.3L929.2 1746.4L923.1 1752.4L917.1 1746.4Z" stroke="#7f7f7f" stroke-width="2.0" fill="none"/><path d="M933.3 1747.6L939.4 1753.7L933.3 1759.7L927.3 1753.7Z" stroke="#7f7f7f" stroke-width="2.0" fill="none"/><path d="M943.5 1754.9L949.6 1761.0L943.5 1767.0L937.5 1761.0Z" stroke="#7f7f7f" stroke-width="2.0" fill="none"/><path d="M953.8 1762.2L959.8 1768.2L953.8 1774.3L947.7 1768.2Z" stroke="#7f7f7f" stroke-width="2.0" fill="none"/><path d="M964.0 1769.5L970.0 1775.5L964.0 1781.6L957.9 1775.5Z" stroke="#7f7f7f" stroke-width="2.0" fill="none"/><path d="M974.2 1776.8L980.2 1782.8L974.2 1788.9L968.1 1782.8Z" stroke="#7f7f7f" stroke-width="2.0" fill="none"/><path d="M984.4 1784.4L990.4 1790.4L984.4 1796.5L978.3 1790.4Z" stroke="#7f7f7f" stroke-width="2.0" fill="none"/><path d="M994.6 1792.0L1000.6 1798.1L994.6 1804.1L988.5 1798.1Z" stroke="#7f7f7f" stroke-width="2.0" fill="none"/><path d="M1004.8 1799.7L1010.8 1805.8L1004.8 1811.8L998.7 1805.8Z" stroke="#7f7f7f" stroke-width="2.0" fill="none"/><path d="M1015.0 1807.4L1021.0 1813.4L1015.0 1819.5L1008.9 1813.4Z" stroke="#7f7f7f" stroke-width="2.0" fill="none"/><path d="M1025.2 1815.0L1031.2 1821.1L1025.2 1827.1L1019.2 1821.1Z" stroke="#7f7f7f" stroke-width="2.0" fill="none"/><path d="M1035.4 1822.7L1041.5 1828.7L1035.4 1834.8L1029.4 1828.7Z" stroke="#7f7f7f" stroke-width="2.0" fill="none"/><path d="M1045.6 1830.4L1051.7 1836.4L1045.6 1842.5L1039.6 1836.4Z" stroke="#7f7f7f" stroke-width="2.0" fill="none"/><path d="M1055.8 1838.0L1061.9 1844.1L1055.8 1850.1L1049.8 1844.1Z" stroke="#7f7f7f" stroke-width="2.0" fill="none"/><path d="M1066.0 1845.7L1072.1 1851.7L1066.0 1857.8L1060.0 1851.7Z" stroke="#7f7f7f" stroke-width="2.0" fill="none"/><path d="M1076.2 1853.4L1082.3 1859.4L1076.2 1865.4L1070.2 1859.4Z" stroke="#7f7f7f" stroke-width="2.0" fill="none"/><path d="M1086.4 1861.0L1092.5 1867.1L1086.4 1873.1L1080.4 1867.1Z" stroke="#7f7f7f" stroke-width="2.0" fill="none"/><path d="M1096.7 1868.7L1102.7 1874.7L1096.7 1880.8L1090.6 1874.7Z" stroke="#7f7f7f" stroke-width="2.0" fill="none"/>
<path d="M394.2 1599.6L396.0 1629.3L406.9 1640.3L418.2 1633.0L466.7 1642.1L479.8 1631.1L628.0 1660.8L774.4 1686.8L785.3 1692.3L791.9 1700.8L808.6 1715.2L829.0 1733.2L842.1 1748.8L1088.6 1891.2" fill="none" stroke="#000" stroke-width="5" stroke-linejoin="round" stroke-linecap="round"/>
</g>
<line x1="916.1" y1="23.6" x2="916.1" y2="652.0" stroke="#3d8fd1" stroke-width="3"/>
<line x1="926.5" y1="27" x2="926.5" y2="652.0" stroke="#c8161d" stroke-width="3"/>
<text x="789" y="55.3" font-size="41" font-family="Liberation Serif" font-style="italic" fill="#3f5fae">f</text>
<text x="806.5" y="65.1" font-size="22.7" fill="#3f5fae" textLength="64" lengthAdjust="spacingAndGlyphs">Hmax</text>
<text x="950.3" y="54.9" font-size="36.2" fill="#c8161d">T</text>
<text x="967.8" y="64.2" font-size="22.9" fill="#c8161d">ARR</text>
<line x1="226.8" y1="1097.9" x2="1142.1" y2="1097.9" stroke="#7f7f7f" stroke-width="2.4"/>
<line x1="584.8" y1="759" x2="584.8" y2="1324.2" stroke="#7030a0" stroke-width="3"/>
<text x="508" y="790.6" font-size="37" fill="#7030a0">T</text>
<text x="529" y="799.7" font-size="23.5" fill="#7030a0">QB</text>
<line x1="792.6" y1="1478.3" x2="792.6" y2="2089.6" stroke="#4d8a2e" stroke-width="2.8"/>
<text x="718.5" y="1514" font-size="36" fill="#4d8a2e">T</text>
<text x="736.6" y="1523.1" font-size="24" fill="#4d8a2e">AB</text>
</svg></body></html>
